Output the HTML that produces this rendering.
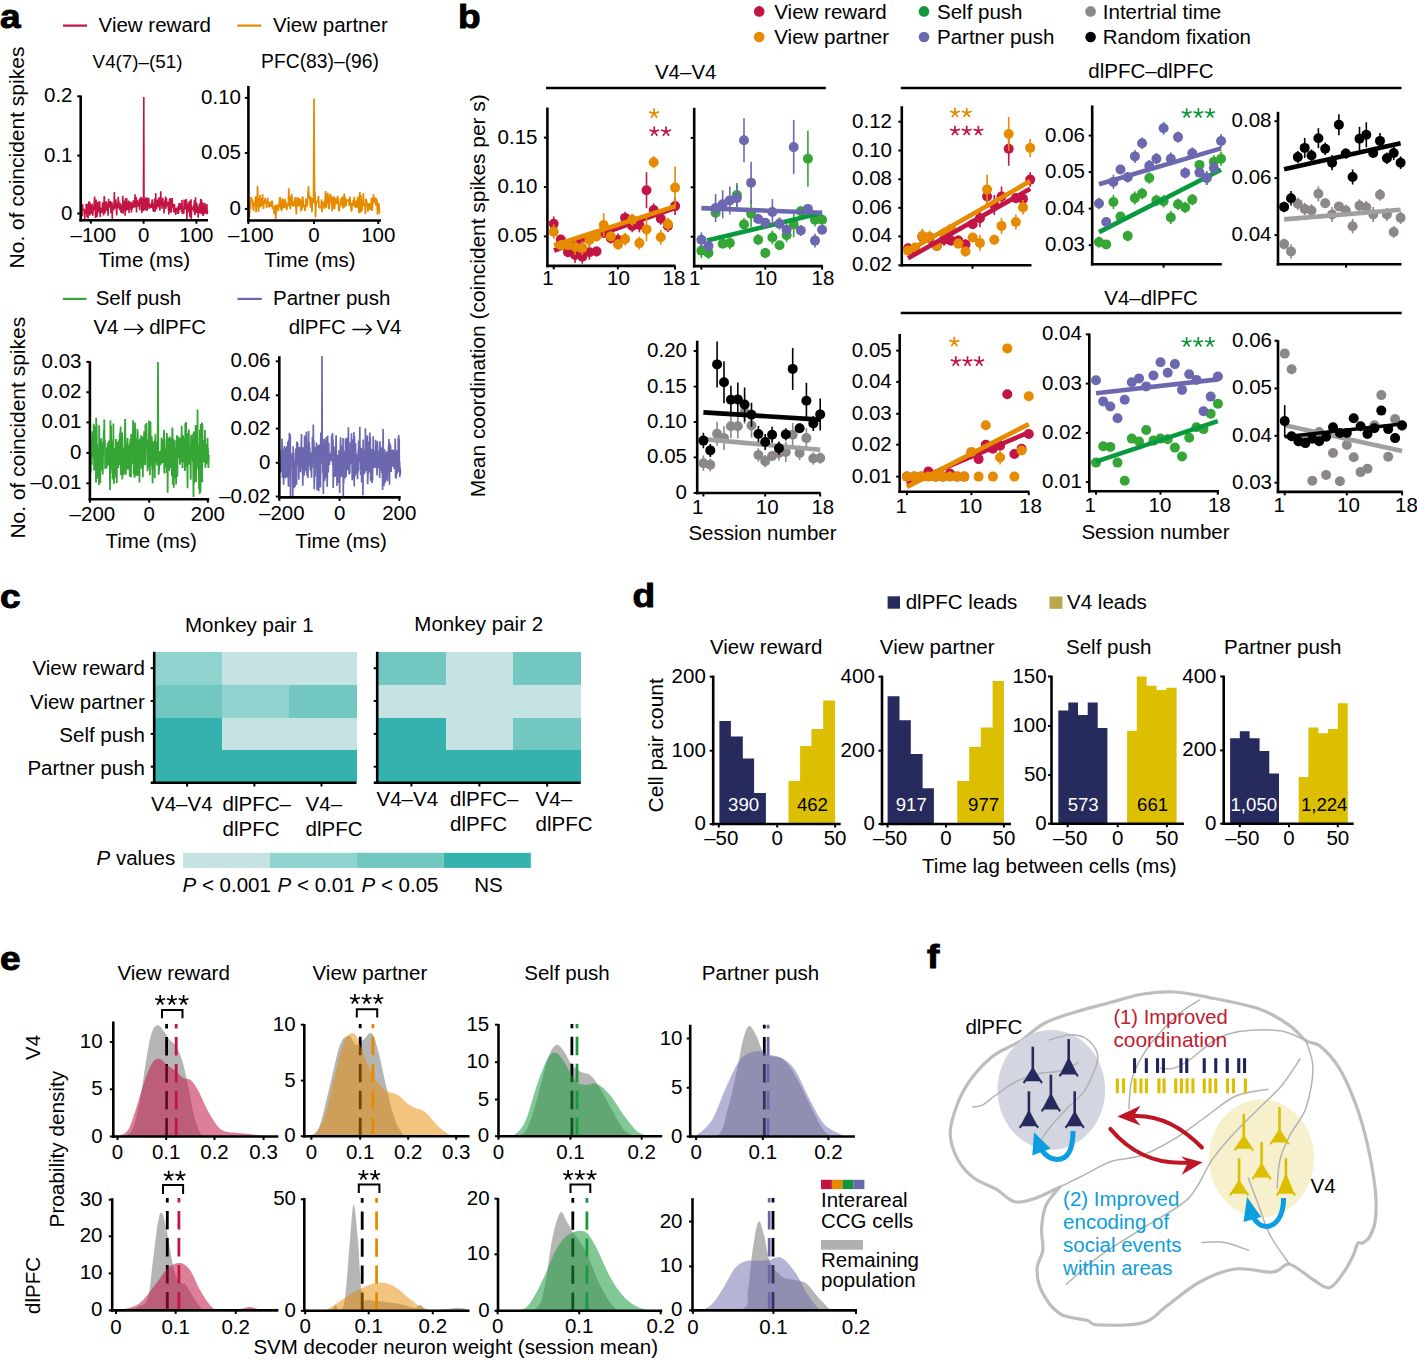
<!DOCTYPE html>
<html><head><meta charset="utf-8"><title>Figure</title>
<style>html,body{margin:0;padding:0;background:#fff;}svg{display:block;font-family:"Liberation Sans",sans-serif;}</style>
</head><body>
<svg width="1417" height="1360" viewBox="0 0 1417 1360">
<rect width="1417" height="1360" fill="#fff"/>
<text transform="translate(0.0,28.2) scale(1.14,1)" font-size="32.5" font-weight="bold" fill="#000" stroke="#000" stroke-width="0.9">a</text>
<line x1="63.0" y1="25.6" x2="87.0" y2="25.6" stroke="#c31545" stroke-width="2.2" />
<text x="98.6" y="32.3" font-size="20.5" text-anchor="start" fill="#000" font-weight="normal" >View reward</text>
<line x1="237.3" y1="25.6" x2="261.3" y2="25.6" stroke="#e68a00" stroke-width="2.2" />
<text x="273.0" y="32.3" font-size="20.5" text-anchor="start" fill="#000" font-weight="normal" >View partner</text>
<text x="137.5" y="68.3" font-size="18.8" text-anchor="middle" fill="#000" font-weight="normal" >V4(7)–(51)</text>
<text x="320.0" y="68.3" font-size="19.3" text-anchor="middle" fill="#000" font-weight="normal" >PFC(83)–(96)</text>
<text transform="translate(24.2,157.5) rotate(-90)" font-size="21" text-anchor="middle" fill="#000">No. of coincident spikes</text>
<text transform="translate(24.6,427.7) rotate(-90)" font-size="21" text-anchor="middle" fill="#000">No. of coincident spikes</text>
<line x1="62.8" y1="298.9" x2="86.4" y2="298.9" stroke="#35a535" stroke-width="2.2" />
<text x="95.7" y="304.6" font-size="20.5" text-anchor="start" fill="#000" font-weight="normal" >Self push</text>
<line x1="237.5" y1="298.9" x2="261.8" y2="298.9" stroke="#6b68b0" stroke-width="2.2" />
<text x="273.0" y="304.5" font-size="20.5" text-anchor="start" fill="#000" font-weight="normal" >Partner push</text>
<text x="93.4" y="333.9" font-size="20.5" text-anchor="start" fill="#000" font-weight="normal" >V4</text>
<text x="206.1" y="333.9" font-size="20.5" text-anchor="end" fill="#000" font-weight="normal" >dlPFC</text>
<path d="M123.9,329.4 H142.6 M137.6,324.3 L142.9,329.4 L137.6,334.5" stroke="#000" stroke-width="1.4" fill="none"/>
<text x="288.8" y="334.1" font-size="20.5" text-anchor="start" fill="#000" font-weight="normal" >dlPFC</text>
<text x="401.5" y="334.1" font-size="20.5" text-anchor="end" fill="#000" font-weight="normal" >V4</text>
<path d="M352.4,329.5 H371.1 M366.1,324.4 L371.4,329.5 L366.1,334.6" stroke="#000" stroke-width="1.4" fill="none"/>
<path d="M82.00,215.45 L82.30,216.21 L82.60,203.99 L82.90,209.37 L83.20,210.16 L83.50,209.82 L83.80,209.19 L84.10,208.84 L84.40,210.67 L84.70,219.00 L85.00,215.01 L85.29,210.03 L85.59,210.73 L85.89,213.95 L86.19,203.82 L86.49,211.13 L86.79,210.02 L87.09,217.31 L87.39,212.14 L87.69,203.70 L87.99,218.40 L88.29,208.43 L88.59,207.50 L88.89,201.38 L89.19,212.25 L89.49,202.52 L89.79,215.63 L90.09,202.48 L90.39,212.21 L90.69,209.46 L90.99,211.48 L91.29,214.00 L91.58,204.97 L91.88,212.24 L92.18,203.81 L92.48,207.53 L92.78,215.72 L93.08,210.50 L93.38,206.16 L93.68,210.25 L93.98,209.17 L94.28,202.45 L94.58,196.54 L94.88,207.30 L95.18,207.56 L95.48,217.87 L95.78,210.10 L96.08,199.51 L96.38,210.28 L96.68,202.73 L96.98,217.21 L97.28,211.43 L97.58,202.53 L97.87,207.86 L98.17,201.48 L98.47,206.35 L98.77,211.34 L99.07,208.50 L99.37,213.38 L99.67,201.24 L99.97,207.49 L100.27,216.97 L100.57,208.55 L100.87,207.78 L101.17,212.85 L101.47,211.90 L101.77,210.75 L102.07,212.51 L102.37,206.26 L102.67,202.36 L102.97,212.15 L103.27,208.12 L103.57,215.37 L103.87,213.85 L104.16,196.16 L104.46,198.55 L104.76,211.87 L105.06,213.29 L105.36,204.54 L105.66,201.71 L105.96,208.80 L106.26,201.53 L106.56,202.05 L106.86,210.84 L107.16,210.71 L107.46,208.36 L107.76,203.57 L108.06,215.73 L108.36,206.60 L108.66,198.79 L108.96,207.68 L109.26,205.76 L109.56,203.98 L109.86,205.34 L110.16,204.93 L110.45,201.04 L110.75,208.46 L111.05,213.36 L111.35,212.04 L111.65,210.71 L111.95,201.90 L112.25,219.00 L112.55,207.55 L112.85,210.29 L113.15,204.41 L113.45,208.95 L113.75,210.11 L114.05,204.24 L114.35,192.12 L114.65,207.34 L114.95,208.47 L115.25,207.39 L115.55,206.24 L115.85,199.34 L116.15,203.66 L116.45,209.12 L116.74,215.34 L117.04,202.84 L117.34,206.72 L117.64,206.44 L117.94,207.71 L118.24,196.78 L118.54,206.43 L118.84,200.88 L119.14,208.72 L119.44,207.25 L119.74,210.09 L120.04,202.91 L120.34,205.64 L120.64,204.58 L120.94,212.70 L121.24,211.79 L121.54,210.16 L121.84,204.74 L122.14,205.51 L122.44,212.96 L122.74,195.84 L123.03,213.80 L123.33,204.84 L123.63,210.39 L123.93,205.57 L124.23,205.04 L124.53,200.52 L124.83,201.81 L125.13,215.64 L125.43,198.17 L125.73,206.16 L126.03,211.19 L126.33,201.98 L126.63,198.09 L126.93,203.34 L127.23,207.96 L127.53,209.76 L127.83,203.99 L128.13,208.96 L128.43,202.74 L128.73,200.67 L129.03,212.93 L129.32,201.37 L129.62,209.58 L129.92,204.40 L130.22,205.32 L130.52,202.58 L130.82,203.73 L131.12,202.13 L131.42,212.50 L131.72,207.46 L132.02,208.90 L132.32,207.03 L132.62,203.27 L132.92,206.02 L133.22,200.37 L133.52,207.65 L133.82,202.20 L134.12,205.16 L134.42,203.47 L134.72,207.58 L135.02,194.22 L135.32,202.97 L135.61,201.28 L135.91,202.50 L136.21,197.10 L136.51,212.54 L136.81,202.05 L137.11,207.17 L137.41,199.78 L137.71,203.97 L138.01,205.08 L138.31,202.46 L138.61,203.27 L138.91,206.63 L139.21,206.63 L139.51,198.63 L139.81,210.16 L140.11,198.43 L140.41,202.99 L140.71,200.98 L141.01,196.83 L141.31,200.61 L141.61,204.46 L141.90,212.96 L142.20,198.10 L142.50,205.79 L142.80,204.58 L143.10,208.44 L143.40,210.94 L143.80,97.00 L144.00,195.33 L144.30,203.52 L144.60,197.65 L144.90,210.14 L145.20,202.55 L145.50,205.37 L145.80,210.23 L146.10,200.96 L146.40,197.22 L146.70,208.13 L147.00,210.86 L147.30,206.60 L147.60,197.90 L147.89,206.77 L148.19,203.58 L148.49,200.26 L148.79,198.00 L149.09,208.94 L149.39,203.47 L149.69,206.52 L149.99,208.03 L150.29,206.72 L150.59,203.80 L150.89,207.39 L151.19,207.17 L151.49,207.59 L151.79,204.62 L152.09,199.97 L152.39,199.85 L152.69,203.27 L152.99,210.46 L153.29,204.59 L153.59,211.93 L153.89,210.63 L154.18,203.71 L154.48,205.48 L154.78,198.57 L155.08,211.57 L155.38,210.30 L155.68,192.93 L155.98,201.40 L156.28,208.61 L156.58,209.23 L156.88,200.47 L157.18,204.87 L157.48,200.14 L157.78,206.94 L158.08,206.61 L158.38,198.02 L158.68,201.45 L158.98,207.46 L159.28,197.15 L159.58,199.54 L159.88,210.64 L160.18,204.91 L160.47,204.90 L160.77,191.20 L161.07,201.15 L161.37,199.02 L161.67,201.65 L161.97,208.81 L162.27,198.86 L162.57,201.68 L162.87,197.74 L163.17,206.07 L163.47,202.38 L163.77,202.21 L164.07,213.56 L164.37,202.63 L164.67,208.51 L164.97,199.93 L165.27,203.43 L165.57,196.58 L165.87,208.80 L166.17,201.30 L166.47,198.21 L166.76,205.65 L167.06,205.67 L167.36,205.44 L167.66,204.50 L167.96,201.79 L168.26,207.19 L168.56,209.56 L168.86,214.50 L169.16,210.57 L169.46,198.69 L169.76,205.98 L170.06,204.58 L170.36,198.04 L170.66,207.36 L170.96,212.82 L171.26,209.62 L171.56,203.59 L171.86,204.33 L172.16,197.95 L172.46,203.89 L172.76,204.02 L173.05,207.66 L173.35,203.97 L173.65,212.17 L173.95,206.21 L174.25,204.18 L174.55,204.84 L174.85,212.11 L175.15,213.04 L175.45,207.72 L175.75,214.93 L176.05,211.13 L176.35,210.36 L176.65,208.04 L176.95,208.94 L177.25,207.75 L177.55,208.76 L177.85,214.00 L178.15,206.10 L178.45,213.05 L178.75,212.63 L179.05,203.01 L179.34,207.87 L179.64,210.04 L179.94,202.95 L180.24,206.88 L180.54,203.66 L180.84,209.36 L181.14,207.86 L181.44,205.95 L181.74,212.26 L182.04,200.02 L182.34,213.86 L182.64,208.79 L182.94,207.67 L183.24,212.53 L183.54,209.81 L183.84,213.79 L184.14,199.41 L184.44,209.02 L184.74,207.09 L185.04,209.27 L185.34,208.95 L185.63,204.78 L185.93,199.84 L186.23,199.80 L186.53,199.14 L186.83,218.91 L187.13,212.65 L187.43,203.68 L187.73,204.77 L188.03,205.59 L188.33,212.55 L188.63,202.35 L188.93,211.90 L189.23,207.23 L189.53,200.82 L189.83,214.99 L190.13,217.49 L190.43,210.76 L190.73,209.48 L191.03,199.31 L191.33,218.94 L191.63,206.51 L191.92,209.76 L192.22,209.70 L192.52,208.21 L192.82,209.58 L193.12,207.04 L193.42,208.54 L193.72,204.88 L194.02,212.34 L194.32,200.20 L194.62,209.25 L194.92,215.21 L195.22,211.63 L195.52,197.38 L195.82,206.13 L196.12,204.88 L196.42,212.97 L196.72,202.77 L197.02,211.17 L197.32,205.76 L197.62,207.09 L197.92,208.98 L198.21,217.77 L198.51,211.68 L198.81,207.97 L199.11,213.60 L199.41,203.47 L199.71,209.31 L200.01,207.41 L200.31,213.19 L200.61,198.88 L200.91,210.76 L201.21,213.81 L201.51,199.42 L201.81,213.33 L202.11,213.84 L202.41,211.06 L202.71,202.18 L203.01,215.94 L203.31,207.07 L203.61,215.39 L203.91,208.78 L204.21,207.17 L204.50,203.85 L204.80,203.00 L205.10,213.68 L205.40,205.97 L205.70,208.53 L206.00,205.65 L206.30,205.28 L206.60,213.70 L206.90,204.07 L207.20,214.20 L207.50,210.28" stroke="#c31545" stroke-width="1.6" fill="none" stroke-linejoin="bevel"/>
<line x1="80.7" y1="95.5" x2="80.7" y2="221.5" stroke="#000" stroke-width="2.6" />
<line x1="79.4" y1="220.2" x2="208.0" y2="220.2" stroke="#000" stroke-width="2.6" />
<line x1="77.2" y1="213.5" x2="80.7" y2="213.5" stroke="#000" stroke-width="2" />
<text x="72.5" y="219.5" font-size="20.5" text-anchor="end" fill="#000" font-weight="normal" >0</text>
<line x1="77.2" y1="155.6" x2="80.7" y2="155.6" stroke="#000" stroke-width="2" />
<text x="72.5" y="161.6" font-size="20.5" text-anchor="end" fill="#000" font-weight="normal" >0.1</text>
<line x1="77.2" y1="96.3" x2="80.7" y2="96.3" stroke="#000" stroke-width="2" />
<text x="72.5" y="102.3" font-size="20.5" text-anchor="end" fill="#000" font-weight="normal" >0.2</text>
<line x1="90.8" y1="220.2" x2="90.8" y2="223.7" stroke="#000" stroke-width="2" />
<text x="93.3" y="242.3" font-size="20.5" text-anchor="middle" fill="#000" font-weight="normal" >–100</text>
<line x1="143.6" y1="220.2" x2="143.6" y2="223.7" stroke="#000" stroke-width="2" />
<text x="143.6" y="242.3" font-size="20.5" text-anchor="middle" fill="#000" font-weight="normal" >0</text>
<line x1="196.4" y1="220.2" x2="196.4" y2="223.7" stroke="#000" stroke-width="2" />
<text x="196.4" y="242.3" font-size="20.5" text-anchor="middle" fill="#000" font-weight="normal" >100</text>
<text x="144.3" y="267.0" font-size="20.5" text-anchor="middle" fill="#000" font-weight="normal" >Time (ms)</text>
<path d="M249.50,217.01 L250.00,201.10 L250.51,209.03 L251.01,197.16 L251.52,198.88 L252.02,200.10 L252.52,199.75 L253.03,206.78 L253.53,210.85 L254.03,202.45 L254.54,205.73 L255.04,204.78 L255.55,196.34 L256.05,212.13 L256.55,204.57 L257.06,205.61 L257.56,186.00 L258.07,203.19 L258.57,211.84 L259.07,198.54 L259.58,205.15 L260.08,195.05 L260.58,207.41 L261.09,203.60 L261.59,198.01 L262.10,205.88 L262.60,194.30 L263.10,204.24 L263.61,209.04 L264.11,200.79 L264.62,203.24 L265.12,198.19 L265.62,203.22 L266.13,201.17 L266.63,208.06 L267.14,201.76 L267.64,197.75 L268.14,203.97 L268.65,202.75 L269.15,207.45 L269.65,202.59 L270.16,202.61 L270.66,206.95 L271.17,202.15 L271.67,201.60 L272.17,200.54 L272.68,209.05 L273.18,207.96 L273.69,206.64 L274.19,214.53 L274.69,208.85 L275.20,204.91 L275.70,219.00 L276.20,210.43 L276.71,207.89 L277.21,204.38 L277.72,207.11 L278.22,211.24 L278.72,206.82 L279.23,203.58 L279.73,197.21 L280.24,197.95 L280.74,209.39 L281.24,204.81 L281.75,210.94 L282.25,198.53 L282.75,199.91 L283.26,204.27 L283.76,208.24 L284.27,207.05 L284.77,199.02 L285.27,200.87 L285.78,207.52 L286.28,202.50 L286.79,210.24 L287.29,204.26 L287.79,206.55 L288.30,204.12 L288.80,188.29 L289.31,202.65 L289.81,204.05 L290.31,209.12 L290.82,196.63 L291.32,196.68 L291.82,194.18 L292.33,206.36 L292.83,201.17 L293.34,204.71 L293.84,206.02 L294.34,205.26 L294.85,197.40 L295.35,202.49 L295.86,205.94 L296.36,214.45 L296.86,197.42 L297.37,205.78 L297.87,197.57 L298.37,206.37 L298.88,204.82 L299.38,198.38 L299.89,199.79 L300.39,200.34 L300.89,211.13 L301.40,204.09 L301.90,209.94 L302.41,196.43 L302.91,197.92 L303.41,206.34 L303.92,206.96 L304.42,205.01 L304.92,210.95 L305.43,207.17 L305.93,198.45 L306.44,206.76 L306.94,204.99 L307.44,204.90 L307.95,194.53 L308.45,186.38 L308.96,198.06 L309.46,195.29 L309.96,199.35 L310.47,207.58 L310.97,197.05 L311.47,202.01 L311.98,212.18 L312.48,198.83 L312.99,198.90 L313.49,203.29 L314.00,98.60 L314.50,199.55 L315.00,191.56 L315.51,217.55 L316.01,205.06 L316.51,203.92 L317.02,201.35 L317.52,200.78 L318.03,199.19 L318.53,195.98 L319.03,208.06 L319.54,207.31 L320.04,208.29 L320.54,206.66 L321.05,207.69 L321.55,199.43 L322.06,212.31 L322.56,202.77 L323.06,201.86 L323.57,203.54 L324.07,205.76 L324.58,208.82 L325.08,200.03 L325.58,191.04 L326.09,207.73 L326.59,202.00 L327.09,203.89 L327.60,192.81 L328.10,196.72 L328.61,207.67 L329.11,209.08 L329.61,203.62 L330.12,194.03 L330.62,195.32 L331.13,202.29 L331.63,196.06 L332.13,211.11 L332.64,209.01 L333.14,203.02 L333.64,196.25 L334.15,208.03 L334.65,208.87 L335.16,197.89 L335.66,200.94 L336.16,203.73 L336.67,203.55 L337.17,198.55 L337.68,195.95 L338.18,201.29 L338.68,209.19 L339.19,211.23 L339.69,207.73 L340.19,204.64 L340.70,198.23 L341.20,205.39 L341.71,201.38 L342.21,196.63 L342.71,204.54 L343.22,208.53 L343.72,202.55 L344.23,193.58 L344.73,207.40 L345.23,197.09 L345.74,204.33 L346.24,205.71 L346.75,199.67 L347.25,200.69 L347.75,199.38 L348.26,200.22 L348.76,199.84 L349.26,205.99 L349.77,196.67 L350.27,200.10 L350.78,204.85 L351.28,211.32 L351.78,210.21 L352.29,203.00 L352.79,205.84 L353.30,199.81 L353.80,205.51 L354.30,196.88 L354.81,206.67 L355.31,207.16 L355.81,206.29 L356.32,200.53 L356.82,207.58 L357.33,206.75 L357.83,197.07 L358.33,198.13 L358.84,213.21 L359.34,199.36 L359.85,192.12 L360.35,212.61 L360.85,195.08 L361.36,202.27 L361.86,211.35 L362.36,201.62 L362.87,206.24 L363.37,193.15 L363.88,205.90 L364.38,205.16 L364.88,205.20 L365.39,213.85 L365.89,198.89 L366.40,200.58 L366.90,203.31 L367.40,202.73 L367.91,211.75 L368.41,206.51 L368.92,203.34 L369.42,204.38 L369.92,209.96 L370.43,204.53 L370.93,208.38 L371.43,198.15 L371.94,210.97 L372.44,207.82 L372.95,199.97 L373.45,194.38 L373.95,203.05 L374.46,200.45 L374.96,201.15 L375.47,197.29 L375.97,205.78 L376.47,198.81 L376.98,200.53 L377.48,214.74 L377.98,203.90 L378.49,203.01 L378.99,204.38 L379.50,213.28 L380.00,213.65" stroke="#e68a00" stroke-width="1.7" fill="none" stroke-linejoin="bevel"/>
<line x1="248.4" y1="85.9" x2="248.4" y2="221.8" stroke="#000" stroke-width="2.6" />
<line x1="247.1" y1="220.5" x2="381.0" y2="220.5" stroke="#000" stroke-width="2.6" />
<line x1="244.9" y1="208.9" x2="248.4" y2="208.9" stroke="#000" stroke-width="2" />
<text x="241.0" y="214.9" font-size="20.5" text-anchor="end" fill="#000" font-weight="normal" >0</text>
<line x1="244.9" y1="153.0" x2="248.4" y2="153.0" stroke="#000" stroke-width="2" />
<text x="241.0" y="159.0" font-size="20.5" text-anchor="end" fill="#000" font-weight="normal" >0.05</text>
<line x1="244.9" y1="97.9" x2="248.4" y2="97.9" stroke="#000" stroke-width="2" />
<text x="241.0" y="103.9" font-size="20.5" text-anchor="end" fill="#000" font-weight="normal" >0.10</text>
<line x1="248.4" y1="220.5" x2="248.4" y2="224.0" stroke="#000" stroke-width="2" />
<text x="250.9" y="242.3" font-size="20.5" text-anchor="middle" fill="#000" font-weight="normal" >–100</text>
<line x1="314.0" y1="220.5" x2="314.0" y2="224.0" stroke="#000" stroke-width="2" />
<text x="314.0" y="242.3" font-size="20.5" text-anchor="middle" fill="#000" font-weight="normal" >0</text>
<line x1="378.3" y1="220.5" x2="378.3" y2="224.0" stroke="#000" stroke-width="2" />
<text x="378.3" y="242.3" font-size="20.5" text-anchor="middle" fill="#000" font-weight="normal" >100</text>
<text x="309.9" y="267.0" font-size="20.5" text-anchor="middle" fill="#000" font-weight="normal" >Time (ms)</text>
<path d="M90.50,455.42 L90.71,472.75 L90.92,447.78 L91.14,450.08 L91.35,453.36 L91.56,464.94 L91.77,462.82 L91.98,439.39 L92.20,434.02 L92.41,431.37 L92.62,451.41 L92.83,449.19 L93.04,452.81 L93.26,457.57 L93.47,448.00 L93.68,423.77 L93.89,432.71 L94.10,470.52 L94.32,458.92 L94.53,449.31 L94.74,469.68 L94.95,450.54 L95.16,439.20 L95.38,453.33 L95.59,425.96 L95.80,437.59 L96.01,482.53 L96.22,417.87 L96.44,478.84 L96.65,424.22 L96.86,451.67 L97.07,443.94 L97.28,452.82 L97.50,459.30 L97.71,476.88 L97.92,468.22 L98.13,447.01 L98.34,478.70 L98.56,450.58 L98.77,451.00 L98.98,484.88 L99.19,425.34 L99.40,451.80 L99.62,459.59 L99.83,458.99 L100.04,468.53 L100.25,483.11 L100.46,461.95 L100.68,465.64 L100.89,445.17 L101.10,441.52 L101.31,438.14 L101.52,470.61 L101.74,447.50 L101.95,454.99 L102.16,466.66 L102.37,451.83 L102.58,453.32 L102.80,474.58 L103.01,456.61 L103.22,442.29 L103.43,441.94 L103.64,443.50 L103.86,430.34 L104.07,436.71 L104.28,419.53 L104.49,443.00 L104.70,446.76 L104.92,440.26 L105.13,468.79 L105.34,454.49 L105.55,450.53 L105.76,450.08 L105.97,463.90 L106.19,460.15 L106.40,468.81 L106.61,448.09 L106.82,466.16 L107.03,459.62 L107.25,446.80 L107.46,466.32 L107.67,443.13 L107.88,444.41 L108.09,452.19 L108.31,458.91 L108.52,465.08 L108.73,458.78 L108.94,441.05 L109.15,457.25 L109.37,442.52 L109.58,440.52 L109.79,461.44 L110.00,489.92 L110.21,455.05 L110.43,420.35 L110.64,468.73 L110.85,453.20 L111.06,425.45 L111.27,450.67 L111.49,467.29 L111.70,443.53 L111.91,447.48 L112.12,472.97 L112.33,440.86 L112.55,479.43 L112.76,442.40 L112.97,459.97 L113.18,465.17 L113.39,423.60 L113.61,472.30 L113.82,453.54 L114.03,483.83 L114.24,448.06 L114.45,461.98 L114.67,466.61 L114.88,477.39 L115.09,454.82 L115.30,452.35 L115.51,465.35 L115.73,457.68 L115.94,438.97 L116.15,466.64 L116.36,461.35 L116.57,456.64 L116.79,483.08 L117.00,449.34 L117.21,448.75 L117.42,465.94 L117.63,441.86 L117.85,446.65 L118.06,467.61 L118.27,467.40 L118.48,462.25 L118.69,458.53 L118.91,456.99 L119.12,439.63 L119.33,440.84 L119.54,460.03 L119.75,433.73 L119.97,465.06 L120.18,431.46 L120.39,448.84 L120.60,426.42 L120.81,467.87 L121.03,475.26 L121.24,438.11 L121.45,473.65 L121.66,473.20 L121.87,459.87 L122.09,432.53 L122.30,479.47 L122.51,466.05 L122.72,454.69 L122.93,449.54 L123.15,465.02 L123.36,447.57 L123.57,474.92 L123.78,473.96 L123.99,472.86 L124.21,448.19 L124.42,455.96 L124.63,436.16 L124.84,453.77 L125.05,418.97 L125.27,428.10 L125.48,442.99 L125.69,454.00 L125.90,474.75 L126.11,443.85 L126.33,465.15 L126.54,469.31 L126.75,462.83 L126.96,453.86 L127.17,445.12 L127.39,445.67 L127.60,437.93 L127.81,460.82 L128.02,448.87 L128.23,469.67 L128.45,444.94 L128.66,458.62 L128.87,464.89 L129.08,449.68 L129.29,464.01 L129.51,447.34 L129.72,476.48 L129.93,443.81 L130.14,444.40 L130.35,439.39 L130.57,455.89 L130.78,442.68 L130.99,477.27 L131.20,433.89 L131.41,456.59 L131.63,462.33 L131.84,436.76 L132.05,463.42 L132.26,442.11 L132.47,443.39 L132.69,456.20 L132.90,436.88 L133.11,420.22 L133.32,458.30 L133.53,464.78 L133.75,474.29 L133.96,429.03 L134.17,447.89 L134.38,468.51 L134.59,477.74 L134.81,469.63 L135.02,422.48 L135.23,443.12 L135.44,438.07 L135.65,460.75 L135.86,468.35 L136.08,449.86 L136.29,450.56 L136.50,475.93 L136.71,459.69 L136.92,450.33 L137.14,457.54 L137.35,429.01 L137.56,438.60 L137.77,431.62 L137.98,475.76 L138.20,448.60 L138.41,440.03 L138.62,454.54 L138.83,445.31 L139.04,450.15 L139.26,467.58 L139.47,482.44 L139.68,461.53 L139.89,450.56 L140.10,438.38 L140.32,443.03 L140.53,450.43 L140.74,462.63 L140.95,454.53 L141.16,435.23 L141.38,452.53 L141.59,468.68 L141.80,442.70 L142.01,453.67 L142.22,446.42 L142.44,467.22 L142.65,436.50 L142.86,477.20 L143.07,459.94 L143.28,458.30 L143.50,457.87 L143.71,462.91 L143.92,464.01 L144.13,431.17 L144.34,446.10 L144.56,459.86 L144.77,457.38 L144.98,464.87 L145.19,464.36 L145.40,424.15 L145.62,435.23 L145.83,447.56 L146.04,449.09 L146.25,442.34 L146.46,422.92 L146.68,439.63 L146.89,444.83 L147.10,439.15 L147.31,460.41 L147.52,471.27 L147.74,444.11 L147.95,441.09 L148.16,460.31 L148.37,448.92 L148.58,467.46 L148.80,458.43 L149.01,420.45 L149.22,445.64 L149.43,451.25 L149.64,446.42 L149.86,475.34 L150.07,443.46 L150.28,466.12 L150.49,421.42 L150.70,454.74 L150.92,436.74 L151.13,462.85 L151.34,458.72 L151.55,448.16 L151.76,436.31 L151.98,448.36 L152.19,469.78 L152.40,467.58 L152.61,483.14 L152.82,441.31 L153.04,467.35 L153.25,464.27 L153.46,454.17 L153.67,444.42 L153.88,456.46 L154.10,442.01 L154.31,459.18 L154.52,462.56 L154.73,478.27 L154.94,439.46 L155.16,458.93 L155.37,434.19 L155.58,462.61 L155.79,455.30 L156.00,460.55 L156.22,444.06 L156.43,444.38 L156.64,452.32 L156.85,442.09 L157.06,465.57 L157.28,448.81 L157.49,462.35 L157.70,434.59 L158.00,361.90 L158.12,400.00 L158.34,460.42 L158.55,455.24 L158.76,474.62 L158.97,461.27 L159.18,470.85 L159.40,451.21 L159.61,457.68 L159.82,452.55 L160.03,460.07 L160.24,451.88 L160.46,465.20 L160.67,463.84 L160.88,462.37 L161.09,449.97 L161.30,463.76 L161.52,437.65 L161.73,444.69 L161.94,459.53 L162.15,452.88 L162.36,463.08 L162.58,450.37 L162.79,439.62 L163.00,453.21 L163.21,450.87 L163.42,451.01 L163.64,447.92 L163.85,434.72 L164.06,429.98 L164.27,473.43 L164.48,439.29 L164.69,467.62 L164.91,460.62 L165.12,447.42 L165.33,450.96 L165.54,454.28 L165.75,458.74 L165.97,452.03 L166.18,452.82 L166.39,457.60 L166.60,472.95 L166.81,433.04 L167.03,437.88 L167.24,456.68 L167.45,459.47 L167.66,492.64 L167.87,459.87 L168.09,468.40 L168.30,462.61 L168.51,437.91 L168.72,439.74 L168.93,442.43 L169.15,470.79 L169.36,464.30 L169.57,436.68 L169.78,437.75 L169.99,449.92 L170.21,444.19 L170.42,468.21 L170.63,452.55 L170.84,438.34 L171.05,457.11 L171.27,467.58 L171.48,448.29 L171.69,456.65 L171.90,475.91 L172.11,443.85 L172.33,427.55 L172.54,431.51 L172.75,484.70 L172.96,443.61 L173.17,456.25 L173.39,438.83 L173.60,444.86 L173.81,487.78 L174.02,451.84 L174.23,441.66 L174.45,478.00 L174.66,460.25 L174.87,440.15 L175.08,474.44 L175.29,464.08 L175.51,461.65 L175.72,468.54 L175.93,474.88 L176.14,484.41 L176.35,450.09 L176.57,447.65 L176.78,469.48 L176.99,435.33 L177.20,476.65 L177.41,474.62 L177.63,436.24 L177.84,454.74 L178.05,452.00 L178.26,445.20 L178.47,451.98 L178.69,456.10 L178.90,437.34 L179.11,457.98 L179.32,453.17 L179.53,441.58 L179.75,459.62 L179.96,464.78 L180.17,461.21 L180.38,443.85 L180.59,459.73 L180.81,438.34 L181.02,437.85 L181.23,454.13 L181.44,462.10 L181.65,425.76 L181.87,452.43 L182.08,455.36 L182.29,456.43 L182.50,468.00 L182.71,444.64 L182.93,461.98 L183.14,435.25 L183.35,458.55 L183.56,462.38 L183.77,439.30 L183.99,449.52 L184.20,459.38 L184.41,438.44 L184.62,446.77 L184.83,470.73 L185.05,470.26 L185.26,423.33 L185.47,437.09 L185.68,445.45 L185.89,445.66 L186.11,422.03 L186.32,441.54 L186.53,467.05 L186.74,447.87 L186.95,446.25 L187.17,433.08 L187.38,472.84 L187.59,488.23 L187.80,442.86 L188.01,452.41 L188.23,461.81 L188.44,463.52 L188.65,459.18 L188.86,429.61 L189.07,449.94 L189.29,454.64 L189.50,452.58 L189.71,464.73 L189.92,459.00 L190.13,449.53 L190.35,452.67 L190.56,474.10 L190.77,479.65 L190.98,444.12 L191.19,434.74 L191.41,454.56 L191.62,444.68 L191.83,457.35 L192.04,450.64 L192.25,448.72 L192.47,458.81 L192.68,452.47 L192.89,461.81 L193.10,434.02 L193.31,480.64 L193.53,497.00 L193.74,435.03 L193.95,431.55 L194.16,483.18 L194.37,452.79 L194.58,456.87 L194.80,457.88 L195.01,434.93 L195.22,436.66 L195.43,460.58 L195.64,425.09 L195.86,434.53 L196.07,481.97 L196.28,447.46 L196.49,455.46 L196.70,458.73 L196.92,462.25 L197.13,448.69 L197.34,466.65 L197.55,409.41 L197.76,454.66 L197.98,447.42 L198.19,466.32 L198.40,470.16 L198.61,444.81 L198.82,463.37 L199.04,488.92 L199.25,449.70 L199.46,444.57 L199.67,494.04 L199.88,429.65 L200.10,453.88 L200.31,446.08 L200.52,492.36 L200.73,424.01 L200.94,448.00 L201.16,434.58 L201.37,461.47 L201.58,468.95 L201.79,432.72 L202.00,422.44 L202.22,482.17 L202.43,424.32 L202.64,444.62 L202.85,450.58 L203.06,440.21 L203.28,442.34 L203.49,462.58 L203.70,446.73 L203.91,449.73 L204.12,447.82 L204.34,448.57 L204.55,453.24 L204.76,457.59 L204.97,430.04 L205.18,448.75 L205.40,467.83 L205.61,445.59 L205.82,464.66 L206.03,443.99 L206.24,451.77 L206.46,463.48 L206.67,457.08 L206.88,456.91 L207.09,458.73 L207.30,445.70 L207.52,438.08 L207.73,452.83 L207.94,447.76 L208.15,456.64 L208.36,468.01 L208.58,462.12 L208.79,455.90 L209.00,454.83" stroke="#35a535" stroke-width="1.8" fill="none" stroke-linejoin="bevel"/>
<line x1="89.9" y1="361.3" x2="89.9" y2="500.5" stroke="#000" stroke-width="2.6" />
<line x1="88.6" y1="499.2" x2="209.3" y2="499.2" stroke="#000" stroke-width="2.6" />
<line x1="86.4" y1="361.9" x2="89.9" y2="361.9" stroke="#000" stroke-width="2" />
<text x="81.5" y="367.9" font-size="20.5" text-anchor="end" fill="#000" font-weight="normal" >0.03</text>
<line x1="86.4" y1="392.2" x2="89.9" y2="392.2" stroke="#000" stroke-width="2" />
<text x="81.5" y="398.2" font-size="20.5" text-anchor="end" fill="#000" font-weight="normal" >0.02</text>
<line x1="86.4" y1="422.4" x2="89.9" y2="422.4" stroke="#000" stroke-width="2" />
<text x="81.5" y="428.4" font-size="20.5" text-anchor="end" fill="#000" font-weight="normal" >0.01</text>
<line x1="86.4" y1="452.9" x2="89.9" y2="452.9" stroke="#000" stroke-width="2" />
<text x="81.5" y="458.9" font-size="20.5" text-anchor="end" fill="#000" font-weight="normal" >0</text>
<line x1="86.4" y1="483.3" x2="89.9" y2="483.3" stroke="#000" stroke-width="2" />
<text x="81.5" y="489.3" font-size="20.5" text-anchor="end" fill="#000" font-weight="normal" >–0.01</text>
<line x1="89.9" y1="499.2" x2="89.9" y2="502.7" stroke="#000" stroke-width="2" />
<text x="92.4" y="520.8" font-size="20.5" text-anchor="middle" fill="#000" font-weight="normal" >–200</text>
<line x1="149.2" y1="499.2" x2="149.2" y2="502.7" stroke="#000" stroke-width="2" />
<text x="149.2" y="520.8" font-size="20.5" text-anchor="middle" fill="#000" font-weight="normal" >0</text>
<line x1="207.9" y1="499.2" x2="207.9" y2="502.7" stroke="#000" stroke-width="2" />
<text x="207.9" y="520.8" font-size="20.5" text-anchor="middle" fill="#000" font-weight="normal" >200</text>
<text x="151.2" y="547.5" font-size="20.5" text-anchor="middle" fill="#000" font-weight="normal" >Time (ms)</text>
<path d="M280.00,460.55 L280.22,466.28 L280.45,472.50 L280.67,465.55 L280.89,460.91 L281.12,450.48 L281.34,462.99 L281.56,465.66 L281.79,471.64 L282.01,438.47 L282.24,453.04 L282.46,477.63 L282.68,464.19 L282.91,456.07 L283.13,451.56 L283.35,459.68 L283.58,484.79 L283.80,449.20 L284.02,474.79 L284.25,450.47 L284.47,446.06 L284.69,459.27 L284.92,466.09 L285.14,469.78 L285.37,478.15 L285.59,465.44 L285.81,447.83 L286.04,462.22 L286.26,452.24 L286.48,464.73 L286.71,446.19 L286.93,477.61 L287.15,465.14 L287.38,456.48 L287.60,461.78 L287.82,441.42 L288.05,466.58 L288.27,473.44 L288.50,486.66 L288.72,439.57 L288.94,471.08 L289.17,461.27 L289.39,432.64 L289.61,477.26 L289.84,457.63 L290.06,468.47 L290.28,434.61 L290.51,496.00 L290.73,467.91 L290.95,462.29 L291.18,458.47 L291.40,465.91 L291.63,461.23 L291.85,464.56 L292.07,456.59 L292.30,453.11 L292.52,460.28 L292.74,496.00 L292.97,462.06 L293.19,446.30 L293.41,460.71 L293.64,473.86 L293.86,460.25 L294.08,488.32 L294.31,470.14 L294.53,462.04 L294.76,463.17 L294.98,487.07 L295.20,475.68 L295.43,452.39 L295.65,475.98 L295.87,448.53 L296.10,454.04 L296.32,460.21 L296.54,484.80 L296.77,441.92 L296.99,465.93 L297.21,441.57 L297.44,448.42 L297.66,443.03 L297.88,465.11 L298.11,458.56 L298.33,458.00 L298.56,456.45 L298.78,479.64 L299.00,456.07 L299.23,448.43 L299.45,446.84 L299.67,460.21 L299.90,461.71 L300.12,464.78 L300.34,455.30 L300.57,472.29 L300.79,448.15 L301.01,454.27 L301.24,449.35 L301.46,434.01 L301.69,462.94 L301.91,447.04 L302.13,451.25 L302.36,468.24 L302.58,469.81 L302.80,485.69 L303.03,461.71 L303.25,447.26 L303.47,456.44 L303.70,461.59 L303.92,475.51 L304.14,474.15 L304.37,472.39 L304.59,435.60 L304.82,470.75 L305.04,466.55 L305.26,453.95 L305.49,438.65 L305.71,471.31 L305.93,463.43 L306.16,466.87 L306.38,431.77 L306.60,447.84 L306.83,453.58 L307.05,475.68 L307.27,454.67 L307.50,460.53 L307.72,445.68 L307.95,478.04 L308.17,451.77 L308.39,443.41 L308.62,430.91 L308.84,466.11 L309.06,464.27 L309.29,441.89 L309.51,461.69 L309.73,447.31 L309.96,466.54 L310.18,463.73 L310.40,470.63 L310.63,452.47 L310.85,455.66 L311.08,455.88 L311.30,468.41 L311.52,477.79 L311.75,462.69 L311.97,460.39 L312.19,467.73 L312.42,436.76 L312.64,446.37 L312.86,452.04 L313.09,462.28 L313.31,424.58 L313.53,449.91 L313.76,440.08 L313.98,449.91 L314.21,489.26 L314.43,476.79 L314.65,447.29 L314.88,451.22 L315.10,476.80 L315.32,448.94 L315.55,468.01 L315.77,458.13 L315.99,461.16 L316.22,453.50 L316.44,442.52 L316.66,454.38 L316.89,454.50 L317.11,490.25 L317.33,457.68 L317.56,468.76 L317.78,465.66 L318.01,478.28 L318.23,445.36 L318.45,450.01 L318.68,491.26 L318.90,452.83 L319.12,444.59 L319.35,452.19 L319.57,458.79 L319.79,457.21 L320.02,466.29 L320.24,453.11 L320.46,487.53 L320.69,441.29 L320.91,432.40 L321.14,440.69 L321.36,452.36 L321.58,452.19 L321.81,459.87 L322.00,356.00 L322.25,463.38 L322.48,444.14 L322.70,472.90 L322.92,442.84 L323.15,469.24 L323.37,494.02 L323.59,464.08 L323.82,474.60 L324.04,439.53 L324.27,438.73 L324.49,463.14 L324.71,481.13 L324.94,459.53 L325.16,440.98 L325.38,477.99 L325.61,474.67 L325.83,471.70 L326.05,442.62 L326.28,437.04 L326.50,452.99 L326.72,452.35 L326.95,449.87 L327.17,486.86 L327.40,474.36 L327.62,435.43 L327.84,448.61 L328.07,442.46 L328.29,472.56 L328.51,459.01 L328.74,443.04 L328.96,460.20 L329.18,461.58 L329.41,464.95 L329.63,457.79 L329.85,453.65 L330.08,459.43 L330.30,459.97 L330.53,458.14 L330.75,458.20 L330.97,452.52 L331.20,461.04 L331.42,459.75 L331.64,435.16 L331.87,457.19 L332.09,457.83 L332.31,460.68 L332.54,433.10 L332.76,465.09 L332.98,439.54 L333.21,488.01 L333.43,463.17 L333.65,460.50 L333.88,446.21 L334.10,451.87 L334.33,476.93 L334.55,470.37 L334.77,461.98 L335.00,475.32 L335.22,476.82 L335.44,462.99 L335.67,465.13 L335.89,446.13 L336.11,435.22 L336.34,451.98 L336.56,472.55 L336.78,460.95 L337.01,485.97 L337.23,454.96 L337.46,476.73 L337.68,483.25 L337.90,471.98 L338.13,482.70 L338.35,463.92 L338.57,471.67 L338.80,462.60 L339.02,449.94 L339.24,452.01 L339.47,467.37 L339.69,492.94 L339.91,464.60 L340.14,459.38 L340.36,447.21 L340.59,437.38 L340.81,469.99 L341.03,471.74 L341.26,445.57 L341.48,476.97 L341.70,467.56 L341.93,461.83 L342.15,452.06 L342.37,456.03 L342.60,446.12 L342.82,476.01 L343.04,437.92 L343.27,496.00 L343.49,469.12 L343.72,483.52 L343.94,456.08 L344.16,460.07 L344.39,454.21 L344.61,464.62 L344.83,450.93 L345.06,478.48 L345.28,464.61 L345.50,438.57 L345.73,455.13 L345.95,476.56 L346.17,476.29 L346.40,457.29 L346.62,445.24 L346.85,442.82 L347.07,437.64 L347.29,469.35 L347.52,464.53 L347.74,470.10 L347.96,454.53 L348.19,453.84 L348.41,427.23 L348.63,450.63 L348.86,451.46 L349.08,474.43 L349.30,465.81 L349.53,453.21 L349.75,473.48 L349.97,447.82 L350.20,455.60 L350.42,442.34 L350.65,463.89 L350.87,456.07 L351.09,446.61 L351.32,449.67 L351.54,433.26 L351.76,464.16 L351.99,455.80 L352.21,480.26 L352.43,454.71 L352.66,473.63 L352.88,475.78 L353.10,439.27 L353.33,472.43 L353.55,466.84 L353.78,479.04 L354.00,432.25 L354.22,486.61 L354.45,435.97 L354.67,471.20 L354.89,460.25 L355.12,476.14 L355.34,470.60 L355.56,442.99 L355.79,458.86 L356.01,453.29 L356.23,462.84 L356.46,454.47 L356.68,470.98 L356.91,474.24 L357.13,473.07 L357.35,472.72 L357.58,479.24 L357.80,455.74 L358.02,472.01 L358.25,450.08 L358.47,457.69 L358.69,440.52 L358.92,462.16 L359.14,451.98 L359.36,456.22 L359.59,454.87 L359.81,426.77 L360.04,456.08 L360.26,471.10 L360.48,463.95 L360.71,475.02 L360.93,453.93 L361.15,449.94 L361.38,447.88 L361.60,482.55 L361.82,465.59 L362.05,459.89 L362.27,479.70 L362.49,460.32 L362.72,461.00 L362.94,495.28 L363.17,439.55 L363.39,467.88 L363.61,461.54 L363.84,450.60 L364.06,474.40 L364.28,459.41 L364.51,472.22 L364.73,458.05 L364.95,472.83 L365.18,460.05 L365.40,428.33 L365.62,462.01 L365.85,455.52 L366.07,463.59 L366.29,470.92 L366.52,461.89 L366.74,458.25 L366.97,437.33 L367.19,446.28 L367.41,435.23 L367.64,484.27 L367.86,478.32 L368.08,470.34 L368.31,441.42 L368.53,472.78 L368.75,447.78 L368.98,457.36 L369.20,471.91 L369.42,446.14 L369.65,445.34 L369.87,432.61 L370.10,463.69 L370.32,437.35 L370.54,472.85 L370.77,480.87 L370.99,461.54 L371.21,459.44 L371.44,449.06 L371.66,457.97 L371.88,481.35 L372.11,482.99 L372.33,456.47 L372.55,480.02 L372.78,450.39 L373.00,460.85 L373.23,436.28 L373.45,454.95 L373.67,450.97 L373.90,451.89 L374.12,453.30 L374.34,467.87 L374.57,451.60 L374.79,461.05 L375.01,452.24 L375.24,450.36 L375.46,455.14 L375.68,439.88 L375.91,467.82 L376.13,461.45 L376.36,455.35 L376.58,468.85 L376.80,460.30 L377.03,475.44 L377.25,461.37 L377.47,441.27 L377.70,450.12 L377.92,455.51 L378.14,454.91 L378.37,467.94 L378.59,450.66 L378.81,453.12 L379.04,466.09 L379.26,456.09 L379.49,463.35 L379.71,478.10 L379.93,441.22 L380.16,455.92 L380.38,446.33 L380.60,465.88 L380.83,464.71 L381.05,470.87 L381.27,447.57 L381.50,450.68 L381.72,455.93 L381.94,473.59 L382.17,460.63 L382.39,453.01 L382.62,490.06 L382.84,465.66 L383.06,428.91 L383.29,446.94 L383.51,470.75 L383.73,470.48 L383.96,486.03 L384.18,458.08 L384.40,465.19 L384.63,449.28 L384.85,457.98 L385.07,469.42 L385.30,482.79 L385.52,461.29 L385.74,459.19 L385.97,468.19 L386.19,473.39 L386.42,457.75 L386.64,451.52 L386.86,471.70 L387.09,479.76 L387.31,465.30 L387.53,481.16 L387.76,465.75 L387.98,465.96 L388.20,466.31 L388.43,446.68 L388.65,451.70 L388.87,438.90 L389.10,459.58 L389.32,466.57 L389.55,484.75 L389.77,442.54 L389.99,465.58 L390.22,458.75 L390.44,445.10 L390.66,448.94 L390.89,465.96 L391.11,471.87 L391.33,450.49 L391.56,450.25 L391.78,454.49 L392.00,449.99 L392.23,458.77 L392.45,456.54 L392.68,466.77 L392.90,454.39 L393.12,449.61 L393.35,460.44 L393.57,463.07 L393.79,463.14 L394.02,451.29 L394.24,468.96 L394.46,454.59 L394.69,464.58 L394.91,462.25 L395.13,438.63 L395.36,444.47 L395.58,478.24 L395.81,471.27 L396.03,475.13 L396.25,478.59 L396.48,467.75 L396.70,455.57 L396.92,450.00 L397.15,473.79 L397.37,460.24 L397.59,462.90 L397.82,458.50 L398.04,467.94 L398.26,437.52 L398.49,471.83 L398.71,434.97 L398.94,457.91 L399.16,438.67 L399.38,472.21 L399.61,461.71 L399.83,477.25 L400.05,466.79 L400.28,474.17 L400.50,470.50" stroke="#6b68b0" stroke-width="1.7" fill="none" stroke-linejoin="bevel"/>
<line x1="279.3" y1="356.2" x2="279.3" y2="498.7" stroke="#000" stroke-width="2.6" />
<line x1="278.0" y1="497.4" x2="400.7" y2="497.4" stroke="#000" stroke-width="2.6" />
<line x1="275.8" y1="361.3" x2="279.3" y2="361.3" stroke="#000" stroke-width="2" />
<text x="270.5" y="367.3" font-size="20.5" text-anchor="end" fill="#000" font-weight="normal" >0.06</text>
<line x1="275.8" y1="395.3" x2="279.3" y2="395.3" stroke="#000" stroke-width="2" />
<text x="270.5" y="401.3" font-size="20.5" text-anchor="end" fill="#000" font-weight="normal" >0.04</text>
<line x1="275.8" y1="428.6" x2="279.3" y2="428.6" stroke="#000" stroke-width="2" />
<text x="270.5" y="434.6" font-size="20.5" text-anchor="end" fill="#000" font-weight="normal" >0.02</text>
<line x1="275.8" y1="462.8" x2="279.3" y2="462.8" stroke="#000" stroke-width="2" />
<text x="270.5" y="468.8" font-size="20.5" text-anchor="end" fill="#000" font-weight="normal" >0</text>
<line x1="275.8" y1="496.5" x2="279.3" y2="496.5" stroke="#000" stroke-width="2" />
<text x="270.5" y="502.5" font-size="20.5" text-anchor="end" fill="#000" font-weight="normal" >–0.02</text>
<line x1="279.3" y1="497.4" x2="279.3" y2="500.9" stroke="#000" stroke-width="2" />
<text x="281.8" y="519.8" font-size="20.5" text-anchor="middle" fill="#000" font-weight="normal" >–200</text>
<line x1="339.6" y1="497.4" x2="339.6" y2="500.9" stroke="#000" stroke-width="2" />
<text x="339.6" y="519.8" font-size="20.5" text-anchor="middle" fill="#000" font-weight="normal" >0</text>
<line x1="399.3" y1="497.4" x2="399.3" y2="500.9" stroke="#000" stroke-width="2" />
<text x="399.3" y="519.8" font-size="20.5" text-anchor="middle" fill="#000" font-weight="normal" >200</text>
<text x="341.0" y="547.6" font-size="20.5" text-anchor="middle" fill="#000" font-weight="normal" >Time (ms)</text>
<text transform="translate(457.9,28.2) scale(1.14,1)" font-size="32.5" font-weight="bold" fill="#000" stroke="#000" stroke-width="0.9">b</text>
<circle cx="759.2" cy="11.4" r="5.3" fill="#c31545"/>
<text x="774.3" y="18.5" font-size="20.5" text-anchor="start" fill="#000" font-weight="normal" >View reward</text>
<circle cx="759.2" cy="37.0" r="5.3" fill="#e68a00"/>
<text x="774.3" y="44.0" font-size="20.5" text-anchor="start" fill="#000" font-weight="normal" >View partner</text>
<circle cx="924.0" cy="11.4" r="5.3" fill="#12963d"/>
<text x="937.0" y="18.5" font-size="20.5" text-anchor="start" fill="#000" font-weight="normal" >Self push</text>
<circle cx="924.0" cy="37.0" r="5.3" fill="#6b68b0"/>
<text x="937.0" y="44.0" font-size="20.5" text-anchor="start" fill="#000" font-weight="normal" >Partner push</text>
<circle cx="1090.6" cy="11.4" r="5.3" fill="#8c8887"/>
<text x="1102.8" y="18.5" font-size="20.5" text-anchor="start" fill="#000" font-weight="normal" >Intertrial time</text>
<circle cx="1090.6" cy="37.0" r="5.3" fill="#000"/>
<text x="1102.8" y="44.0" font-size="20.5" text-anchor="start" fill="#000" font-weight="normal" >Random fixation</text>
<text x="685.7" y="79.4" font-size="20.5" text-anchor="middle" fill="#000" font-weight="normal" >V4–V4</text>
<line x1="546.0" y1="88.0" x2="825.9" y2="88.0" stroke="#000" stroke-width="2.6" />
<text x="1151.0" y="78.2" font-size="20.5" text-anchor="middle" fill="#000" font-weight="normal" >dlPFC–dlPFC</text>
<line x1="900.8" y1="88.0" x2="1401.5" y2="88.0" stroke="#000" stroke-width="2.6" />
<text x="1151.0" y="304.5" font-size="20.5" text-anchor="middle" fill="#000" font-weight="normal" >V4–dlPFC</text>
<line x1="900.7" y1="313.0" x2="1401.7" y2="313.0" stroke="#000" stroke-width="2.6" />
<text transform="translate(484.8,295.7) rotate(-90)" font-size="20.9" text-anchor="middle" fill="#000">Mean coordination (coincident spikes per s)</text>
<text x="762.5" y="539.8" font-size="20.5" text-anchor="middle" fill="#000" font-weight="normal" >Session number</text>
<text x="1155.5" y="539.2" font-size="20.5" text-anchor="middle" fill="#000" font-weight="normal" >Session number</text>
<line x1="547.4" y1="107.6" x2="547.4" y2="267.2" stroke="#000" stroke-width="2.6" />
<line x1="546.1" y1="265.9" x2="675.5" y2="265.9" stroke="#000" stroke-width="2.6" />
<line x1="543.9" y1="137.6" x2="547.4" y2="137.6" stroke="#000" stroke-width="2" />
<text x="537.5" y="143.6" font-size="20.5" text-anchor="end" fill="#000" font-weight="normal" >0.15</text>
<line x1="543.9" y1="187.0" x2="547.4" y2="187.0" stroke="#000" stroke-width="2" />
<text x="537.5" y="193.0" font-size="20.5" text-anchor="end" fill="#000" font-weight="normal" >0.10</text>
<line x1="543.9" y1="236.4" x2="547.4" y2="236.4" stroke="#000" stroke-width="2" />
<text x="537.5" y="242.4" font-size="20.5" text-anchor="end" fill="#000" font-weight="normal" >0.05</text>
<line x1="553.7" y1="265.9" x2="553.7" y2="269.4" stroke="#000" stroke-width="2" />
<line x1="617.9" y1="265.9" x2="617.9" y2="269.4" stroke="#000" stroke-width="2" />
<line x1="675.0" y1="265.9" x2="675.0" y2="269.4" stroke="#000" stroke-width="2" />
<text x="547.9" y="285.0" font-size="20.5" text-anchor="middle" fill="#000" font-weight="normal" >1</text>
<text x="618.5" y="285.0" font-size="20.5" text-anchor="middle" fill="#000" font-weight="normal" >10</text>
<text x="674.0" y="285.0" font-size="20.5" text-anchor="middle" fill="#000" font-weight="normal" >18</text>
<line x1="553.7" y1="216.4" x2="553.7" y2="231.1" stroke="#c31545" stroke-width="1.6" />
<line x1="560.8" y1="235.2" x2="560.8" y2="244.1" stroke="#c31545" stroke-width="1.6" />
<line x1="568.0" y1="247.3" x2="568.0" y2="257.3" stroke="#c31545" stroke-width="1.6" />
<line x1="575.1" y1="247.0" x2="575.1" y2="262.9" stroke="#c31545" stroke-width="1.6" />
<line x1="582.3" y1="249.7" x2="582.3" y2="263.7" stroke="#c31545" stroke-width="1.6" />
<line x1="589.4" y1="244.8" x2="589.4" y2="259.8" stroke="#c31545" stroke-width="1.6" />
<line x1="596.5" y1="246.5" x2="596.5" y2="256.4" stroke="#c31545" stroke-width="1.6" />
<line x1="603.7" y1="228.1" x2="603.7" y2="237.7" stroke="#c31545" stroke-width="1.6" />
<line x1="610.8" y1="232.8" x2="610.8" y2="243.6" stroke="#c31545" stroke-width="1.6" />
<line x1="618.0" y1="233.5" x2="618.0" y2="246.4" stroke="#c31545" stroke-width="1.6" />
<line x1="625.1" y1="211.7" x2="625.1" y2="224.2" stroke="#c31545" stroke-width="1.6" />
<line x1="632.2" y1="219.4" x2="632.2" y2="232.3" stroke="#c31545" stroke-width="1.6" />
<line x1="639.4" y1="217.6" x2="639.4" y2="232.4" stroke="#c31545" stroke-width="1.6" />
<line x1="646.5" y1="172.2" x2="646.5" y2="208.2" stroke="#c31545" stroke-width="1.6" />
<line x1="653.7" y1="203.3" x2="653.7" y2="216.6" stroke="#c31545" stroke-width="1.6" />
<line x1="660.8" y1="212.9" x2="660.8" y2="224.7" stroke="#c31545" stroke-width="1.6" />
<line x1="667.9" y1="219.6" x2="667.9" y2="232.1" stroke="#c31545" stroke-width="1.6" />
<line x1="675.1" y1="197.1" x2="675.1" y2="215.1" stroke="#c31545" stroke-width="1.6" />
<circle cx="553.7" cy="223.7" r="5.0" fill="#c31545"/>
<circle cx="560.8" cy="239.6" r="5.0" fill="#c31545"/>
<circle cx="568.0" cy="252.3" r="5.0" fill="#c31545"/>
<circle cx="575.1" cy="255.0" r="5.0" fill="#c31545"/>
<circle cx="582.3" cy="256.7" r="5.0" fill="#c31545"/>
<circle cx="589.4" cy="252.3" r="5.0" fill="#c31545"/>
<circle cx="596.5" cy="251.4" r="5.0" fill="#c31545"/>
<circle cx="603.7" cy="232.9" r="5.0" fill="#c31545"/>
<circle cx="610.8" cy="238.2" r="5.0" fill="#c31545"/>
<circle cx="618.0" cy="240.0" r="5.0" fill="#c31545"/>
<circle cx="625.1" cy="217.9" r="5.0" fill="#c31545"/>
<circle cx="632.2" cy="225.9" r="5.0" fill="#c31545"/>
<circle cx="639.4" cy="225.0" r="5.0" fill="#c31545"/>
<circle cx="646.5" cy="190.2" r="5.0" fill="#c31545"/>
<circle cx="653.7" cy="210.0" r="5.0" fill="#c31545"/>
<circle cx="660.8" cy="218.8" r="5.0" fill="#c31545"/>
<circle cx="667.9" cy="225.9" r="5.0" fill="#c31545"/>
<circle cx="675.1" cy="206.1" r="5.0" fill="#c31545"/>
<line x1="554.1" y1="250.5" x2="675.0" y2="208.2" stroke="#c31545" stroke-width="4.6" />
<line x1="553.7" y1="224.3" x2="553.7" y2="239.0" stroke="#e68a00" stroke-width="1.6" />
<line x1="560.8" y1="240.8" x2="560.8" y2="249.7" stroke="#e68a00" stroke-width="1.6" />
<line x1="568.0" y1="240.3" x2="568.0" y2="250.2" stroke="#e68a00" stroke-width="1.6" />
<line x1="575.1" y1="239.1" x2="575.1" y2="255.0" stroke="#e68a00" stroke-width="1.6" />
<line x1="582.3" y1="240.9" x2="582.3" y2="254.9" stroke="#e68a00" stroke-width="1.6" />
<line x1="589.4" y1="232.4" x2="589.4" y2="247.5" stroke="#e68a00" stroke-width="1.6" />
<line x1="596.5" y1="231.5" x2="596.5" y2="241.4" stroke="#e68a00" stroke-width="1.6" />
<line x1="603.7" y1="213.0" x2="603.7" y2="237.0" stroke="#e68a00" stroke-width="1.6" />
<line x1="610.8" y1="231.7" x2="610.8" y2="241.2" stroke="#e68a00" stroke-width="1.6" />
<line x1="618.0" y1="239.0" x2="618.0" y2="249.8" stroke="#e68a00" stroke-width="1.6" />
<line x1="625.1" y1="232.7" x2="625.1" y2="245.5" stroke="#e68a00" stroke-width="1.6" />
<line x1="632.2" y1="213.4" x2="632.2" y2="225.9" stroke="#e68a00" stroke-width="1.6" />
<line x1="639.4" y1="236.7" x2="639.4" y2="249.6" stroke="#e68a00" stroke-width="1.6" />
<line x1="646.5" y1="217.4" x2="646.5" y2="241.4" stroke="#e68a00" stroke-width="1.6" />
<line x1="653.7" y1="156.3" x2="653.7" y2="168.3" stroke="#e68a00" stroke-width="1.6" />
<line x1="660.8" y1="229.9" x2="660.8" y2="244.7" stroke="#e68a00" stroke-width="1.6" />
<line x1="667.9" y1="217.4" x2="667.9" y2="230.7" stroke="#e68a00" stroke-width="1.6" />
<line x1="675.1" y1="166.6" x2="675.1" y2="208.6" stroke="#e68a00" stroke-width="1.6" />
<circle cx="553.7" cy="231.7" r="5.0" fill="#e68a00"/>
<circle cx="560.8" cy="245.3" r="5.0" fill="#e68a00"/>
<circle cx="568.0" cy="245.3" r="5.0" fill="#e68a00"/>
<circle cx="575.1" cy="247.0" r="5.0" fill="#e68a00"/>
<circle cx="582.3" cy="247.9" r="5.0" fill="#e68a00"/>
<circle cx="589.4" cy="240.0" r="5.0" fill="#e68a00"/>
<circle cx="596.5" cy="236.4" r="5.0" fill="#e68a00"/>
<circle cx="603.7" cy="225.0" r="5.0" fill="#e68a00"/>
<circle cx="610.8" cy="236.4" r="5.0" fill="#e68a00"/>
<circle cx="618.0" cy="244.4" r="5.0" fill="#e68a00"/>
<circle cx="625.1" cy="239.1" r="5.0" fill="#e68a00"/>
<circle cx="632.2" cy="219.7" r="5.0" fill="#e68a00"/>
<circle cx="639.4" cy="243.1" r="5.0" fill="#e68a00"/>
<circle cx="646.5" cy="229.4" r="5.0" fill="#e68a00"/>
<circle cx="653.7" cy="162.3" r="5.0" fill="#e68a00"/>
<circle cx="660.8" cy="237.3" r="5.0" fill="#e68a00"/>
<circle cx="667.9" cy="224.1" r="5.0" fill="#e68a00"/>
<circle cx="675.1" cy="187.6" r="5.0" fill="#e68a00"/>
<line x1="554.1" y1="245.3" x2="675.0" y2="206.4" stroke="#e68a00" stroke-width="4.6" />
<path d="M654.10,113.50L654.10,108.30M654.10,113.50L659.05,111.89M654.10,113.50L657.16,117.71M654.10,113.50L651.04,117.71M654.10,113.50L649.15,111.89" stroke="#e68a00" stroke-width="1.7" fill="none"/>
<path d="M654.30,131.60L654.30,126.40M654.30,131.60L659.25,129.99M654.30,131.60L657.36,135.81M654.30,131.60L651.24,135.81M654.30,131.60L649.35,129.99" stroke="#c31545" stroke-width="1.7" fill="none"/>
<path d="M666.00,131.60L666.00,126.40M666.00,131.60L670.95,129.99M666.00,131.60L669.06,135.81M666.00,131.60L662.94,135.81M666.00,131.60L661.05,129.99" stroke="#c31545" stroke-width="1.7" fill="none"/>
<line x1="694.2" y1="107.8" x2="694.2" y2="267.4" stroke="#000" stroke-width="2.6" />
<line x1="692.9" y1="266.1" x2="822.9" y2="266.1" stroke="#000" stroke-width="2.6" />
<line x1="690.7" y1="137.9" x2="694.2" y2="137.9" stroke="#000" stroke-width="2" />
<line x1="690.7" y1="187.3" x2="694.2" y2="187.3" stroke="#000" stroke-width="2" />
<line x1="690.7" y1="236.7" x2="694.2" y2="236.7" stroke="#000" stroke-width="2" />
<line x1="701.4" y1="266.1" x2="701.4" y2="269.6" stroke="#000" stroke-width="2" />
<line x1="765.3" y1="266.1" x2="765.3" y2="269.6" stroke="#000" stroke-width="2" />
<line x1="822.1" y1="266.1" x2="822.1" y2="269.6" stroke="#000" stroke-width="2" />
<text x="694.7" y="285.4" font-size="20.5" text-anchor="middle" fill="#000" font-weight="normal" >1</text>
<text x="765.8" y="285.4" font-size="20.5" text-anchor="middle" fill="#000" font-weight="normal" >10</text>
<text x="822.9" y="285.4" font-size="20.5" text-anchor="middle" fill="#000" font-weight="normal" >18</text>
<line x1="701.4" y1="243.1" x2="701.4" y2="258.2" stroke="#35a535" stroke-width="1.6" />
<line x1="708.5" y1="246.7" x2="708.5" y2="259.1" stroke="#35a535" stroke-width="1.6" />
<line x1="715.6" y1="207.5" x2="715.6" y2="218.1" stroke="#35a535" stroke-width="1.6" />
<line x1="722.7" y1="239.3" x2="722.7" y2="248.0" stroke="#35a535" stroke-width="1.6" />
<line x1="729.8" y1="236.6" x2="729.8" y2="249.2" stroke="#35a535" stroke-width="1.6" />
<line x1="736.9" y1="183.0" x2="736.9" y2="207.0" stroke="#35a535" stroke-width="1.6" />
<line x1="744.0" y1="218.1" x2="744.0" y2="230.6" stroke="#35a535" stroke-width="1.6" />
<line x1="751.1" y1="199.6" x2="751.1" y2="227.6" stroke="#35a535" stroke-width="1.6" />
<line x1="758.2" y1="234.3" x2="758.2" y2="245.3" stroke="#35a535" stroke-width="1.6" />
<line x1="765.3" y1="247.9" x2="765.3" y2="257.9" stroke="#35a535" stroke-width="1.6" />
<line x1="772.4" y1="230.6" x2="772.4" y2="244.4" stroke="#35a535" stroke-width="1.6" />
<line x1="779.5" y1="241.0" x2="779.5" y2="249.5" stroke="#35a535" stroke-width="1.6" />
<line x1="786.6" y1="228.1" x2="786.6" y2="242.2" stroke="#35a535" stroke-width="1.6" />
<line x1="793.7" y1="211.4" x2="793.7" y2="237.4" stroke="#35a535" stroke-width="1.6" />
<line x1="800.8" y1="206.4" x2="800.8" y2="216.0" stroke="#35a535" stroke-width="1.6" />
<line x1="807.9" y1="130.7" x2="807.9" y2="186.7" stroke="#35a535" stroke-width="1.6" />
<line x1="815.0" y1="212.9" x2="815.0" y2="226.6" stroke="#35a535" stroke-width="1.6" />
<line x1="822.1" y1="215.3" x2="822.1" y2="224.2" stroke="#35a535" stroke-width="1.6" />
<circle cx="701.4" cy="250.6" r="5.0" fill="#35a535"/>
<circle cx="708.5" cy="252.9" r="5.0" fill="#35a535"/>
<circle cx="715.6" cy="212.8" r="5.0" fill="#35a535"/>
<circle cx="722.7" cy="243.7" r="5.0" fill="#35a535"/>
<circle cx="729.8" cy="242.9" r="5.0" fill="#35a535"/>
<circle cx="736.9" cy="195.0" r="5.0" fill="#35a535"/>
<circle cx="744.0" cy="224.4" r="5.0" fill="#35a535"/>
<circle cx="751.1" cy="213.6" r="5.0" fill="#35a535"/>
<circle cx="758.2" cy="239.8" r="5.0" fill="#35a535"/>
<circle cx="765.3" cy="252.9" r="5.0" fill="#35a535"/>
<circle cx="772.4" cy="237.5" r="5.0" fill="#35a535"/>
<circle cx="779.5" cy="245.2" r="5.0" fill="#35a535"/>
<circle cx="786.6" cy="235.2" r="5.0" fill="#35a535"/>
<circle cx="793.7" cy="224.4" r="5.0" fill="#35a535"/>
<circle cx="800.8" cy="211.2" r="5.0" fill="#35a535"/>
<circle cx="807.9" cy="158.7" r="5.0" fill="#35a535"/>
<circle cx="815.0" cy="219.7" r="5.0" fill="#35a535"/>
<circle cx="822.1" cy="219.7" r="5.0" fill="#35a535"/>
<line x1="707.0" y1="240.6" x2="822.1" y2="212.8" stroke="#089a3e" stroke-width="4.6" />
<line x1="701.4" y1="232.3" x2="701.4" y2="247.4" stroke="#6b68b0" stroke-width="1.6" />
<line x1="708.5" y1="239.8" x2="708.5" y2="252.2" stroke="#6b68b0" stroke-width="1.6" />
<line x1="715.6" y1="194.1" x2="715.6" y2="222.1" stroke="#6b68b0" stroke-width="1.6" />
<line x1="722.7" y1="190.3" x2="722.7" y2="218.3" stroke="#6b68b0" stroke-width="1.6" />
<line x1="729.8" y1="186.4" x2="729.8" y2="214.4" stroke="#6b68b0" stroke-width="1.6" />
<line x1="736.9" y1="185.1" x2="736.9" y2="211.1" stroke="#6b68b0" stroke-width="1.6" />
<line x1="744.0" y1="118.2" x2="744.0" y2="162.2" stroke="#6b68b0" stroke-width="1.6" />
<line x1="751.1" y1="161.7" x2="751.1" y2="203.7" stroke="#6b68b0" stroke-width="1.6" />
<line x1="758.2" y1="213.6" x2="758.2" y2="224.3" stroke="#6b68b0" stroke-width="1.6" />
<line x1="765.3" y1="218.5" x2="765.3" y2="227.1" stroke="#6b68b0" stroke-width="1.6" />
<line x1="772.4" y1="199.0" x2="772.4" y2="225.0" stroke="#6b68b0" stroke-width="1.6" />
<line x1="779.5" y1="217.3" x2="779.5" y2="229.8" stroke="#6b68b0" stroke-width="1.6" />
<line x1="786.6" y1="223.5" x2="786.6" y2="236.0" stroke="#6b68b0" stroke-width="1.6" />
<line x1="793.7" y1="120.1" x2="793.7" y2="174.1" stroke="#6b68b0" stroke-width="1.6" />
<line x1="800.8" y1="225.0" x2="800.8" y2="236.1" stroke="#6b68b0" stroke-width="1.6" />
<line x1="807.9" y1="203.9" x2="807.9" y2="213.9" stroke="#6b68b0" stroke-width="1.6" />
<line x1="815.0" y1="233.7" x2="815.0" y2="247.5" stroke="#6b68b0" stroke-width="1.6" />
<line x1="822.1" y1="225.5" x2="822.1" y2="234.0" stroke="#6b68b0" stroke-width="1.6" />
<circle cx="701.4" cy="239.8" r="5.0" fill="#6b68b0"/>
<circle cx="708.5" cy="246.0" r="5.0" fill="#6b68b0"/>
<circle cx="715.6" cy="208.1" r="5.0" fill="#6b68b0"/>
<circle cx="722.7" cy="204.3" r="5.0" fill="#6b68b0"/>
<circle cx="729.8" cy="200.4" r="5.0" fill="#6b68b0"/>
<circle cx="736.9" cy="198.1" r="5.0" fill="#6b68b0"/>
<circle cx="744.0" cy="140.2" r="5.0" fill="#6b68b0"/>
<circle cx="751.1" cy="182.7" r="5.0" fill="#6b68b0"/>
<circle cx="758.2" cy="219.0" r="5.0" fill="#6b68b0"/>
<circle cx="765.3" cy="222.8" r="5.0" fill="#6b68b0"/>
<circle cx="772.4" cy="212.0" r="5.0" fill="#6b68b0"/>
<circle cx="779.5" cy="223.6" r="5.0" fill="#6b68b0"/>
<circle cx="786.6" cy="229.8" r="5.0" fill="#6b68b0"/>
<circle cx="793.7" cy="147.1" r="5.0" fill="#6b68b0"/>
<circle cx="800.8" cy="230.5" r="5.0" fill="#6b68b0"/>
<circle cx="807.9" cy="208.9" r="5.0" fill="#6b68b0"/>
<circle cx="815.0" cy="240.6" r="5.0" fill="#6b68b0"/>
<circle cx="822.1" cy="229.8" r="5.0" fill="#6b68b0"/>
<line x1="701.4" y1="208.1" x2="822.1" y2="212.8" stroke="#6b68b0" stroke-width="4.6" />
<line x1="901.8" y1="106.2" x2="901.8" y2="266.6" stroke="#000" stroke-width="2.6" />
<line x1="900.5" y1="265.3" x2="1031.5" y2="265.3" stroke="#000" stroke-width="2.6" />
<line x1="898.3" y1="121.7" x2="901.8" y2="121.7" stroke="#000" stroke-width="2" />
<text x="892.0" y="127.7" font-size="20.5" text-anchor="end" fill="#000" font-weight="normal" >0.12</text>
<line x1="898.3" y1="150.5" x2="901.8" y2="150.5" stroke="#000" stroke-width="2" />
<text x="892.0" y="156.5" font-size="20.5" text-anchor="end" fill="#000" font-weight="normal" >0.10</text>
<line x1="898.3" y1="179.3" x2="901.8" y2="179.3" stroke="#000" stroke-width="2" />
<text x="892.0" y="185.3" font-size="20.5" text-anchor="end" fill="#000" font-weight="normal" >0.08</text>
<line x1="898.3" y1="207.8" x2="901.8" y2="207.8" stroke="#000" stroke-width="2" />
<text x="892.0" y="213.8" font-size="20.5" text-anchor="end" fill="#000" font-weight="normal" >0.06</text>
<line x1="898.3" y1="236.4" x2="901.8" y2="236.4" stroke="#000" stroke-width="2" />
<text x="892.0" y="242.4" font-size="20.5" text-anchor="end" fill="#000" font-weight="normal" >0.04</text>
<line x1="898.3" y1="265.3" x2="901.8" y2="265.3" stroke="#000" stroke-width="2" />
<text x="892.0" y="271.3" font-size="20.5" text-anchor="end" fill="#000" font-weight="normal" >0.02</text>
<line x1="972.5" y1="265.3" x2="972.5" y2="268.8" stroke="#000" stroke-width="2" />
<line x1="908.0" y1="243.6" x2="908.0" y2="253.0" stroke="#c31545" stroke-width="1.6" />
<line x1="915.2" y1="245.7" x2="915.2" y2="254.0" stroke="#c31545" stroke-width="1.6" />
<line x1="922.4" y1="229.6" x2="922.4" y2="243.8" stroke="#c31545" stroke-width="1.6" />
<line x1="929.6" y1="232.3" x2="929.6" y2="244.2" stroke="#c31545" stroke-width="1.6" />
<line x1="936.8" y1="240.9" x2="936.8" y2="251.1" stroke="#c31545" stroke-width="1.6" />
<line x1="944.0" y1="233.9" x2="944.0" y2="245.7" stroke="#c31545" stroke-width="1.6" />
<line x1="951.1" y1="235.6" x2="951.1" y2="245.5" stroke="#c31545" stroke-width="1.6" />
<line x1="958.3" y1="235.6" x2="958.3" y2="245.5" stroke="#c31545" stroke-width="1.6" />
<line x1="965.5" y1="239.2" x2="965.5" y2="249.6" stroke="#c31545" stroke-width="1.6" />
<line x1="972.7" y1="220.3" x2="972.7" y2="228.4" stroke="#c31545" stroke-width="1.6" />
<line x1="979.9" y1="209.2" x2="979.9" y2="227.2" stroke="#c31545" stroke-width="1.6" />
<line x1="987.1" y1="188.6" x2="987.1" y2="204.5" stroke="#c31545" stroke-width="1.6" />
<line x1="994.3" y1="195.0" x2="994.3" y2="215.0" stroke="#c31545" stroke-width="1.6" />
<line x1="1001.5" y1="186.5" x2="1001.5" y2="206.5" stroke="#c31545" stroke-width="1.6" />
<line x1="1008.7" y1="131.7" x2="1008.7" y2="165.7" stroke="#c31545" stroke-width="1.6" />
<line x1="1015.9" y1="193.0" x2="1015.9" y2="203.2" stroke="#c31545" stroke-width="1.6" />
<line x1="1023.0" y1="191.3" x2="1023.0" y2="206.5" stroke="#c31545" stroke-width="1.6" />
<line x1="1030.2" y1="172.3" x2="1030.2" y2="186.8" stroke="#c31545" stroke-width="1.6" />
<circle cx="908.0" cy="248.3" r="5.0" fill="#c31545"/>
<circle cx="915.2" cy="249.8" r="5.0" fill="#c31545"/>
<circle cx="922.4" cy="236.7" r="5.0" fill="#c31545"/>
<circle cx="929.6" cy="238.2" r="5.0" fill="#c31545"/>
<circle cx="936.8" cy="246.0" r="5.0" fill="#c31545"/>
<circle cx="944.0" cy="239.8" r="5.0" fill="#c31545"/>
<circle cx="951.1" cy="240.6" r="5.0" fill="#c31545"/>
<circle cx="958.3" cy="240.6" r="5.0" fill="#c31545"/>
<circle cx="965.5" cy="244.4" r="5.0" fill="#c31545"/>
<circle cx="972.7" cy="224.3" r="5.0" fill="#c31545"/>
<circle cx="979.9" cy="218.2" r="5.0" fill="#c31545"/>
<circle cx="987.1" cy="196.5" r="5.0" fill="#c31545"/>
<circle cx="994.3" cy="205.0" r="5.0" fill="#c31545"/>
<circle cx="1001.5" cy="196.5" r="5.0" fill="#c31545"/>
<circle cx="1008.7" cy="148.7" r="5.0" fill="#c31545"/>
<circle cx="1015.9" cy="198.1" r="5.0" fill="#c31545"/>
<circle cx="1023.0" cy="198.9" r="5.0" fill="#c31545"/>
<circle cx="1030.2" cy="179.6" r="5.0" fill="#c31545"/>
<line x1="908.0" y1="245.9" x2="908.0" y2="255.3" stroke="#e68a00" stroke-width="1.6" />
<line x1="915.2" y1="243.3" x2="915.2" y2="251.7" stroke="#e68a00" stroke-width="1.6" />
<line x1="922.4" y1="228.8" x2="922.4" y2="243.0" stroke="#e68a00" stroke-width="1.6" />
<line x1="929.6" y1="230.7" x2="929.6" y2="242.7" stroke="#e68a00" stroke-width="1.6" />
<line x1="936.8" y1="240.9" x2="936.8" y2="251.1" stroke="#e68a00" stroke-width="1.6" />
<line x1="944.0" y1="227.7" x2="944.0" y2="239.5" stroke="#e68a00" stroke-width="1.6" />
<line x1="951.1" y1="224.0" x2="951.1" y2="234.0" stroke="#e68a00" stroke-width="1.6" />
<line x1="958.3" y1="238.7" x2="958.3" y2="248.6" stroke="#e68a00" stroke-width="1.6" />
<line x1="965.5" y1="246.2" x2="965.5" y2="256.6" stroke="#e68a00" stroke-width="1.6" />
<line x1="972.7" y1="233.4" x2="972.7" y2="241.5" stroke="#e68a00" stroke-width="1.6" />
<line x1="979.9" y1="235.0" x2="979.9" y2="250.8" stroke="#e68a00" stroke-width="1.6" />
<line x1="987.1" y1="174.6" x2="987.1" y2="204.6" stroke="#e68a00" stroke-width="1.6" />
<line x1="994.3" y1="234.7" x2="994.3" y2="244.9" stroke="#e68a00" stroke-width="1.6" />
<line x1="1001.5" y1="217.9" x2="1001.5" y2="233.9" stroke="#e68a00" stroke-width="1.6" />
<line x1="1008.7" y1="117.0" x2="1008.7" y2="151.0" stroke="#e68a00" stroke-width="1.6" />
<line x1="1015.9" y1="214.4" x2="1015.9" y2="229.6" stroke="#e68a00" stroke-width="1.6" />
<line x1="1023.0" y1="200.1" x2="1023.0" y2="214.6" stroke="#e68a00" stroke-width="1.6" />
<line x1="1030.2" y1="138.9" x2="1030.2" y2="156.9" stroke="#e68a00" stroke-width="1.6" />
<circle cx="908.0" cy="250.6" r="5.0" fill="#e68a00"/>
<circle cx="915.2" cy="247.5" r="5.0" fill="#e68a00"/>
<circle cx="922.4" cy="235.9" r="5.0" fill="#e68a00"/>
<circle cx="929.6" cy="236.7" r="5.0" fill="#e68a00"/>
<circle cx="936.8" cy="246.0" r="5.0" fill="#e68a00"/>
<circle cx="944.0" cy="233.6" r="5.0" fill="#e68a00"/>
<circle cx="951.1" cy="229.0" r="5.0" fill="#e68a00"/>
<circle cx="958.3" cy="243.6" r="5.0" fill="#e68a00"/>
<circle cx="965.5" cy="251.4" r="5.0" fill="#e68a00"/>
<circle cx="972.7" cy="237.5" r="5.0" fill="#e68a00"/>
<circle cx="979.9" cy="242.9" r="5.0" fill="#e68a00"/>
<circle cx="987.1" cy="189.6" r="5.0" fill="#e68a00"/>
<circle cx="994.3" cy="239.8" r="5.0" fill="#e68a00"/>
<circle cx="1001.5" cy="225.9" r="5.0" fill="#e68a00"/>
<circle cx="1008.7" cy="134.0" r="5.0" fill="#e68a00"/>
<circle cx="1015.9" cy="222.0" r="5.0" fill="#e68a00"/>
<circle cx="1023.0" cy="207.4" r="5.0" fill="#e68a00"/>
<circle cx="1030.2" cy="147.9" r="5.0" fill="#e68a00"/>
<line x1="906.4" y1="252.1" x2="1030.2" y2="181.1" stroke="#e68a00" stroke-width="4.6" />
<line x1="908.0" y1="258.3" x2="1030.2" y2="188.8" stroke="#c31545" stroke-width="4.6" />
<path d="M955.00,112.90L955.00,107.70M955.00,112.90L959.95,111.29M955.00,112.90L958.06,117.11M955.00,112.90L951.94,117.11M955.00,112.90L950.05,111.29" stroke="#e68a00" stroke-width="1.7" fill="none"/>
<path d="M966.70,112.90L966.70,107.70M966.70,112.90L971.65,111.29M966.70,112.90L969.76,117.11M966.70,112.90L963.64,117.11M966.70,112.90L961.75,111.29" stroke="#e68a00" stroke-width="1.7" fill="none"/>
<path d="M955.00,130.90L955.00,125.70M955.00,130.90L959.95,129.29M955.00,130.90L958.06,135.11M955.00,130.90L951.94,135.11M955.00,130.90L950.05,129.29" stroke="#c31545" stroke-width="1.7" fill="none"/>
<path d="M966.70,130.90L966.70,125.70M966.70,130.90L971.65,129.29M966.70,130.90L969.76,135.11M966.70,130.90L963.64,135.11M966.70,130.90L961.75,129.29" stroke="#c31545" stroke-width="1.7" fill="none"/>
<path d="M978.40,130.90L978.40,125.70M978.40,130.90L983.35,129.29M978.40,130.90L981.46,135.11M978.40,130.90L975.34,135.11M978.40,130.90L973.45,129.29" stroke="#c31545" stroke-width="1.7" fill="none"/>
<line x1="1092.2" y1="105.4" x2="1092.2" y2="265.5" stroke="#000" stroke-width="2.6" />
<line x1="1090.9" y1="264.2" x2="1221.8" y2="264.2" stroke="#000" stroke-width="2.6" />
<line x1="1088.7" y1="135.6" x2="1092.2" y2="135.6" stroke="#000" stroke-width="2" />
<text x="1085.0" y="141.6" font-size="20.5" text-anchor="end" fill="#000" font-weight="normal" >0.06</text>
<line x1="1088.7" y1="172.1" x2="1092.2" y2="172.1" stroke="#000" stroke-width="2" />
<text x="1085.0" y="178.1" font-size="20.5" text-anchor="end" fill="#000" font-weight="normal" >0.05</text>
<line x1="1088.7" y1="208.6" x2="1092.2" y2="208.6" stroke="#000" stroke-width="2" />
<text x="1085.0" y="214.6" font-size="20.5" text-anchor="end" fill="#000" font-weight="normal" >0.04</text>
<line x1="1088.7" y1="245.2" x2="1092.2" y2="245.2" stroke="#000" stroke-width="2" />
<text x="1085.0" y="251.2" font-size="20.5" text-anchor="end" fill="#000" font-weight="normal" >0.03</text>
<line x1="1163.6" y1="264.2" x2="1163.6" y2="267.7" stroke="#000" stroke-width="2" />
<line x1="1099.0" y1="236.4" x2="1099.0" y2="247.8" stroke="#35a535" stroke-width="1.6" />
<line x1="1106.2" y1="240.0" x2="1106.2" y2="248.8" stroke="#35a535" stroke-width="1.6" />
<line x1="1113.4" y1="194.8" x2="1113.4" y2="209.1" stroke="#35a535" stroke-width="1.6" />
<line x1="1120.5" y1="212.6" x2="1120.5" y2="220.6" stroke="#35a535" stroke-width="1.6" />
<line x1="1127.7" y1="230.6" x2="1127.7" y2="241.3" stroke="#35a535" stroke-width="1.6" />
<line x1="1134.9" y1="191.6" x2="1134.9" y2="204.6" stroke="#35a535" stroke-width="1.6" />
<line x1="1142.1" y1="187.7" x2="1142.1" y2="199.2" stroke="#35a535" stroke-width="1.6" />
<line x1="1149.3" y1="172.4" x2="1149.3" y2="183.7" stroke="#35a535" stroke-width="1.6" />
<line x1="1156.4" y1="194.6" x2="1156.4" y2="206.2" stroke="#35a535" stroke-width="1.6" />
<line x1="1163.6" y1="194.8" x2="1163.6" y2="207.6" stroke="#35a535" stroke-width="1.6" />
<line x1="1170.8" y1="210.8" x2="1170.8" y2="223.9" stroke="#35a535" stroke-width="1.6" />
<line x1="1178.0" y1="198.5" x2="1178.0" y2="210.0" stroke="#35a535" stroke-width="1.6" />
<line x1="1185.2" y1="201.7" x2="1185.2" y2="213.0" stroke="#35a535" stroke-width="1.6" />
<line x1="1192.3" y1="193.9" x2="1192.3" y2="205.4" stroke="#35a535" stroke-width="1.6" />
<line x1="1199.5" y1="160.8" x2="1199.5" y2="168.9" stroke="#35a535" stroke-width="1.6" />
<line x1="1206.7" y1="171.0" x2="1206.7" y2="185.0" stroke="#35a535" stroke-width="1.6" />
<line x1="1213.9" y1="155.2" x2="1213.9" y2="168.4" stroke="#35a535" stroke-width="1.6" />
<line x1="1221.1" y1="151.6" x2="1221.1" y2="165.8" stroke="#35a535" stroke-width="1.6" />
<circle cx="1099.0" cy="242.1" r="5.0" fill="#35a535"/>
<circle cx="1106.2" cy="244.4" r="5.0" fill="#35a535"/>
<circle cx="1113.4" cy="202.0" r="5.0" fill="#35a535"/>
<circle cx="1120.5" cy="216.6" r="5.0" fill="#35a535"/>
<circle cx="1127.7" cy="235.9" r="5.0" fill="#35a535"/>
<circle cx="1134.9" cy="198.1" r="5.0" fill="#35a535"/>
<circle cx="1142.1" cy="193.5" r="5.0" fill="#35a535"/>
<circle cx="1149.3" cy="178.0" r="5.0" fill="#35a535"/>
<circle cx="1156.4" cy="200.4" r="5.0" fill="#35a535"/>
<circle cx="1163.6" cy="201.2" r="5.0" fill="#35a535"/>
<circle cx="1170.8" cy="217.4" r="5.0" fill="#35a535"/>
<circle cx="1178.0" cy="204.3" r="5.0" fill="#35a535"/>
<circle cx="1185.2" cy="207.4" r="5.0" fill="#35a535"/>
<circle cx="1192.3" cy="199.6" r="5.0" fill="#35a535"/>
<circle cx="1199.5" cy="164.9" r="5.0" fill="#35a535"/>
<circle cx="1206.7" cy="178.0" r="5.0" fill="#35a535"/>
<circle cx="1213.9" cy="161.8" r="5.0" fill="#35a535"/>
<circle cx="1221.1" cy="158.7" r="5.0" fill="#35a535"/>
<line x1="1099.0" y1="232.1" x2="1221.0" y2="169.8" stroke="#089a3e" stroke-width="4.6" />
<line x1="1099.0" y1="197.8" x2="1099.0" y2="209.2" stroke="#6b68b0" stroke-width="1.6" />
<line x1="1106.2" y1="217.6" x2="1106.2" y2="226.4" stroke="#6b68b0" stroke-width="1.6" />
<line x1="1113.4" y1="174.7" x2="1113.4" y2="189.0" stroke="#6b68b0" stroke-width="1.6" />
<line x1="1120.5" y1="165.5" x2="1120.5" y2="173.6" stroke="#6b68b0" stroke-width="1.6" />
<line x1="1127.7" y1="171.9" x2="1127.7" y2="182.6" stroke="#6b68b0" stroke-width="1.6" />
<line x1="1134.9" y1="149.9" x2="1134.9" y2="162.9" stroke="#6b68b0" stroke-width="1.6" />
<line x1="1142.1" y1="137.5" x2="1142.1" y2="149.0" stroke="#6b68b0" stroke-width="1.6" />
<line x1="1149.3" y1="160.0" x2="1149.3" y2="171.3" stroke="#6b68b0" stroke-width="1.6" />
<line x1="1156.4" y1="152.9" x2="1156.4" y2="164.5" stroke="#6b68b0" stroke-width="1.6" />
<line x1="1163.6" y1="121.9" x2="1163.6" y2="134.7" stroke="#6b68b0" stroke-width="1.6" />
<line x1="1170.8" y1="152.2" x2="1170.8" y2="165.3" stroke="#6b68b0" stroke-width="1.6" />
<line x1="1178.0" y1="131.4" x2="1178.0" y2="142.8" stroke="#6b68b0" stroke-width="1.6" />
<line x1="1185.2" y1="167.3" x2="1185.2" y2="178.6" stroke="#6b68b0" stroke-width="1.6" />
<line x1="1192.3" y1="147.5" x2="1192.3" y2="159.1" stroke="#6b68b0" stroke-width="1.6" />
<line x1="1199.5" y1="168.6" x2="1199.5" y2="176.7" stroke="#6b68b0" stroke-width="1.6" />
<line x1="1206.7" y1="171.0" x2="1206.7" y2="185.0" stroke="#6b68b0" stroke-width="1.6" />
<line x1="1213.9" y1="161.4" x2="1213.9" y2="174.6" stroke="#6b68b0" stroke-width="1.6" />
<line x1="1221.1" y1="133.9" x2="1221.1" y2="148.1" stroke="#6b68b0" stroke-width="1.6" />
<circle cx="1099.0" cy="203.5" r="5.0" fill="#6b68b0"/>
<circle cx="1106.2" cy="222.0" r="5.0" fill="#6b68b0"/>
<circle cx="1113.4" cy="181.9" r="5.0" fill="#6b68b0"/>
<circle cx="1120.5" cy="169.5" r="5.0" fill="#6b68b0"/>
<circle cx="1127.7" cy="177.2" r="5.0" fill="#6b68b0"/>
<circle cx="1134.9" cy="156.4" r="5.0" fill="#6b68b0"/>
<circle cx="1142.1" cy="143.3" r="5.0" fill="#6b68b0"/>
<circle cx="1149.3" cy="165.7" r="5.0" fill="#6b68b0"/>
<circle cx="1156.4" cy="158.7" r="5.0" fill="#6b68b0"/>
<circle cx="1163.6" cy="128.3" r="5.0" fill="#6b68b0"/>
<circle cx="1170.8" cy="158.7" r="5.0" fill="#6b68b0"/>
<circle cx="1178.0" cy="137.1" r="5.0" fill="#6b68b0"/>
<circle cx="1185.2" cy="172.9" r="5.0" fill="#6b68b0"/>
<circle cx="1192.3" cy="153.3" r="5.0" fill="#6b68b0"/>
<circle cx="1199.5" cy="172.6" r="5.0" fill="#6b68b0"/>
<circle cx="1206.7" cy="178.0" r="5.0" fill="#6b68b0"/>
<circle cx="1213.9" cy="168.0" r="5.0" fill="#6b68b0"/>
<circle cx="1221.1" cy="141.0" r="5.0" fill="#6b68b0"/>
<line x1="1099.0" y1="184.2" x2="1221.0" y2="148.4" stroke="#6b68b0" stroke-width="4.6" />
<path d="M1186.70,113.40L1186.70,108.20M1186.70,113.40L1191.65,111.79M1186.70,113.40L1189.76,117.61M1186.70,113.40L1183.64,117.61M1186.70,113.40L1181.75,111.79" stroke="#12963d" stroke-width="1.7" fill="none"/>
<path d="M1198.40,113.40L1198.40,108.20M1198.40,113.40L1203.35,111.79M1198.40,113.40L1201.46,117.61M1198.40,113.40L1195.34,117.61M1198.40,113.40L1193.45,111.79" stroke="#12963d" stroke-width="1.7" fill="none"/>
<path d="M1210.10,113.40L1210.10,108.20M1210.10,113.40L1215.05,111.79M1210.10,113.40L1213.16,117.61M1210.10,113.40L1207.04,117.61M1210.10,113.40L1205.15,111.79" stroke="#12963d" stroke-width="1.7" fill="none"/>
<line x1="1278.0" y1="111.8" x2="1278.0" y2="265.5" stroke="#000" stroke-width="2.6" />
<line x1="1276.7" y1="264.2" x2="1401.5" y2="264.2" stroke="#000" stroke-width="2.6" />
<line x1="1274.5" y1="121.2" x2="1278.0" y2="121.2" stroke="#000" stroke-width="2" />
<text x="1271.5" y="127.2" font-size="20.5" text-anchor="end" fill="#000" font-weight="normal" >0.08</text>
<line x1="1274.5" y1="178.1" x2="1278.0" y2="178.1" stroke="#000" stroke-width="2" />
<text x="1271.5" y="184.1" font-size="20.5" text-anchor="end" fill="#000" font-weight="normal" >0.06</text>
<line x1="1274.5" y1="235.1" x2="1278.0" y2="235.1" stroke="#000" stroke-width="2" />
<text x="1271.5" y="241.1" font-size="20.5" text-anchor="end" fill="#000" font-weight="normal" >0.04</text>
<line x1="1346.1" y1="264.2" x2="1346.1" y2="267.7" stroke="#000" stroke-width="2" />
<line x1="1284.1" y1="238.7" x2="1284.1" y2="249.5" stroke="#8c8887" stroke-width="1.6" />
<line x1="1291.0" y1="244.2" x2="1291.0" y2="258.6" stroke="#8c8887" stroke-width="1.6" />
<line x1="1297.8" y1="197.5" x2="1297.8" y2="209.9" stroke="#8c8887" stroke-width="1.6" />
<line x1="1304.7" y1="202.8" x2="1304.7" y2="215.0" stroke="#8c8887" stroke-width="1.6" />
<line x1="1311.5" y1="204.2" x2="1311.5" y2="216.8" stroke="#8c8887" stroke-width="1.6" />
<line x1="1318.4" y1="186.2" x2="1318.4" y2="201.4" stroke="#8c8887" stroke-width="1.6" />
<line x1="1325.2" y1="198.3" x2="1325.2" y2="208.1" stroke="#8c8887" stroke-width="1.6" />
<line x1="1332.1" y1="207.0" x2="1332.1" y2="222.0" stroke="#8c8887" stroke-width="1.6" />
<line x1="1338.9" y1="202.1" x2="1338.9" y2="210.7" stroke="#8c8887" stroke-width="1.6" />
<line x1="1345.8" y1="204.7" x2="1345.8" y2="216.3" stroke="#8c8887" stroke-width="1.6" />
<line x1="1352.6" y1="219.0" x2="1352.6" y2="233.4" stroke="#8c8887" stroke-width="1.6" />
<line x1="1359.5" y1="199.3" x2="1359.5" y2="211.9" stroke="#8c8887" stroke-width="1.6" />
<line x1="1366.3" y1="200.8" x2="1366.3" y2="213.6" stroke="#8c8887" stroke-width="1.6" />
<line x1="1373.2" y1="207.1" x2="1373.2" y2="221.9" stroke="#8c8887" stroke-width="1.6" />
<line x1="1380.0" y1="188.9" x2="1380.0" y2="200.7" stroke="#8c8887" stroke-width="1.6" />
<line x1="1386.9" y1="208.0" x2="1386.9" y2="221.0" stroke="#8c8887" stroke-width="1.6" />
<line x1="1393.7" y1="226.2" x2="1393.7" y2="237.8" stroke="#8c8887" stroke-width="1.6" />
<line x1="1400.6" y1="211.5" x2="1400.6" y2="224.1" stroke="#8c8887" stroke-width="1.6" />
<circle cx="1284.1" cy="244.1" r="5.0" fill="#8c8887"/>
<circle cx="1291.0" cy="251.4" r="5.0" fill="#8c8887"/>
<circle cx="1297.8" cy="203.7" r="5.0" fill="#8c8887"/>
<circle cx="1304.7" cy="208.9" r="5.0" fill="#8c8887"/>
<circle cx="1311.5" cy="210.5" r="5.0" fill="#8c8887"/>
<circle cx="1318.4" cy="193.8" r="5.0" fill="#8c8887"/>
<circle cx="1325.2" cy="203.2" r="5.0" fill="#8c8887"/>
<circle cx="1332.1" cy="214.5" r="5.0" fill="#8c8887"/>
<circle cx="1338.9" cy="206.4" r="5.0" fill="#8c8887"/>
<circle cx="1345.8" cy="210.5" r="5.0" fill="#8c8887"/>
<circle cx="1352.6" cy="226.2" r="5.0" fill="#8c8887"/>
<circle cx="1359.5" cy="205.6" r="5.0" fill="#8c8887"/>
<circle cx="1366.3" cy="207.2" r="5.0" fill="#8c8887"/>
<circle cx="1373.2" cy="214.5" r="5.0" fill="#8c8887"/>
<circle cx="1380.0" cy="194.8" r="5.0" fill="#8c8887"/>
<circle cx="1386.9" cy="214.5" r="5.0" fill="#8c8887"/>
<circle cx="1393.7" cy="232.0" r="5.0" fill="#8c8887"/>
<circle cx="1400.6" cy="217.8" r="5.0" fill="#8c8887"/>
<line x1="1284.1" y1="219.4" x2="1400.6" y2="209.7" stroke="#a0a0a0" stroke-width="4.6" />
<line x1="1284.1" y1="201.5" x2="1284.1" y2="212.3" stroke="#000" stroke-width="1.6" />
<line x1="1291.0" y1="191.1" x2="1291.0" y2="205.5" stroke="#000" stroke-width="1.6" />
<line x1="1297.8" y1="150.9" x2="1297.8" y2="163.3" stroke="#000" stroke-width="1.6" />
<line x1="1304.7" y1="137.9" x2="1304.7" y2="157.9" stroke="#000" stroke-width="1.6" />
<line x1="1311.5" y1="149.4" x2="1311.5" y2="161.6" stroke="#000" stroke-width="1.6" />
<line x1="1318.4" y1="128.2" x2="1318.4" y2="148.2" stroke="#000" stroke-width="1.6" />
<line x1="1325.2" y1="142.4" x2="1325.2" y2="155.0" stroke="#000" stroke-width="1.6" />
<line x1="1332.1" y1="155.1" x2="1332.1" y2="170.3" stroke="#000" stroke-width="1.6" />
<line x1="1338.9" y1="114.2" x2="1338.9" y2="135.2" stroke="#000" stroke-width="1.6" />
<line x1="1345.8" y1="148.6" x2="1345.8" y2="158.4" stroke="#000" stroke-width="1.6" />
<line x1="1352.6" y1="169.5" x2="1352.6" y2="184.5" stroke="#000" stroke-width="1.6" />
<line x1="1359.5" y1="126.8" x2="1359.5" y2="150.8" stroke="#000" stroke-width="1.6" />
<line x1="1366.3" y1="122.3" x2="1366.3" y2="147.3" stroke="#000" stroke-width="1.6" />
<line x1="1373.2" y1="148.7" x2="1373.2" y2="157.3" stroke="#000" stroke-width="1.6" />
<line x1="1380.0" y1="132.9" x2="1380.0" y2="148.9" stroke="#000" stroke-width="1.6" />
<line x1="1386.9" y1="152.4" x2="1386.9" y2="164.0" stroke="#000" stroke-width="1.6" />
<line x1="1393.7" y1="145.8" x2="1393.7" y2="160.2" stroke="#000" stroke-width="1.6" />
<line x1="1400.6" y1="156.4" x2="1400.6" y2="169.0" stroke="#000" stroke-width="1.6" />
<circle cx="1284.1" cy="206.9" r="5.0" fill="#000"/>
<circle cx="1291.0" cy="198.3" r="5.0" fill="#000"/>
<circle cx="1297.8" cy="157.1" r="5.0" fill="#000"/>
<circle cx="1304.7" cy="147.9" r="5.0" fill="#000"/>
<circle cx="1311.5" cy="155.5" r="5.0" fill="#000"/>
<circle cx="1318.4" cy="138.2" r="5.0" fill="#000"/>
<circle cx="1325.2" cy="148.7" r="5.0" fill="#000"/>
<circle cx="1332.1" cy="162.7" r="5.0" fill="#000"/>
<circle cx="1338.9" cy="124.7" r="5.0" fill="#000"/>
<circle cx="1345.8" cy="153.5" r="5.0" fill="#000"/>
<circle cx="1352.6" cy="177.0" r="5.0" fill="#000"/>
<circle cx="1359.5" cy="138.8" r="5.0" fill="#000"/>
<circle cx="1366.3" cy="134.8" r="5.0" fill="#000"/>
<circle cx="1373.2" cy="153.0" r="5.0" fill="#000"/>
<circle cx="1380.0" cy="140.9" r="5.0" fill="#000"/>
<circle cx="1386.9" cy="158.2" r="5.0" fill="#000"/>
<circle cx="1393.7" cy="153.0" r="5.0" fill="#000"/>
<circle cx="1400.6" cy="162.7" r="5.0" fill="#000"/>
<line x1="1284.1" y1="169.2" x2="1400.6" y2="143.3" stroke="#000" stroke-width="4.6" />
<line x1="697.2" y1="340.7" x2="697.2" y2="494.3" stroke="#000" stroke-width="2.6" />
<line x1="695.9" y1="493.0" x2="820.7" y2="493.0" stroke="#000" stroke-width="2.6" />
<line x1="693.7" y1="351.0" x2="697.2" y2="351.0" stroke="#000" stroke-width="2" />
<text x="687.0" y="357.0" font-size="20.5" text-anchor="end" fill="#000" font-weight="normal" >0.20</text>
<line x1="693.7" y1="386.6" x2="697.2" y2="386.6" stroke="#000" stroke-width="2" />
<text x="687.0" y="392.6" font-size="20.5" text-anchor="end" fill="#000" font-weight="normal" >0.15</text>
<line x1="693.7" y1="422.0" x2="697.2" y2="422.0" stroke="#000" stroke-width="2" />
<text x="687.0" y="428.0" font-size="20.5" text-anchor="end" fill="#000" font-weight="normal" >0.10</text>
<line x1="693.7" y1="457.4" x2="697.2" y2="457.4" stroke="#000" stroke-width="2" />
<text x="687.0" y="463.4" font-size="20.5" text-anchor="end" fill="#000" font-weight="normal" >0.05</text>
<line x1="693.7" y1="493.0" x2="697.2" y2="493.0" stroke="#000" stroke-width="2" />
<text x="687.0" y="499.0" font-size="20.5" text-anchor="end" fill="#000" font-weight="normal" >0</text>
<line x1="703.4" y1="493.0" x2="703.4" y2="496.5" stroke="#000" stroke-width="2" />
<line x1="765.2" y1="493.0" x2="765.2" y2="496.5" stroke="#000" stroke-width="2" />
<line x1="820.1" y1="493.0" x2="820.1" y2="496.5" stroke="#000" stroke-width="2" />
<text x="697.8" y="513.6" font-size="20.5" text-anchor="middle" fill="#000" font-weight="normal" >1</text>
<text x="767.2" y="513.6" font-size="20.5" text-anchor="middle" fill="#000" font-weight="normal" >10</text>
<text x="822.8" y="513.6" font-size="20.5" text-anchor="middle" fill="#000" font-weight="normal" >18</text>
<line x1="703.4" y1="455.5" x2="703.4" y2="470.9" stroke="#8c8887" stroke-width="1.6" />
<line x1="710.3" y1="458.3" x2="710.3" y2="471.4" stroke="#8c8887" stroke-width="1.6" />
<line x1="717.1" y1="421.8" x2="717.1" y2="445.8" stroke="#8c8887" stroke-width="1.6" />
<line x1="724.0" y1="426.1" x2="724.0" y2="450.1" stroke="#8c8887" stroke-width="1.6" />
<line x1="730.9" y1="414.2" x2="730.9" y2="438.2" stroke="#8c8887" stroke-width="1.6" />
<line x1="737.8" y1="414.2" x2="737.8" y2="438.2" stroke="#8c8887" stroke-width="1.6" />
<line x1="744.6" y1="399.7" x2="744.6" y2="423.7" stroke="#8c8887" stroke-width="1.6" />
<line x1="751.5" y1="413.5" x2="751.5" y2="437.5" stroke="#8c8887" stroke-width="1.6" />
<line x1="758.4" y1="448.2" x2="758.4" y2="461.7" stroke="#8c8887" stroke-width="1.6" />
<line x1="765.2" y1="455.0" x2="765.2" y2="467.3" stroke="#8c8887" stroke-width="1.6" />
<line x1="772.1" y1="451.3" x2="772.1" y2="460.7" stroke="#8c8887" stroke-width="1.6" />
<line x1="779.0" y1="445.4" x2="779.0" y2="460.4" stroke="#8c8887" stroke-width="1.6" />
<line x1="785.8" y1="441.9" x2="785.8" y2="461.9" stroke="#8c8887" stroke-width="1.6" />
<line x1="792.7" y1="422.8" x2="792.7" y2="446.8" stroke="#8c8887" stroke-width="1.6" />
<line x1="799.6" y1="445.7" x2="799.6" y2="460.1" stroke="#8c8887" stroke-width="1.6" />
<line x1="806.4" y1="428.1" x2="806.4" y2="448.1" stroke="#8c8887" stroke-width="1.6" />
<line x1="813.3" y1="452.4" x2="813.3" y2="464.6" stroke="#8c8887" stroke-width="1.6" />
<line x1="820.2" y1="452.3" x2="820.2" y2="463.8" stroke="#8c8887" stroke-width="1.6" />
<circle cx="703.4" cy="463.2" r="5.0" fill="#8c8887"/>
<circle cx="710.3" cy="464.8" r="5.0" fill="#8c8887"/>
<circle cx="717.1" cy="433.8" r="5.0" fill="#8c8887"/>
<circle cx="724.0" cy="438.1" r="5.0" fill="#8c8887"/>
<circle cx="730.9" cy="426.2" r="5.0" fill="#8c8887"/>
<circle cx="737.8" cy="426.2" r="5.0" fill="#8c8887"/>
<circle cx="744.6" cy="411.7" r="5.0" fill="#8c8887"/>
<circle cx="751.5" cy="425.5" r="5.0" fill="#8c8887"/>
<circle cx="758.4" cy="455.0" r="5.0" fill="#8c8887"/>
<circle cx="765.2" cy="461.1" r="5.0" fill="#8c8887"/>
<circle cx="772.1" cy="456.0" r="5.0" fill="#8c8887"/>
<circle cx="779.0" cy="452.9" r="5.0" fill="#8c8887"/>
<circle cx="785.8" cy="451.9" r="5.0" fill="#8c8887"/>
<circle cx="792.7" cy="434.8" r="5.0" fill="#8c8887"/>
<circle cx="799.6" cy="452.9" r="5.0" fill="#8c8887"/>
<circle cx="806.4" cy="438.1" r="5.0" fill="#8c8887"/>
<circle cx="813.3" cy="458.5" r="5.0" fill="#8c8887"/>
<circle cx="820.2" cy="458.1" r="5.0" fill="#8c8887"/>
<line x1="703.4" y1="439.1" x2="820.1" y2="449.8" stroke="#a0a0a0" stroke-width="4.6" />
<line x1="703.4" y1="432.8" x2="703.4" y2="448.3" stroke="#000" stroke-width="1.6" />
<line x1="710.3" y1="443.9" x2="710.3" y2="457.0" stroke="#000" stroke-width="1.6" />
<line x1="717.1" y1="341.4" x2="717.1" y2="387.4" stroke="#000" stroke-width="1.6" />
<line x1="724.0" y1="361.3" x2="724.0" y2="403.3" stroke="#000" stroke-width="1.6" />
<line x1="730.9" y1="385.8" x2="730.9" y2="413.8" stroke="#000" stroke-width="1.6" />
<line x1="737.8" y1="382.4" x2="737.8" y2="416.4" stroke="#000" stroke-width="1.6" />
<line x1="744.6" y1="387.5" x2="744.6" y2="421.5" stroke="#000" stroke-width="1.6" />
<line x1="751.5" y1="402.8" x2="751.5" y2="426.8" stroke="#000" stroke-width="1.6" />
<line x1="758.4" y1="426.0" x2="758.4" y2="442.0" stroke="#000" stroke-width="1.6" />
<line x1="765.2" y1="434.0" x2="765.2" y2="450.0" stroke="#000" stroke-width="1.6" />
<line x1="772.1" y1="426.8" x2="772.1" y2="442.8" stroke="#000" stroke-width="1.6" />
<line x1="779.0" y1="441.4" x2="779.0" y2="454.9" stroke="#000" stroke-width="1.6" />
<line x1="785.8" y1="428.2" x2="785.8" y2="440.6" stroke="#000" stroke-width="1.6" />
<line x1="792.7" y1="347.9" x2="792.7" y2="389.9" stroke="#000" stroke-width="1.6" />
<line x1="799.6" y1="423.5" x2="799.6" y2="432.9" stroke="#000" stroke-width="1.6" />
<line x1="806.4" y1="382.8" x2="806.4" y2="418.8" stroke="#000" stroke-width="1.6" />
<line x1="813.3" y1="415.9" x2="813.3" y2="431.0" stroke="#000" stroke-width="1.6" />
<line x1="820.2" y1="398.4" x2="820.2" y2="430.4" stroke="#000" stroke-width="1.6" />
<circle cx="703.4" cy="440.6" r="5.0" fill="#000"/>
<circle cx="710.3" cy="450.4" r="5.0" fill="#000"/>
<circle cx="717.1" cy="364.4" r="5.0" fill="#000"/>
<circle cx="724.0" cy="382.3" r="5.0" fill="#000"/>
<circle cx="730.9" cy="399.8" r="5.0" fill="#000"/>
<circle cx="737.8" cy="399.4" r="5.0" fill="#000"/>
<circle cx="744.6" cy="404.5" r="5.0" fill="#000"/>
<circle cx="751.5" cy="414.8" r="5.0" fill="#000"/>
<circle cx="758.4" cy="434.0" r="5.0" fill="#000"/>
<circle cx="765.2" cy="442.0" r="5.0" fill="#000"/>
<circle cx="772.1" cy="434.8" r="5.0" fill="#000"/>
<circle cx="779.0" cy="448.2" r="5.0" fill="#000"/>
<circle cx="785.8" cy="434.4" r="5.0" fill="#000"/>
<circle cx="792.7" cy="368.9" r="5.0" fill="#000"/>
<circle cx="799.6" cy="428.2" r="5.0" fill="#000"/>
<circle cx="806.4" cy="400.8" r="5.0" fill="#000"/>
<circle cx="813.3" cy="423.5" r="5.0" fill="#000"/>
<circle cx="820.2" cy="414.4" r="5.0" fill="#000"/>
<line x1="703.4" y1="412.4" x2="820.1" y2="419.6" stroke="#000" stroke-width="4.6" />
<line x1="899.7" y1="333.9" x2="899.7" y2="493.0" stroke="#000" stroke-width="2.6" />
<line x1="898.4" y1="491.7" x2="1029.4" y2="491.7" stroke="#000" stroke-width="2.6" />
<line x1="896.2" y1="350.6" x2="899.7" y2="350.6" stroke="#000" stroke-width="2" />
<text x="891.7" y="356.6" font-size="20.5" text-anchor="end" fill="#000" font-weight="normal" >0.05</text>
<line x1="896.2" y1="381.9" x2="899.7" y2="381.9" stroke="#000" stroke-width="2" />
<text x="891.7" y="387.9" font-size="20.5" text-anchor="end" fill="#000" font-weight="normal" >0.04</text>
<line x1="896.2" y1="413.8" x2="899.7" y2="413.8" stroke="#000" stroke-width="2" />
<text x="891.7" y="419.8" font-size="20.5" text-anchor="end" fill="#000" font-weight="normal" >0.03</text>
<line x1="896.2" y1="444.7" x2="899.7" y2="444.7" stroke="#000" stroke-width="2" />
<text x="891.7" y="450.7" font-size="20.5" text-anchor="end" fill="#000" font-weight="normal" >0.02</text>
<line x1="896.2" y1="476.6" x2="899.7" y2="476.6" stroke="#000" stroke-width="2" />
<text x="891.7" y="482.6" font-size="20.5" text-anchor="end" fill="#000" font-weight="normal" >0.01</text>
<line x1="906.9" y1="491.7" x2="906.9" y2="495.2" stroke="#000" stroke-width="2" />
<line x1="971.4" y1="491.7" x2="971.4" y2="495.2" stroke="#000" stroke-width="2" />
<line x1="1028.8" y1="491.7" x2="1028.8" y2="495.2" stroke="#000" stroke-width="2" />
<text x="901.1" y="512.7" font-size="20.5" text-anchor="middle" fill="#000" font-weight="normal" >1</text>
<text x="970.7" y="512.7" font-size="20.5" text-anchor="middle" fill="#000" font-weight="normal" >10</text>
<text x="1030.4" y="512.7" font-size="20.5" text-anchor="middle" fill="#000" font-weight="normal" >18</text>
<circle cx="906.9" cy="476.6" r="5.0" fill="#c31545"/>
<circle cx="914.1" cy="476.6" r="5.0" fill="#c31545"/>
<circle cx="921.2" cy="476.6" r="5.0" fill="#c31545"/>
<circle cx="928.4" cy="471.5" r="5.0" fill="#c31545"/>
<circle cx="935.6" cy="476.6" r="5.0" fill="#c31545"/>
<circle cx="942.8" cy="476.6" r="5.0" fill="#c31545"/>
<circle cx="949.9" cy="473.5" r="5.0" fill="#c31545"/>
<circle cx="957.1" cy="476.6" r="5.0" fill="#c31545"/>
<circle cx="964.3" cy="476.6" r="5.0" fill="#c31545"/>
<circle cx="971.4" cy="452.9" r="5.0" fill="#c31545"/>
<circle cx="978.6" cy="459.1" r="5.0" fill="#c31545"/>
<circle cx="985.8" cy="444.7" r="5.0" fill="#c31545"/>
<circle cx="992.9" cy="448.8" r="5.0" fill="#c31545"/>
<circle cx="1000.1" cy="445.7" r="5.0" fill="#c31545"/>
<circle cx="1007.3" cy="394.3" r="5.0" fill="#c31545"/>
<circle cx="1014.4" cy="454.0" r="5.0" fill="#c31545"/>
<circle cx="1021.6" cy="448.8" r="5.0" fill="#c31545"/>
<circle cx="1028.8" cy="434.0" r="5.0" fill="#c31545"/>
<line x1="906.9" y1="483.8" x2="1028.8" y2="432.4" stroke="#c31545" stroke-width="4.6" />
<line x1="1000.1" y1="450.5" x2="1000.1" y2="464.5" stroke="#e68a00" stroke-width="1.6" />
<circle cx="906.9" cy="476.6" r="5.0" fill="#e68a00"/>
<circle cx="914.1" cy="476.6" r="5.0" fill="#e68a00"/>
<circle cx="921.2" cy="476.6" r="5.0" fill="#e68a00"/>
<circle cx="928.4" cy="476.6" r="5.0" fill="#e68a00"/>
<circle cx="935.6" cy="476.6" r="5.0" fill="#e68a00"/>
<circle cx="942.8" cy="476.6" r="5.0" fill="#e68a00"/>
<circle cx="949.9" cy="476.6" r="5.0" fill="#e68a00"/>
<circle cx="957.1" cy="476.6" r="5.0" fill="#e68a00"/>
<circle cx="964.3" cy="476.6" r="5.0" fill="#e68a00"/>
<circle cx="971.4" cy="451.9" r="5.0" fill="#e68a00"/>
<circle cx="978.6" cy="476.6" r="5.0" fill="#e68a00"/>
<circle cx="985.8" cy="425.2" r="5.0" fill="#e68a00"/>
<circle cx="992.9" cy="476.6" r="5.0" fill="#e68a00"/>
<circle cx="1000.1" cy="457.5" r="5.0" fill="#e68a00"/>
<circle cx="1007.3" cy="348.4" r="5.0" fill="#e68a00"/>
<circle cx="1014.4" cy="476.6" r="5.0" fill="#e68a00"/>
<circle cx="1021.6" cy="450.5" r="5.0" fill="#e68a00"/>
<circle cx="1028.8" cy="396.3" r="5.0" fill="#e68a00"/>
<line x1="906.9" y1="486.9" x2="1028.8" y2="424.1" stroke="#e68a00" stroke-width="4.6" />
<path d="M954.30,342.00L954.30,336.80M954.30,342.00L959.25,340.39M954.30,342.00L957.36,346.21M954.30,342.00L951.24,346.21M954.30,342.00L949.35,340.39" stroke="#e68a00" stroke-width="1.7" fill="none"/>
<path d="M955.80,361.50L955.80,356.30M955.80,361.50L960.75,359.89M955.80,361.50L958.86,365.71M955.80,361.50L952.74,365.71M955.80,361.50L950.85,359.89" stroke="#c31545" stroke-width="1.7" fill="none"/>
<path d="M967.50,361.50L967.50,356.30M967.50,361.50L972.45,359.89M967.50,361.50L970.56,365.71M967.50,361.50L964.44,365.71M967.50,361.50L962.55,359.89" stroke="#c31545" stroke-width="1.7" fill="none"/>
<path d="M979.20,361.50L979.20,356.30M979.20,361.50L984.15,359.89M979.20,361.50L982.26,365.71M979.20,361.50L976.14,365.71M979.20,361.50L974.25,359.89" stroke="#c31545" stroke-width="1.7" fill="none"/>
<line x1="1089.3" y1="333.5" x2="1089.3" y2="492.5" stroke="#000" stroke-width="2.6" />
<line x1="1088.0" y1="491.2" x2="1219.0" y2="491.2" stroke="#000" stroke-width="2.6" />
<line x1="1085.8" y1="334.4" x2="1089.3" y2="334.4" stroke="#000" stroke-width="2" />
<text x="1081.8" y="340.4" font-size="20.5" text-anchor="end" fill="#000" font-weight="normal" >0.04</text>
<line x1="1085.8" y1="383.6" x2="1089.3" y2="383.6" stroke="#000" stroke-width="2" />
<text x="1081.8" y="389.6" font-size="20.5" text-anchor="end" fill="#000" font-weight="normal" >0.03</text>
<line x1="1085.8" y1="432.9" x2="1089.3" y2="432.9" stroke="#000" stroke-width="2" />
<text x="1081.8" y="438.9" font-size="20.5" text-anchor="end" fill="#000" font-weight="normal" >0.02</text>
<line x1="1085.8" y1="482.1" x2="1089.3" y2="482.1" stroke="#000" stroke-width="2" />
<text x="1081.8" y="488.1" font-size="20.5" text-anchor="end" fill="#000" font-weight="normal" >0.01</text>
<line x1="1096.0" y1="491.2" x2="1096.0" y2="494.7" stroke="#000" stroke-width="2" />
<line x1="1160.5" y1="491.2" x2="1160.5" y2="494.7" stroke="#000" stroke-width="2" />
<line x1="1217.8" y1="491.2" x2="1217.8" y2="494.7" stroke="#000" stroke-width="2" />
<text x="1090.2" y="512.3" font-size="20.5" text-anchor="middle" fill="#000" font-weight="normal" >1</text>
<text x="1160.0" y="512.3" font-size="20.5" text-anchor="middle" fill="#000" font-weight="normal" >10</text>
<text x="1219.3" y="512.3" font-size="20.5" text-anchor="middle" fill="#000" font-weight="normal" >18</text>
<circle cx="1096.0" cy="462.6" r="5.0" fill="#35a535"/>
<circle cx="1103.2" cy="446.3" r="5.0" fill="#35a535"/>
<circle cx="1110.3" cy="446.9" r="5.0" fill="#35a535"/>
<circle cx="1117.5" cy="462.6" r="5.0" fill="#35a535"/>
<circle cx="1124.7" cy="480.7" r="5.0" fill="#35a535"/>
<circle cx="1131.8" cy="438.6" r="5.0" fill="#35a535"/>
<circle cx="1139.0" cy="441.5" r="5.0" fill="#35a535"/>
<circle cx="1146.2" cy="430.0" r="5.0" fill="#35a535"/>
<circle cx="1153.4" cy="440.6" r="5.0" fill="#35a535"/>
<circle cx="1160.5" cy="438.6" r="5.0" fill="#35a535"/>
<circle cx="1167.7" cy="439.2" r="5.0" fill="#35a535"/>
<circle cx="1174.9" cy="447.6" r="5.0" fill="#35a535"/>
<circle cx="1182.0" cy="456.4" r="5.0" fill="#35a535"/>
<circle cx="1189.2" cy="437.7" r="5.0" fill="#35a535"/>
<circle cx="1196.4" cy="427.2" r="5.0" fill="#35a535"/>
<circle cx="1203.5" cy="429.1" r="5.0" fill="#35a535"/>
<circle cx="1210.7" cy="413.8" r="5.0" fill="#35a535"/>
<circle cx="1217.9" cy="403.7" r="5.0" fill="#35a535"/>
<line x1="1096.0" y1="461.6" x2="1217.8" y2="421.1" stroke="#089a3e" stroke-width="4.6" />
<circle cx="1096.0" cy="380.3" r="5.0" fill="#6b68b0"/>
<circle cx="1103.2" cy="401.4" r="5.0" fill="#6b68b0"/>
<circle cx="1110.3" cy="406.5" r="5.0" fill="#6b68b0"/>
<circle cx="1117.5" cy="418.2" r="5.0" fill="#6b68b0"/>
<circle cx="1124.7" cy="399.8" r="5.0" fill="#6b68b0"/>
<circle cx="1131.8" cy="382.2" r="5.0" fill="#6b68b0"/>
<circle cx="1139.0" cy="378.4" r="5.0" fill="#6b68b0"/>
<circle cx="1146.2" cy="386.4" r="5.0" fill="#6b68b0"/>
<circle cx="1153.4" cy="375.5" r="5.0" fill="#6b68b0"/>
<circle cx="1160.5" cy="362.2" r="5.0" fill="#6b68b0"/>
<circle cx="1167.7" cy="372.7" r="5.0" fill="#6b68b0"/>
<circle cx="1174.9" cy="364.1" r="5.0" fill="#6b68b0"/>
<circle cx="1182.0" cy="389.9" r="5.0" fill="#6b68b0"/>
<circle cx="1189.2" cy="374.2" r="5.0" fill="#6b68b0"/>
<circle cx="1196.4" cy="379.9" r="5.0" fill="#6b68b0"/>
<circle cx="1203.5" cy="411.3" r="5.0" fill="#6b68b0"/>
<circle cx="1210.7" cy="396.6" r="5.0" fill="#6b68b0"/>
<circle cx="1217.9" cy="376.5" r="5.0" fill="#6b68b0"/>
<line x1="1096.0" y1="393.3" x2="1217.8" y2="379.4" stroke="#6b68b0" stroke-width="4.6" />
<path d="M1186.60,342.30L1186.60,337.10M1186.60,342.30L1191.55,340.69M1186.60,342.30L1189.66,346.51M1186.60,342.30L1183.54,346.51M1186.60,342.30L1181.65,340.69" stroke="#12963d" stroke-width="1.7" fill="none"/>
<path d="M1198.30,342.30L1198.30,337.10M1198.30,342.30L1203.25,340.69M1198.30,342.30L1201.36,346.51M1198.30,342.30L1195.24,346.51M1198.30,342.30L1193.35,340.69" stroke="#12963d" stroke-width="1.7" fill="none"/>
<path d="M1210.00,342.30L1210.00,337.10M1210.00,342.30L1214.95,340.69M1210.00,342.30L1213.06,346.51M1210.00,342.30L1206.94,346.51M1210.00,342.30L1205.05,340.69" stroke="#12963d" stroke-width="1.7" fill="none"/>
<line x1="1278.0" y1="340.2" x2="1278.0" y2="493.2" stroke="#000" stroke-width="2.6" />
<line x1="1276.7" y1="491.9" x2="1402.7" y2="491.9" stroke="#000" stroke-width="2.6" />
<line x1="1274.5" y1="340.7" x2="1278.0" y2="340.7" stroke="#000" stroke-width="2" />
<text x="1272.0" y="346.7" font-size="20.5" text-anchor="end" fill="#000" font-weight="normal" >0.06</text>
<line x1="1274.5" y1="388.4" x2="1278.0" y2="388.4" stroke="#000" stroke-width="2" />
<text x="1272.0" y="394.4" font-size="20.5" text-anchor="end" fill="#000" font-weight="normal" >0.05</text>
<line x1="1274.5" y1="435.8" x2="1278.0" y2="435.8" stroke="#000" stroke-width="2" />
<text x="1272.0" y="441.8" font-size="20.5" text-anchor="end" fill="#000" font-weight="normal" >0.04</text>
<line x1="1274.5" y1="482.7" x2="1278.0" y2="482.7" stroke="#000" stroke-width="2" />
<text x="1272.0" y="488.7" font-size="20.5" text-anchor="end" fill="#000" font-weight="normal" >0.03</text>
<line x1="1284.7" y1="491.9" x2="1284.7" y2="495.4" stroke="#000" stroke-width="2" />
<line x1="1346.8" y1="491.9" x2="1346.8" y2="495.4" stroke="#000" stroke-width="2" />
<line x1="1402.1" y1="491.9" x2="1402.1" y2="495.4" stroke="#000" stroke-width="2" />
<text x="1279.3" y="512.3" font-size="20.5" text-anchor="middle" fill="#000" font-weight="normal" >1</text>
<text x="1348.5" y="512.3" font-size="20.5" text-anchor="middle" fill="#000" font-weight="normal" >10</text>
<text x="1406.5" y="512.3" font-size="20.5" text-anchor="middle" fill="#000" font-weight="normal" >18</text>
<circle cx="1284.7" cy="353.6" r="5.0" fill="#8c8887"/>
<circle cx="1291.6" cy="369.2" r="5.0" fill="#8c8887"/>
<circle cx="1298.5" cy="441.5" r="5.0" fill="#8c8887"/>
<circle cx="1305.4" cy="439.3" r="5.0" fill="#8c8887"/>
<circle cx="1312.3" cy="480.8" r="5.0" fill="#8c8887"/>
<circle cx="1319.2" cy="432.0" r="5.0" fill="#8c8887"/>
<circle cx="1326.1" cy="475.0" r="5.0" fill="#8c8887"/>
<circle cx="1333.0" cy="453.0" r="5.0" fill="#8c8887"/>
<circle cx="1339.9" cy="481.3" r="5.0" fill="#8c8887"/>
<circle cx="1346.8" cy="445.0" r="5.0" fill="#8c8887"/>
<circle cx="1353.7" cy="457.2" r="5.0" fill="#8c8887"/>
<circle cx="1360.6" cy="472.1" r="5.0" fill="#8c8887"/>
<circle cx="1367.5" cy="468.7" r="5.0" fill="#8c8887"/>
<circle cx="1374.4" cy="425.3" r="5.0" fill="#8c8887"/>
<circle cx="1381.3" cy="395.1" r="5.0" fill="#8c8887"/>
<circle cx="1388.2" cy="456.8" r="5.0" fill="#8c8887"/>
<circle cx="1395.1" cy="419.0" r="5.0" fill="#8c8887"/>
<circle cx="1402.0" cy="425.9" r="5.0" fill="#8c8887"/>
<line x1="1284.7" y1="425.3" x2="1402.1" y2="451.1" stroke="#a0a0a0" stroke-width="4.6" />
<line x1="1284.7" y1="405.1" x2="1284.7" y2="437.1" stroke="#000" stroke-width="1.6" />
<circle cx="1284.7" cy="421.1" r="5.0" fill="#000"/>
<circle cx="1291.6" cy="436.2" r="5.0" fill="#000"/>
<circle cx="1298.5" cy="441.2" r="5.0" fill="#000"/>
<circle cx="1305.4" cy="443.1" r="5.0" fill="#000"/>
<circle cx="1312.3" cy="438.7" r="5.0" fill="#000"/>
<circle cx="1319.2" cy="441.2" r="5.0" fill="#000"/>
<circle cx="1326.1" cy="436.8" r="5.0" fill="#000"/>
<circle cx="1333.0" cy="427.2" r="5.0" fill="#000"/>
<circle cx="1339.9" cy="432.9" r="5.0" fill="#000"/>
<circle cx="1346.8" cy="432.9" r="5.0" fill="#000"/>
<circle cx="1353.7" cy="418.2" r="5.0" fill="#000"/>
<circle cx="1360.6" cy="426.2" r="5.0" fill="#000"/>
<circle cx="1367.5" cy="433.9" r="5.0" fill="#000"/>
<circle cx="1374.4" cy="428.2" r="5.0" fill="#000"/>
<circle cx="1381.3" cy="410.6" r="5.0" fill="#000"/>
<circle cx="1388.2" cy="429.1" r="5.0" fill="#000"/>
<circle cx="1395.1" cy="438.1" r="5.0" fill="#000"/>
<circle cx="1402.0" cy="425.3" r="5.0" fill="#000"/>
<line x1="1284.7" y1="436.8" x2="1402.1" y2="424.0" stroke="#000" stroke-width="3.5" />
<text transform="translate(0.0,607.5) scale(1.14,1)" font-size="32.5" font-weight="bold" fill="#000" stroke="#000" stroke-width="0.9">c</text>
<text x="249.4" y="631.7" font-size="20.5" text-anchor="middle" fill="#000" font-weight="normal" >Monkey pair 1</text>
<text x="478.7" y="631.4" font-size="20.5" text-anchor="middle" fill="#000" font-weight="normal" >Monkey pair 2</text>
<rect x="154.2" y="651.8" width="68.3" height="33.3" fill="#8ed3ce" shape-rendering="crispEdges"/>
<rect x="222.0" y="651.8" width="67.6" height="33.3" fill="#c5e3e3" shape-rendering="crispEdges"/>
<rect x="289.1" y="651.8" width="67.5" height="33.3" fill="#c5e3e3" shape-rendering="crispEdges"/>
<rect x="154.2" y="684.6" width="68.3" height="33.3" fill="#72c8c1" shape-rendering="crispEdges"/>
<rect x="222.0" y="684.6" width="67.6" height="33.3" fill="#8ed3ce" shape-rendering="crispEdges"/>
<rect x="289.1" y="684.6" width="67.5" height="33.3" fill="#72c8c1" shape-rendering="crispEdges"/>
<rect x="154.2" y="717.5" width="68.3" height="33.3" fill="#35b2ad" shape-rendering="crispEdges"/>
<rect x="222.0" y="717.5" width="67.6" height="33.3" fill="#c5e3e3" shape-rendering="crispEdges"/>
<rect x="289.1" y="717.5" width="67.5" height="33.3" fill="#c5e3e3" shape-rendering="crispEdges"/>
<rect x="154.2" y="750.3" width="68.3" height="33.3" fill="#35b2ad" shape-rendering="crispEdges"/>
<rect x="222.0" y="750.3" width="67.6" height="33.3" fill="#35b2ad" shape-rendering="crispEdges"/>
<rect x="289.1" y="750.3" width="67.5" height="33.3" fill="#35b2ad" shape-rendering="crispEdges"/>
<rect x="377.2" y="651.8" width="69.3" height="33.3" fill="#72c8c1" shape-rendering="crispEdges"/>
<rect x="446.0" y="651.8" width="67.8" height="33.3" fill="#c5e3e3" shape-rendering="crispEdges"/>
<rect x="513.3" y="651.8" width="67.7" height="33.3" fill="#72c8c1" shape-rendering="crispEdges"/>
<rect x="377.2" y="684.6" width="69.3" height="33.3" fill="#c5e3e3" shape-rendering="crispEdges"/>
<rect x="446.0" y="684.6" width="67.8" height="33.3" fill="#c5e3e3" shape-rendering="crispEdges"/>
<rect x="513.3" y="684.6" width="67.7" height="33.3" fill="#c5e3e3" shape-rendering="crispEdges"/>
<rect x="377.2" y="717.5" width="69.3" height="33.3" fill="#35b2ad" shape-rendering="crispEdges"/>
<rect x="446.0" y="717.5" width="67.8" height="33.3" fill="#c5e3e3" shape-rendering="crispEdges"/>
<rect x="513.3" y="717.5" width="67.7" height="33.3" fill="#72c8c1" shape-rendering="crispEdges"/>
<rect x="377.2" y="750.3" width="69.3" height="33.3" fill="#35b2ad" shape-rendering="crispEdges"/>
<rect x="446.0" y="750.3" width="67.8" height="33.3" fill="#35b2ad" shape-rendering="crispEdges"/>
<rect x="513.3" y="750.3" width="67.7" height="33.3" fill="#35b2ad" shape-rendering="crispEdges"/>
<line x1="154.2" y1="651.8" x2="154.2" y2="783.2" stroke="#000" stroke-width="2.6" />
<line x1="150.7" y1="782.7" x2="356.1" y2="782.7" stroke="#000" stroke-width="2.6" />
<line x1="150.7" y1="668.2" x2="154.2" y2="668.2" stroke="#000" stroke-width="2" />
<line x1="150.7" y1="701.0" x2="154.2" y2="701.0" stroke="#000" stroke-width="2" />
<line x1="150.7" y1="733.9" x2="154.2" y2="733.9" stroke="#000" stroke-width="2" />
<line x1="150.7" y1="766.7" x2="154.2" y2="766.7" stroke="#000" stroke-width="2" />
<line x1="187.1" y1="782.7" x2="187.1" y2="786.5" stroke="#000" stroke-width="2" />
<line x1="254.4" y1="782.7" x2="254.4" y2="786.5" stroke="#000" stroke-width="2" />
<line x1="321.5" y1="782.7" x2="321.5" y2="786.5" stroke="#000" stroke-width="2" />
<line x1="377.2" y1="651.8" x2="377.2" y2="783.2" stroke="#000" stroke-width="2.6" />
<line x1="373.7" y1="782.7" x2="580.5" y2="782.7" stroke="#000" stroke-width="2.6" />
<line x1="373.7" y1="668.2" x2="377.2" y2="668.2" stroke="#000" stroke-width="2" />
<line x1="373.7" y1="701.0" x2="377.2" y2="701.0" stroke="#000" stroke-width="2" />
<line x1="373.7" y1="733.9" x2="377.2" y2="733.9" stroke="#000" stroke-width="2" />
<line x1="373.7" y1="766.7" x2="377.2" y2="766.7" stroke="#000" stroke-width="2" />
<line x1="411.4" y1="782.7" x2="411.4" y2="786.5" stroke="#000" stroke-width="2" />
<line x1="479.4" y1="782.7" x2="479.4" y2="786.5" stroke="#000" stroke-width="2" />
<line x1="547.2" y1="782.7" x2="547.2" y2="786.5" stroke="#000" stroke-width="2" />
<text x="144.8" y="675.1" font-size="20.5" text-anchor="end" fill="#000" font-weight="normal" >View reward</text>
<text x="144.8" y="708.9" font-size="20.5" text-anchor="end" fill="#000" font-weight="normal" >View partner</text>
<text x="144.8" y="741.6" font-size="20.5" text-anchor="end" fill="#000" font-weight="normal" >Self push</text>
<text x="144.8" y="775.2" font-size="20.5" text-anchor="end" fill="#000" font-weight="normal" >Partner push</text>
<text x="151.0" y="810.6" font-size="20.5" text-anchor="start" fill="#000" font-weight="normal" >V4–V4</text>
<text x="222.5" y="810.6" font-size="20.5" text-anchor="start" fill="#000" font-weight="normal" >dlPFC–</text>
<text x="222.5" y="835.7" font-size="20.5" text-anchor="start" fill="#000" font-weight="normal" >dlPFC</text>
<text x="305.6" y="810.6" font-size="20.5" text-anchor="start" fill="#000" font-weight="normal" >V4–</text>
<text x="305.6" y="835.7" font-size="20.5" text-anchor="start" fill="#000" font-weight="normal" >dlPFC</text>
<text x="376.5" y="805.5" font-size="20.5" text-anchor="start" fill="#000" font-weight="normal" >V4–V4</text>
<text x="450.1" y="805.5" font-size="20.5" text-anchor="start" fill="#000" font-weight="normal" >dlPFC–</text>
<text x="450.1" y="830.6" font-size="20.5" text-anchor="start" fill="#000" font-weight="normal" >dlPFC</text>
<text x="535.6" y="805.5" font-size="20.5" text-anchor="start" fill="#000" font-weight="normal" >V4–</text>
<text x="535.6" y="830.6" font-size="20.5" text-anchor="start" fill="#000" font-weight="normal" >dlPFC</text>
<text x="96.5" y="865" font-size="20.5"><tspan font-style="italic">P</tspan> values</text>
<rect x="183.0" y="852.8" width="86.8" height="15.1" fill="#c5e3e3"/>
<rect x="269.8" y="852.8" width="87.2" height="15.1" fill="#8ed3ce"/>
<rect x="357.0" y="852.8" width="86.7" height="15.1" fill="#72c8c1"/>
<rect x="443.7" y="852.8" width="87.1" height="15.1" fill="#35b2ad"/>
<text x="182.5" y="891.7" font-size="20.5"><tspan font-style="italic">P</tspan> &lt; 0.001</text>
<text x="277.6" y="891.7" font-size="20.5"><tspan font-style="italic">P</tspan> &lt; 0.01</text>
<text x="438.5" y="891.7" font-size="20.5" text-anchor="end"><tspan font-style="italic">P</tspan> &lt; 0.05</text>
<text x="488.5" y="891.7" font-size="20.5" text-anchor="middle" fill="#000" font-weight="normal" >NS</text>
<text transform="translate(632.6,607.3) scale(1.14,1)" font-size="32.5" font-weight="bold" fill="#000" stroke="#000" stroke-width="0.9">d</text>
<rect x="887.6" y="596.3" width="12.4" height="12.4" fill="#262a5c"/>
<text x="905.7" y="608.7" font-size="20.5" text-anchor="start" fill="#000" font-weight="normal" >dlPFC leads</text>
<rect x="1049.4" y="596.5" width="13.0" height="12.3" fill="#b9a94c"/>
<text x="1067.1" y="608.6" font-size="20.5" text-anchor="start" fill="#000" font-weight="normal" >V4 leads</text>
<text x="766.2" y="653.5" font-size="20.5" text-anchor="middle" fill="#000" font-weight="normal" >View reward</text>
<text x="937.2" y="653.5" font-size="20.5" text-anchor="middle" fill="#000" font-weight="normal" >View partner</text>
<text x="1108.8" y="653.5" font-size="20.5" text-anchor="middle" fill="#000" font-weight="normal" >Self push</text>
<text x="1282.8" y="653.5" font-size="20.5" text-anchor="middle" fill="#000" font-weight="normal" >Partner push</text>
<text transform="translate(662.9,745.3) rotate(-90)" font-size="21" text-anchor="middle" fill="#000">Cell pair count</text>
<text x="1049.3" y="873.1" font-size="20.5" text-anchor="middle" fill="#000" font-weight="normal" >Time lag between cells (ms)</text>
<path d="M719.4,824.0 L719.4,721.0 L730.9,721.0 L730.9,736.5 L742.8,736.5 L742.8,758.6 L754.1,758.6 L754.1,793.0 L765.9,793.0 L765.9,824.0 Z" fill="#262a5c"/>
<path d="M788.5,824.0 L788.5,780.9 L800.1,780.9 L800.1,745.9 L811.4,745.9 L811.4,728.9 L823.2,728.9 L823.2,700.4 L835.1,700.4 L835.1,824.0 Z" fill="#dbbf00"/>
<line x1="713.2" y1="675.6" x2="713.2" y2="825.3" stroke="#000" stroke-width="2.6" />
<line x1="711.9" y1="824.0" x2="840.7" y2="824.0" stroke="#000" stroke-width="2.6" />
<line x1="709.7" y1="676.7" x2="713.2" y2="676.7" stroke="#000" stroke-width="2" />
<text x="705.8" y="682.7" font-size="20.5" text-anchor="end" fill="#000" font-weight="normal" >200</text>
<line x1="709.7" y1="750.7" x2="713.2" y2="750.7" stroke="#000" stroke-width="2" />
<text x="705.8" y="756.7" font-size="20.5" text-anchor="end" fill="#000" font-weight="normal" >100</text>
<line x1="709.7" y1="824.1" x2="713.2" y2="824.1" stroke="#000" stroke-width="2" />
<text x="705.8" y="830.1" font-size="20.5" text-anchor="end" fill="#000" font-weight="normal" >0</text>
<line x1="718.8" y1="824.0" x2="718.8" y2="827.5" stroke="#000" stroke-width="2" />
<text x="721.3" y="845.2" font-size="20.5" text-anchor="middle" fill="#000" font-weight="normal" >–50</text>
<line x1="777.2" y1="824.0" x2="777.2" y2="827.5" stroke="#000" stroke-width="2" />
<text x="777.2" y="845.2" font-size="20.5" text-anchor="middle" fill="#000" font-weight="normal" >0</text>
<line x1="835.1" y1="824.0" x2="835.1" y2="827.5" stroke="#000" stroke-width="2" />
<text x="835.1" y="845.2" font-size="20.5" text-anchor="middle" fill="#000" font-weight="normal" >50</text>
<text x="743.6" y="811.0" font-size="18.6" text-anchor="middle" fill="#fff" font-weight="normal" >390</text>
<text x="812.4" y="811.0" font-size="18.6" text-anchor="middle" fill="#000" font-weight="normal" >462</text>
<path d="M887.6,824.0 L887.6,696.2 L899.5,696.2 L899.5,720.2 L910.8,720.2 L910.8,754.0 L922.6,754.0 L922.6,788.2 L933.9,788.2 L933.9,824.0 Z" fill="#262a5c"/>
<path d="M957.3,824.0 L957.3,781.1 L969.2,781.1 L969.2,747.0 L980.8,747.0 L980.8,727.5 L992.6,727.5 L992.6,680.9 L1003.9,680.9 L1003.9,824.0 Z" fill="#dbbf00"/>
<line x1="882.0" y1="675.6" x2="882.0" y2="825.3" stroke="#000" stroke-width="2.6" />
<line x1="880.7" y1="824.0" x2="1011.0" y2="824.0" stroke="#000" stroke-width="2.6" />
<line x1="878.5" y1="676.7" x2="882.0" y2="676.7" stroke="#000" stroke-width="2" />
<text x="874.8" y="682.7" font-size="20.5" text-anchor="end" fill="#000" font-weight="normal" >400</text>
<line x1="878.5" y1="750.7" x2="882.0" y2="750.7" stroke="#000" stroke-width="2" />
<text x="874.8" y="756.7" font-size="20.5" text-anchor="end" fill="#000" font-weight="normal" >200</text>
<line x1="878.5" y1="824.0" x2="882.0" y2="824.0" stroke="#000" stroke-width="2" />
<text x="874.8" y="830.0" font-size="20.5" text-anchor="end" fill="#000" font-weight="normal" >0</text>
<line x1="887.6" y1="824.0" x2="887.6" y2="827.5" stroke="#000" stroke-width="2" />
<text x="890.1" y="845.2" font-size="20.5" text-anchor="middle" fill="#000" font-weight="normal" >–50</text>
<line x1="946.0" y1="824.0" x2="946.0" y2="827.5" stroke="#000" stroke-width="2" />
<text x="946.0" y="845.2" font-size="20.5" text-anchor="middle" fill="#000" font-weight="normal" >0</text>
<line x1="1003.9" y1="824.0" x2="1003.9" y2="827.5" stroke="#000" stroke-width="2" />
<text x="1003.9" y="845.2" font-size="20.5" text-anchor="middle" fill="#000" font-weight="normal" >50</text>
<text x="911.3" y="811.0" font-size="18.6" text-anchor="middle" fill="#fff" font-weight="normal" >917</text>
<text x="983.6" y="811.0" font-size="18.6" text-anchor="middle" fill="#000" font-weight="normal" >977</text>
<path d="M1058.3,823.7 L1058.3,710.4 L1068.3,710.4 L1068.3,702.4 L1078.0,702.4 L1078.0,715.1 L1087.7,715.1 L1087.7,702.4 L1097.7,702.4 L1097.7,728.0 L1107.4,728.0 L1107.4,823.7 Z" fill="#262a5c"/>
<path d="M1127.1,823.7 L1127.1,731.0 L1136.8,731.0 L1136.8,676.5 L1146.6,676.5 L1146.6,685.7 L1156.6,685.7 L1156.6,690.1 L1166.3,690.1 L1166.3,687.7 L1176.6,687.7 L1176.6,823.7 Z" fill="#dbbf00"/>
<line x1="1051.5" y1="675.6" x2="1051.5" y2="825.0" stroke="#000" stroke-width="2.6" />
<line x1="1050.2" y1="823.7" x2="1183.9" y2="823.7" stroke="#000" stroke-width="2.6" />
<line x1="1048.0" y1="676.5" x2="1051.5" y2="676.5" stroke="#000" stroke-width="2" />
<text x="1046.7" y="682.5" font-size="20.5" text-anchor="end" fill="#000" font-weight="normal" >150</text>
<line x1="1048.0" y1="726.0" x2="1051.5" y2="726.0" stroke="#000" stroke-width="2" />
<text x="1046.7" y="732.0" font-size="20.5" text-anchor="end" fill="#000" font-weight="normal" >100</text>
<line x1="1048.0" y1="775.1" x2="1051.5" y2="775.1" stroke="#000" stroke-width="2" />
<text x="1046.7" y="781.1" font-size="20.5" text-anchor="end" fill="#000" font-weight="normal" >50</text>
<line x1="1048.0" y1="823.7" x2="1051.5" y2="823.7" stroke="#000" stroke-width="2" />
<text x="1046.7" y="829.7" font-size="20.5" text-anchor="end" fill="#000" font-weight="normal" >0</text>
<line x1="1067.7" y1="823.7" x2="1067.7" y2="827.2" stroke="#000" stroke-width="2" />
<text x="1070.2" y="845.2" font-size="20.5" text-anchor="middle" fill="#000" font-weight="normal" >–50</text>
<line x1="1117.7" y1="823.7" x2="1117.7" y2="827.2" stroke="#000" stroke-width="2" />
<text x="1117.7" y="845.2" font-size="20.5" text-anchor="middle" fill="#000" font-weight="normal" >0</text>
<line x1="1166.9" y1="823.7" x2="1166.9" y2="827.2" stroke="#000" stroke-width="2" />
<text x="1166.9" y="845.2" font-size="20.5" text-anchor="middle" fill="#000" font-weight="normal" >50</text>
<text x="1083.2" y="811.0" font-size="18.6" text-anchor="middle" fill="#fff" font-weight="normal" >573</text>
<text x="1152.6" y="811.0" font-size="18.6" text-anchor="middle" fill="#000" font-weight="normal" >661</text>
<path d="M1230.1,823.7 L1230.1,738.3 L1239.8,738.3 L1239.8,731.3 L1249.6,731.3 L1249.6,738.3 L1259.6,738.3 L1259.6,751.0 L1269.3,751.0 L1269.3,773.6 L1279.0,773.6 L1279.0,823.7 Z" fill="#262a5c"/>
<path d="M1298.7,823.7 L1298.7,776.9 L1308.4,776.9 L1308.4,727.4 L1318.4,727.4 L1318.4,733.3 L1328.1,733.3 L1328.1,728.9 L1337.8,728.9 L1337.8,703.3 L1347.8,703.3 L1347.8,823.7 Z" fill="#dbbf00"/>
<line x1="1223.7" y1="675.6" x2="1223.7" y2="825.0" stroke="#000" stroke-width="2.6" />
<line x1="1222.4" y1="823.7" x2="1353.7" y2="823.7" stroke="#000" stroke-width="2.6" />
<line x1="1220.2" y1="676.5" x2="1223.7" y2="676.5" stroke="#000" stroke-width="2" />
<text x="1216.5" y="682.5" font-size="20.5" text-anchor="end" fill="#000" font-weight="normal" >400</text>
<line x1="1220.2" y1="750.4" x2="1223.7" y2="750.4" stroke="#000" stroke-width="2" />
<text x="1216.5" y="756.4" font-size="20.5" text-anchor="end" fill="#000" font-weight="normal" >200</text>
<line x1="1220.2" y1="823.7" x2="1223.7" y2="823.7" stroke="#000" stroke-width="2" />
<text x="1216.5" y="829.7" font-size="20.5" text-anchor="end" fill="#000" font-weight="normal" >0</text>
<line x1="1239.8" y1="823.7" x2="1239.8" y2="827.2" stroke="#000" stroke-width="2" />
<text x="1242.3" y="845.2" font-size="20.5" text-anchor="middle" fill="#000" font-weight="normal" >–50</text>
<line x1="1289.0" y1="823.7" x2="1289.0" y2="827.2" stroke="#000" stroke-width="2" />
<text x="1289.0" y="845.2" font-size="20.5" text-anchor="middle" fill="#000" font-weight="normal" >0</text>
<line x1="1337.8" y1="823.7" x2="1337.8" y2="827.2" stroke="#000" stroke-width="2" />
<text x="1337.8" y="845.2" font-size="20.5" text-anchor="middle" fill="#000" font-weight="normal" >50</text>
<text x="1253.8" y="811.0" font-size="18.6" text-anchor="middle" fill="#fff" font-weight="normal" >1,050</text>
<text x="1324.2" y="811.0" font-size="18.6" text-anchor="middle" fill="#000" font-weight="normal" >1,224</text>
<text transform="translate(0.0,969.6) scale(1.14,1)" font-size="32.5" font-weight="bold" fill="#000" stroke="#000" stroke-width="0.9">e</text>
<text x="173.6" y="980.2" font-size="20.5" text-anchor="middle" fill="#000" font-weight="normal" >View reward</text>
<text x="369.9" y="980.2" font-size="20.5" text-anchor="middle" fill="#000" font-weight="normal" >View partner</text>
<text x="567.0" y="980.2" font-size="20.5" text-anchor="middle" fill="#000" font-weight="normal" >Self push</text>
<text x="760.5" y="980.2" font-size="20.5" text-anchor="middle" fill="#000" font-weight="normal" >Partner push</text>
<text transform="translate(40.2,1047.5) rotate(-90)" font-size="20.5" text-anchor="middle" fill="#000">V4</text>
<text transform="translate(40.2,1285.5) rotate(-90)" font-size="20.5" text-anchor="middle" fill="#000">dlPFC</text>
<text transform="translate(63.6,1149.2) rotate(-90)" font-size="20.7" text-anchor="middle" fill="#000">Proability density</text>
<text x="455.7" y="1353.5" font-size="20.5" text-anchor="middle" fill="#000" font-weight="normal" >SVM decoder neuron weight (session mean)</text>
<path d="M113.00,1136.50 C115.00,1136.42 121.67,1137.42 125.00,1136.00 C128.33,1134.58 130.50,1134.00 133.00,1128.00 C135.50,1122.00 137.67,1112.17 140.00,1100.00 C142.33,1087.83 145.00,1066.33 147.00,1055.00 C149.00,1043.67 150.22,1036.95 152.00,1032.00 C153.78,1027.05 155.87,1025.63 157.70,1025.30 C159.53,1024.97 160.95,1027.55 163.00,1030.00 C165.05,1032.45 167.83,1037.33 170.00,1040.00 C172.17,1042.67 174.00,1042.67 176.00,1046.00 C178.00,1049.33 180.00,1053.50 182.00,1060.00 C184.00,1066.50 186.00,1075.83 188.00,1085.00 C190.00,1094.17 191.83,1106.83 194.00,1115.00 C196.17,1123.17 198.33,1130.42 201.00,1134.00 C203.67,1137.58 208.50,1136.08 210.00,1136.50 Z" fill="#b5b5b5" fill-opacity="1.0"/>
<line x1="166.6" y1="1136.5" x2="166.6" y2="1024" stroke="#000" stroke-width="2.8" stroke-dasharray="18.4,8.6"/>
<line x1="176.2" y1="1136.5" x2="176.2" y2="1024" stroke="#c31545" stroke-width="2.8" stroke-dasharray="18.4,8.6"/>
<path d="M113.00,1136.50 C114.17,1136.33 117.50,1136.58 120.00,1135.50 C122.50,1134.42 125.50,1133.92 128.00,1130.00 C130.50,1126.08 132.17,1120.33 135.00,1112.00 C137.83,1103.67 142.00,1088.33 145.00,1080.00 C148.00,1071.67 150.50,1065.50 153.00,1062.00 C155.50,1058.50 157.67,1058.50 160.00,1059.00 C162.33,1059.50 164.38,1063.00 167.00,1065.00 C169.62,1067.00 173.03,1068.83 175.70,1071.00 C178.37,1073.17 180.52,1076.50 183.00,1078.00 C185.48,1079.50 188.10,1078.00 190.60,1080.00 C193.10,1082.00 195.60,1085.83 198.00,1090.00 C200.40,1094.17 202.67,1100.33 205.00,1105.00 C207.33,1109.67 209.17,1113.83 212.00,1118.00 C214.83,1122.17 217.83,1127.50 222.00,1130.00 C226.17,1132.50 232.33,1132.33 237.00,1133.00 C241.67,1133.67 245.33,1133.42 250.00,1134.00 C254.67,1134.58 262.50,1136.08 265.00,1136.50 Z" fill="#c31545" fill-opacity="0.55"/>
<line x1="113.3" y1="1021.5" x2="113.3" y2="1137.8" stroke="#000" stroke-width="2.6" />
<line x1="112.0" y1="1136.5" x2="278.4" y2="1136.5" stroke="#000" stroke-width="2.6" />
<line x1="109.8" y1="1042.0" x2="113.3" y2="1042.0" stroke="#000" stroke-width="2" />
<text x="102.6" y="1048.0" font-size="20.5" text-anchor="end" fill="#000" font-weight="normal" >10</text>
<line x1="109.8" y1="1089.3" x2="113.3" y2="1089.3" stroke="#000" stroke-width="2" />
<text x="102.6" y="1095.3" font-size="20.5" text-anchor="end" fill="#000" font-weight="normal" >5</text>
<line x1="109.8" y1="1136.5" x2="113.3" y2="1136.5" stroke="#000" stroke-width="2" />
<text x="102.6" y="1142.5" font-size="20.5" text-anchor="end" fill="#000" font-weight="normal" >0</text>
<line x1="117.5" y1="1136.5" x2="117.5" y2="1140.0" stroke="#000" stroke-width="2" />
<text x="117.5" y="1159.2" font-size="20.5" text-anchor="middle" fill="#000" font-weight="normal" >0</text>
<line x1="166.2" y1="1136.5" x2="166.2" y2="1140.0" stroke="#000" stroke-width="2" />
<text x="166.2" y="1159.2" font-size="20.5" text-anchor="middle" fill="#000" font-weight="normal" >0.1</text>
<line x1="214.5" y1="1136.5" x2="214.5" y2="1140.0" stroke="#000" stroke-width="2" />
<text x="214.5" y="1159.2" font-size="20.5" text-anchor="middle" fill="#000" font-weight="normal" >0.2</text>
<line x1="263.6" y1="1136.5" x2="263.6" y2="1140.0" stroke="#000" stroke-width="2" />
<text x="263.6" y="1159.2" font-size="20.5" text-anchor="middle" fill="#000" font-weight="normal" >0.3</text>
<path d="M160.20,1000.30L160.20,995.10M160.20,1000.30L165.15,998.69M160.20,1000.30L163.26,1004.51M160.20,1000.30L157.14,1004.51M160.20,1000.30L155.25,998.69" stroke="#000" stroke-width="1.7" fill="none"/>
<path d="M171.90,1000.30L171.90,995.10M171.90,1000.30L176.85,998.69M171.90,1000.30L174.96,1004.51M171.90,1000.30L168.84,1004.51M171.90,1000.30L166.95,998.69" stroke="#000" stroke-width="1.7" fill="none"/>
<path d="M183.60,1000.30L183.60,995.10M183.60,1000.30L188.55,998.69M183.60,1000.30L186.66,1004.51M183.60,1000.30L180.54,1004.51M183.60,1000.30L178.65,998.69" stroke="#000" stroke-width="1.7" fill="none"/>
<path d="M162,1018.3 L162,1009.9 L182.5,1009.9 L182.5,1018.3" stroke="#000" stroke-width="2" fill="none"/>
<path d="M304.00,1136.00 C305.33,1135.83 309.33,1136.83 312.00,1135.00 C314.67,1133.17 317.00,1133.33 320.00,1125.00 C323.00,1116.67 326.67,1098.33 330.00,1085.00 C333.33,1071.67 336.85,1053.17 340.00,1045.00 C343.15,1036.83 346.23,1036.00 348.90,1036.00 C351.57,1036.00 353.65,1044.33 356.00,1045.00 C358.35,1045.67 360.42,1041.97 363.00,1040.00 C365.58,1038.03 369.00,1031.53 371.50,1033.20 C374.00,1034.87 375.42,1040.60 378.00,1050.00 C380.58,1059.40 384.17,1077.93 387.00,1089.60 C389.83,1101.27 392.17,1112.27 395.00,1120.00 C397.83,1127.73 402.50,1133.33 404.00,1136.00 Z" fill="#b5b5b5" fill-opacity="1.0"/>
<line x1="360.2" y1="1136.2" x2="360.2" y2="1024" stroke="#000" stroke-width="2.8" stroke-dasharray="18.4,8.6"/>
<line x1="372.9" y1="1136.2" x2="372.9" y2="1024" stroke="#e68a00" stroke-width="2.8" stroke-dasharray="18.4,8.6"/>
<path d="M304.00,1136.00 C305.83,1135.67 311.50,1137.50 315.00,1134.00 C318.50,1130.50 321.67,1124.83 325.00,1115.00 C328.33,1105.17 331.67,1087.50 335.00,1075.00 C338.33,1062.50 341.73,1046.83 345.00,1040.00 C348.27,1033.17 351.77,1032.33 354.60,1034.00 C357.43,1035.67 358.93,1043.08 362.00,1050.00 C365.07,1056.92 369.17,1068.83 373.00,1075.50 C376.83,1082.17 380.83,1086.75 385.00,1090.00 C389.17,1093.25 394.17,1092.67 398.00,1095.00 C401.83,1097.33 405.12,1101.83 408.00,1104.00 C410.88,1106.17 412.47,1106.67 415.30,1108.00 C418.13,1109.33 420.88,1108.67 425.00,1112.00 C429.12,1115.33 435.50,1124.00 440.00,1128.00 C444.50,1132.00 450.00,1134.67 452.00,1136.00 Z" fill="#e68a00" fill-opacity="0.5"/>
<line x1="304.3" y1="1024.1" x2="304.3" y2="1137.5" stroke="#000" stroke-width="2.6" />
<line x1="303.0" y1="1136.2" x2="469.5" y2="1136.2" stroke="#000" stroke-width="2.6" />
<line x1="300.8" y1="1024.7" x2="304.3" y2="1024.7" stroke="#000" stroke-width="2" />
<text x="295.6" y="1030.7" font-size="20.5" text-anchor="end" fill="#000" font-weight="normal" >10</text>
<line x1="300.8" y1="1080.6" x2="304.3" y2="1080.6" stroke="#000" stroke-width="2" />
<text x="295.6" y="1086.6" font-size="20.5" text-anchor="end" fill="#000" font-weight="normal" >5</text>
<line x1="300.8" y1="1136.2" x2="304.3" y2="1136.2" stroke="#000" stroke-width="2" />
<text x="295.6" y="1142.2" font-size="20.5" text-anchor="end" fill="#000" font-weight="normal" >0</text>
<line x1="311.4" y1="1136.2" x2="311.4" y2="1139.7" stroke="#000" stroke-width="2" />
<text x="311.4" y="1159.2" font-size="20.5" text-anchor="middle" fill="#000" font-weight="normal" >0</text>
<line x1="360.2" y1="1136.2" x2="360.2" y2="1139.7" stroke="#000" stroke-width="2" />
<text x="360.2" y="1159.2" font-size="20.5" text-anchor="middle" fill="#000" font-weight="normal" >0.1</text>
<line x1="408.2" y1="1136.2" x2="408.2" y2="1139.7" stroke="#000" stroke-width="2" />
<text x="408.2" y="1159.2" font-size="20.5" text-anchor="middle" fill="#000" font-weight="normal" >0.2</text>
<line x1="456.2" y1="1136.2" x2="456.2" y2="1139.7" stroke="#000" stroke-width="2" />
<text x="456.2" y="1159.2" font-size="20.5" text-anchor="middle" fill="#000" font-weight="normal" >0.3</text>
<path d="M354.90,999.30L354.90,994.10M354.90,999.30L359.85,997.69M354.90,999.30L357.96,1003.51M354.90,999.30L351.84,1003.51M354.90,999.30L349.95,997.69" stroke="#000" stroke-width="1.7" fill="none"/>
<path d="M366.60,999.30L366.60,994.10M366.60,999.30L371.55,997.69M366.60,999.30L369.66,1003.51M366.60,999.30L363.54,1003.51M366.60,999.30L361.65,997.69" stroke="#000" stroke-width="1.7" fill="none"/>
<path d="M378.30,999.30L378.30,994.10M378.30,999.30L383.25,997.69M378.30,999.30L381.36,1003.51M378.30,999.30L375.24,1003.51M378.30,999.30L373.35,997.69" stroke="#000" stroke-width="1.7" fill="none"/>
<path d="M356.8,1017.6 L356.8,1009.2 L377.2,1009.2 L377.2,1017.6" stroke="#000" stroke-width="2" fill="none"/>
<path d="M498.50,1136.00 C502.08,1135.92 514.75,1137.83 520.00,1135.50 C525.25,1133.17 526.67,1129.92 530.00,1122.00 C533.33,1114.08 537.00,1098.67 540.00,1088.00 C543.00,1077.33 545.33,1065.17 548.00,1058.00 C550.67,1050.83 553.50,1046.33 556.00,1045.00 C558.50,1043.67 560.33,1046.67 563.00,1050.00 C565.67,1053.33 569.00,1061.33 572.00,1065.00 C575.00,1068.67 578.00,1070.33 581.00,1072.00 C584.00,1073.67 587.17,1072.83 590.00,1075.00 C592.83,1077.17 594.33,1079.17 598.00,1085.00 C601.67,1090.83 607.67,1102.50 612.00,1110.00 C616.33,1117.50 620.17,1125.67 624.00,1130.00 C627.83,1134.33 633.17,1135.00 635.00,1136.00 Z" fill="#b5b5b5" fill-opacity="1.0"/>
<line x1="571.9" y1="1136.2" x2="571.9" y2="1024" stroke="#000" stroke-width="2.8" stroke-dasharray="18.4,8.6"/>
<line x1="577" y1="1136.2" x2="577" y2="1024" stroke="#1a9a3e" stroke-width="2.8" stroke-dasharray="18.4,8.6"/>
<path d="M498.50,1136.00 C500.92,1135.92 508.58,1137.83 513.00,1135.50 C517.42,1133.17 521.00,1130.42 525.00,1122.00 C529.00,1113.58 533.17,1095.67 537.00,1085.00 C540.83,1074.33 544.88,1063.35 548.00,1058.00 C551.12,1052.65 553.20,1052.57 555.70,1052.90 C558.20,1053.23 559.78,1055.48 563.00,1060.00 C566.22,1064.52 571.33,1075.83 575.00,1080.00 C578.67,1084.17 581.33,1084.33 585.00,1085.00 C588.67,1085.67 592.83,1082.33 597.00,1084.00 C601.17,1085.67 605.33,1089.50 610.00,1095.00 C614.67,1100.50 620.33,1110.83 625.00,1117.00 C629.67,1123.17 633.83,1128.83 638.00,1132.00 C642.17,1135.17 648.00,1135.33 650.00,1136.00 Z" fill="#1a9a3e" fill-opacity="0.55"/>
<line x1="498.5" y1="1024.0" x2="498.5" y2="1137.5" stroke="#000" stroke-width="2.6" />
<line x1="497.2" y1="1136.2" x2="662.2" y2="1136.2" stroke="#000" stroke-width="2.6" />
<line x1="495.0" y1="1024.7" x2="498.5" y2="1024.7" stroke="#000" stroke-width="2" />
<text x="489.2" y="1030.7" font-size="20.5" text-anchor="end" fill="#000" font-weight="normal" >15</text>
<line x1="495.0" y1="1062.2" x2="498.5" y2="1062.2" stroke="#000" stroke-width="2" />
<text x="489.2" y="1068.2" font-size="20.5" text-anchor="end" fill="#000" font-weight="normal" >10</text>
<line x1="495.0" y1="1099.5" x2="498.5" y2="1099.5" stroke="#000" stroke-width="2" />
<text x="489.2" y="1105.5" font-size="20.5" text-anchor="end" fill="#000" font-weight="normal" >5</text>
<line x1="495.0" y1="1136.2" x2="498.5" y2="1136.2" stroke="#000" stroke-width="2" />
<text x="489.2" y="1142.2" font-size="20.5" text-anchor="end" fill="#000" font-weight="normal" >0</text>
<line x1="498.5" y1="1136.2" x2="498.5" y2="1139.7" stroke="#000" stroke-width="2" />
<text x="498.5" y="1159.2" font-size="20.5" text-anchor="middle" fill="#000" font-weight="normal" >0</text>
<line x1="570.5" y1="1136.2" x2="570.5" y2="1139.7" stroke="#000" stroke-width="2" />
<text x="570.5" y="1159.2" font-size="20.5" text-anchor="middle" fill="#000" font-weight="normal" >0.1</text>
<line x1="641.7" y1="1136.2" x2="641.7" y2="1139.7" stroke="#000" stroke-width="2" />
<text x="641.7" y="1159.2" font-size="20.5" text-anchor="middle" fill="#000" font-weight="normal" >0.2</text>
<path d="M690.00,1136.50 C694.67,1136.25 711.67,1139.75 718.00,1135.00 C724.33,1130.25 725.00,1118.00 728.00,1108.00 C731.00,1098.00 733.50,1086.33 736.00,1075.00 C738.50,1063.67 740.83,1048.17 743.00,1040.00 C745.17,1031.83 746.83,1026.83 749.00,1026.00 C751.17,1025.17 753.33,1030.33 756.00,1035.00 C758.67,1039.67 760.68,1050.07 765.00,1054.00 C769.32,1057.93 776.90,1055.10 781.90,1058.60 C786.90,1062.10 790.32,1067.27 795.00,1075.00 C799.68,1082.73 805.50,1096.17 810.00,1105.00 C814.50,1113.83 818.57,1122.75 822.00,1128.00 C825.43,1133.25 829.17,1135.08 830.60,1136.50 Z" fill="#b5b5b5" fill-opacity="1.0"/>
<line x1="764.3" y1="1136.5" x2="764.3" y2="1024.7" stroke="#000" stroke-width="2.8" stroke-dasharray="18.4,8.6"/>
<line x1="768.1" y1="1136.5" x2="768.1" y2="1024.7" stroke="#6b67ae" stroke-width="2.8" stroke-dasharray="18.4,8.6"/>
<path d="M690.00,1136.50 C691.17,1136.25 693.33,1137.75 697.00,1135.00 C700.67,1132.25 707.33,1127.50 712.00,1120.00 C716.67,1112.50 720.33,1100.00 725.00,1090.00 C729.67,1080.00 734.77,1066.47 740.00,1060.00 C745.23,1053.53 751.40,1052.03 756.40,1051.20 C761.40,1050.37 765.75,1053.87 770.00,1055.00 C774.25,1056.13 777.73,1055.50 781.90,1058.00 C786.07,1060.50 790.32,1063.00 795.00,1070.00 C799.68,1077.00 805.00,1090.83 810.00,1100.00 C815.00,1109.17 819.10,1118.92 825.00,1125.00 C830.90,1131.08 842.00,1134.58 845.40,1136.50 Z" fill="#6b67ae" fill-opacity="0.5"/>
<line x1="690.2" y1="1024.7" x2="690.2" y2="1137.8" stroke="#000" stroke-width="2.6" />
<line x1="688.9" y1="1136.5" x2="854.9" y2="1136.5" stroke="#000" stroke-width="2.6" />
<line x1="686.7" y1="1038.5" x2="690.2" y2="1038.5" stroke="#000" stroke-width="2" />
<text x="682.5" y="1044.5" font-size="20.5" text-anchor="end" fill="#000" font-weight="normal" >10</text>
<line x1="686.7" y1="1087.8" x2="690.2" y2="1087.8" stroke="#000" stroke-width="2" />
<text x="682.5" y="1093.8" font-size="20.5" text-anchor="end" fill="#000" font-weight="normal" >5</text>
<line x1="686.7" y1="1136.5" x2="690.2" y2="1136.5" stroke="#000" stroke-width="2" />
<text x="682.5" y="1142.5" font-size="20.5" text-anchor="end" fill="#000" font-weight="normal" >0</text>
<line x1="696.1" y1="1136.5" x2="696.1" y2="1140.0" stroke="#000" stroke-width="2" />
<text x="696.1" y="1159.2" font-size="20.5" text-anchor="middle" fill="#000" font-weight="normal" >0</text>
<line x1="762.8" y1="1136.5" x2="762.8" y2="1140.0" stroke="#000" stroke-width="2" />
<text x="762.8" y="1159.2" font-size="20.5" text-anchor="middle" fill="#000" font-weight="normal" >0.1</text>
<line x1="828.4" y1="1136.5" x2="828.4" y2="1140.0" stroke="#000" stroke-width="2" />
<text x="828.4" y="1159.2" font-size="20.5" text-anchor="middle" fill="#000" font-weight="normal" >0.2</text>
<path d="M112.00,1310.40 C115.00,1310.17 125.33,1309.73 130.00,1309.00 C134.67,1308.27 137.00,1307.83 140.00,1306.00 C143.00,1304.17 145.83,1305.67 148.00,1298.00 C150.17,1290.33 151.33,1272.67 153.00,1260.00 C154.67,1247.33 156.50,1229.83 158.00,1222.00 C159.50,1214.17 160.50,1211.33 162.00,1213.00 C163.50,1214.67 165.00,1222.50 167.00,1232.00 C169.00,1241.50 171.83,1261.67 174.00,1270.00 C176.17,1278.33 178.00,1279.50 180.00,1282.00 C182.00,1284.50 183.50,1282.00 186.00,1285.00 C188.50,1288.00 192.17,1295.77 195.00,1300.00 C197.83,1304.23 201.67,1308.67 203.00,1310.40 Z" fill="#b5b5b5" fill-opacity="1.0"/>
<line x1="167.3" y1="1310.4" x2="167.3" y2="1198" stroke="#000" stroke-width="2.8" stroke-dasharray="18.4,8.6"/>
<line x1="178.9" y1="1310.4" x2="178.9" y2="1198" stroke="#c31545" stroke-width="2.8" stroke-dasharray="18.4,8.6"/>
<path d="M112.00,1310.40 C114.17,1310.17 120.33,1310.23 125.00,1309.00 C129.67,1307.77 135.00,1307.00 140.00,1303.00 C145.00,1299.00 150.33,1290.83 155.00,1285.00 C159.67,1279.17 163.83,1271.67 168.00,1268.00 C172.17,1264.33 176.33,1262.67 180.00,1263.00 C183.67,1263.33 186.67,1265.50 190.00,1270.00 C193.33,1274.50 196.67,1284.17 200.00,1290.00 C203.33,1295.83 207.00,1301.67 210.00,1305.00 C213.00,1308.33 213.00,1309.33 218.00,1310.00 C223.00,1310.67 234.67,1309.50 240.00,1309.00 C245.33,1308.50 246.33,1306.77 250.00,1307.00 C253.67,1307.23 260.00,1309.83 262.00,1310.40 Z" fill="#c31545" fill-opacity="0.55"/>
<line x1="112.2" y1="1198.2" x2="112.2" y2="1311.7" stroke="#000" stroke-width="2.6" />
<line x1="110.9" y1="1310.4" x2="278.4" y2="1310.4" stroke="#000" stroke-width="2.6" />
<line x1="108.7" y1="1199.7" x2="112.2" y2="1199.7" stroke="#000" stroke-width="2" />
<text x="102.5" y="1205.7" font-size="20.5" text-anchor="end" fill="#000" font-weight="normal" >30</text>
<line x1="108.7" y1="1236.3" x2="112.2" y2="1236.3" stroke="#000" stroke-width="2" />
<text x="102.5" y="1242.3" font-size="20.5" text-anchor="end" fill="#000" font-weight="normal" >20</text>
<line x1="108.7" y1="1273.4" x2="112.2" y2="1273.4" stroke="#000" stroke-width="2" />
<text x="102.5" y="1279.4" font-size="20.5" text-anchor="end" fill="#000" font-weight="normal" >10</text>
<line x1="108.7" y1="1310.4" x2="112.2" y2="1310.4" stroke="#000" stroke-width="2" />
<text x="102.5" y="1316.4" font-size="20.5" text-anchor="end" fill="#000" font-weight="normal" >0</text>
<line x1="116.0" y1="1310.4" x2="116.0" y2="1313.9" stroke="#000" stroke-width="2" />
<text x="116.0" y="1333.5" font-size="20.5" text-anchor="middle" fill="#000" font-weight="normal" >0</text>
<line x1="175.7" y1="1310.4" x2="175.7" y2="1313.9" stroke="#000" stroke-width="2" />
<text x="175.7" y="1333.5" font-size="20.5" text-anchor="middle" fill="#000" font-weight="normal" >0.1</text>
<line x1="235.7" y1="1310.4" x2="235.7" y2="1313.9" stroke="#000" stroke-width="2" />
<text x="235.7" y="1333.5" font-size="20.5" text-anchor="middle" fill="#000" font-weight="normal" >0.2</text>
<path d="M168.70,1176.00L168.70,1170.80M168.70,1176.00L173.65,1174.39M168.70,1176.00L171.76,1180.21M168.70,1176.00L165.64,1180.21M168.70,1176.00L163.75,1174.39" stroke="#000" stroke-width="1.7" fill="none"/>
<path d="M180.40,1176.00L180.40,1170.80M180.40,1176.00L185.35,1174.39M180.40,1176.00L183.46,1180.21M180.40,1176.00L177.34,1180.21M180.40,1176.00L175.45,1174.39" stroke="#000" stroke-width="1.7" fill="none"/>
<path d="M163,1194 L163,1184.9 L183.1,1184.9 L183.1,1194" stroke="#000" stroke-width="2" fill="none"/>
<path d="M304.00,1310.80 C308.33,1310.67 324.83,1310.97 330.00,1310.00 C335.17,1309.03 333.33,1305.00 335.00,1305.00 C336.67,1305.00 338.33,1311.17 340.00,1310.00 C341.67,1308.83 343.33,1309.67 345.00,1298.00 C346.67,1286.33 348.55,1255.60 350.00,1240.00 C351.45,1224.40 352.37,1204.40 353.70,1204.40 C355.03,1204.40 356.62,1224.90 358.00,1240.00 C359.38,1255.10 360.00,1285.00 362.00,1295.00 C364.00,1305.00 366.17,1298.83 370.00,1300.00 C373.83,1301.17 380.00,1301.33 385.00,1302.00 C390.00,1302.67 395.00,1303.00 400.00,1304.00 C405.00,1305.00 411.67,1307.83 415.00,1308.00 C418.33,1308.17 417.50,1304.67 420.00,1305.00 C422.50,1305.33 423.33,1309.50 430.00,1310.00 C436.67,1310.50 453.33,1307.87 460.00,1308.00 C466.67,1308.13 468.33,1310.33 470.00,1310.80 Z" fill="#b5b5b5" fill-opacity="1.0"/>
<line x1="362.2" y1="1310.8" x2="362.2" y2="1198" stroke="#000" stroke-width="2.8" stroke-dasharray="18.4,8.6"/>
<line x1="376.6" y1="1310.8" x2="376.6" y2="1198" stroke="#e68a00" stroke-width="2.8" stroke-dasharray="18.4,8.6"/>
<path d="M304.00,1310.80 C307.50,1310.67 318.17,1312.13 325.00,1310.00 C331.83,1307.87 338.83,1301.67 345.00,1298.00 C351.17,1294.33 356.17,1290.57 362.00,1288.00 C367.83,1285.43 374.50,1282.77 380.00,1282.60 C385.50,1282.43 390.00,1284.27 395.00,1287.00 C400.00,1289.73 405.00,1295.33 410.00,1299.00 C415.00,1302.67 419.17,1307.03 425.00,1309.00 C430.83,1310.97 441.67,1310.50 445.00,1310.80 Z" fill="#e68a00" fill-opacity="0.5"/>
<line x1="304.3" y1="1197.9" x2="304.3" y2="1312.1" stroke="#000" stroke-width="2.6" />
<line x1="303.0" y1="1310.8" x2="469.5" y2="1310.8" stroke="#000" stroke-width="2.6" />
<line x1="300.8" y1="1199.3" x2="304.3" y2="1199.3" stroke="#000" stroke-width="2" />
<text x="296.0" y="1205.3" font-size="20.5" text-anchor="end" fill="#000" font-weight="normal" >50</text>
<line x1="300.8" y1="1310.8" x2="304.3" y2="1310.8" stroke="#000" stroke-width="2" />
<text x="296.0" y="1316.8" font-size="20.5" text-anchor="end" fill="#000" font-weight="normal" >0</text>
<line x1="305.2" y1="1310.8" x2="305.2" y2="1314.3" stroke="#000" stroke-width="2" />
<text x="305.2" y="1333.2" font-size="20.5" text-anchor="middle" fill="#000" font-weight="normal" >0</text>
<line x1="368.7" y1="1310.8" x2="368.7" y2="1314.3" stroke="#000" stroke-width="2" />
<text x="368.7" y="1333.2" font-size="20.5" text-anchor="middle" fill="#000" font-weight="normal" >0.1</text>
<line x1="432.8" y1="1310.8" x2="432.8" y2="1314.3" stroke="#000" stroke-width="2" />
<text x="432.8" y="1333.2" font-size="20.5" text-anchor="middle" fill="#000" font-weight="normal" >0.2</text>
<path d="M363.40,1175.30L363.40,1170.10M363.40,1175.30L368.35,1173.69M363.40,1175.30L366.46,1179.51M363.40,1175.30L360.34,1179.51M363.40,1175.30L358.45,1173.69" stroke="#000" stroke-width="1.7" fill="none"/>
<path d="M375.10,1175.30L375.10,1170.10M375.10,1175.30L380.05,1173.69M375.10,1175.30L378.16,1179.51M375.10,1175.30L372.04,1179.51M375.10,1175.30L370.15,1173.69" stroke="#000" stroke-width="1.7" fill="none"/>
<path d="M358.8,1193 L358.8,1184.6 L379.4,1184.6 L379.4,1193" stroke="#000" stroke-width="2" fill="none"/>
<path d="M498.00,1310.80 C504.17,1310.50 527.17,1313.30 535.00,1309.00 C542.83,1304.70 542.17,1296.50 545.00,1285.00 C547.83,1273.50 549.45,1252.08 552.00,1240.00 C554.55,1227.92 557.80,1215.50 560.30,1212.50 C562.80,1209.50 564.88,1218.75 567.00,1222.00 C569.12,1225.25 570.00,1227.33 573.00,1232.00 C576.00,1236.67 580.50,1241.17 585.00,1250.00 C589.50,1258.83 595.50,1275.83 600.00,1285.00 C604.50,1294.17 608.67,1300.70 612.00,1305.00 C615.33,1309.30 618.67,1309.83 620.00,1310.80 Z" fill="#b5b5b5" fill-opacity="1.0"/>
<line x1="572.8" y1="1310.8" x2="572.8" y2="1198" stroke="#000" stroke-width="2.8" stroke-dasharray="18.4,8.6"/>
<line x1="586.9" y1="1310.8" x2="586.9" y2="1198" stroke="#1a9a3e" stroke-width="2.8" stroke-dasharray="18.4,8.6"/>
<path d="M498.00,1310.80 C502.00,1310.58 516.33,1311.30 522.00,1309.50 C527.67,1307.70 528.40,1305.25 532.00,1300.00 C535.60,1294.75 539.60,1286.33 543.60,1278.00 C547.60,1269.67 551.93,1257.17 556.00,1250.00 C560.07,1242.83 563.35,1238.13 568.00,1235.00 C572.65,1231.87 579.40,1229.53 583.90,1231.20 C588.40,1232.87 590.53,1237.20 595.00,1245.00 C599.47,1252.80 605.70,1269.17 610.70,1278.00 C615.70,1286.83 620.12,1293.00 625.00,1298.00 C629.88,1303.00 635.00,1305.87 640.00,1308.00 C645.00,1310.13 652.50,1310.33 655.00,1310.80 Z" fill="#1a9a3e" fill-opacity="0.55"/>
<line x1="498.0" y1="1197.9" x2="498.0" y2="1312.1" stroke="#000" stroke-width="2.6" />
<line x1="496.7" y1="1310.8" x2="662.2" y2="1310.8" stroke="#000" stroke-width="2.6" />
<line x1="494.5" y1="1198.7" x2="498.0" y2="1198.7" stroke="#000" stroke-width="2" />
<text x="489.6" y="1204.7" font-size="20.5" text-anchor="end" fill="#000" font-weight="normal" >20</text>
<line x1="494.5" y1="1254.3" x2="498.0" y2="1254.3" stroke="#000" stroke-width="2" />
<text x="489.6" y="1260.3" font-size="20.5" text-anchor="end" fill="#000" font-weight="normal" >10</text>
<line x1="494.5" y1="1310.8" x2="498.0" y2="1310.8" stroke="#000" stroke-width="2" />
<text x="489.6" y="1316.8" font-size="20.5" text-anchor="end" fill="#000" font-weight="normal" >0</text>
<line x1="497.6" y1="1310.8" x2="497.6" y2="1314.3" stroke="#000" stroke-width="2" />
<text x="497.6" y="1333.2" font-size="20.5" text-anchor="middle" fill="#000" font-weight="normal" >0</text>
<line x1="579.2" y1="1310.8" x2="579.2" y2="1314.3" stroke="#000" stroke-width="2" />
<text x="579.2" y="1333.2" font-size="20.5" text-anchor="middle" fill="#000" font-weight="normal" >0.1</text>
<line x1="660.7" y1="1310.8" x2="660.7" y2="1314.3" stroke="#000" stroke-width="2" />
<text x="660.7" y="1333.2" font-size="20.5" text-anchor="middle" fill="#000" font-weight="normal" >0.2</text>
<path d="M568.10,1175.30L568.10,1170.10M568.10,1175.30L573.05,1173.69M568.10,1175.30L571.16,1179.51M568.10,1175.30L565.04,1179.51M568.10,1175.30L563.15,1173.69" stroke="#000" stroke-width="1.7" fill="none"/>
<path d="M579.80,1175.30L579.80,1170.10M579.80,1175.30L584.75,1173.69M579.80,1175.30L582.86,1179.51M579.80,1175.30L576.74,1179.51M579.80,1175.30L574.85,1173.69" stroke="#000" stroke-width="1.7" fill="none"/>
<path d="M591.50,1175.30L591.50,1170.10M591.50,1175.30L596.45,1173.69M591.50,1175.30L594.56,1179.51M591.50,1175.30L588.44,1179.51M591.50,1175.30L586.55,1173.69" stroke="#000" stroke-width="1.7" fill="none"/>
<path d="M570.5,1193 L570.5,1184.6 L590.3,1184.6 L590.3,1193" stroke="#000" stroke-width="2" fill="none"/>
<path d="M692.50,1310.40 C700.75,1310.17 732.75,1312.40 742.00,1309.00 C751.25,1305.60 746.33,1299.00 748.00,1290.00 C749.67,1281.00 750.30,1266.35 752.00,1255.00 C753.70,1243.65 756.20,1225.23 758.20,1221.90 C760.20,1218.57 762.03,1228.32 764.00,1235.00 C765.97,1241.68 766.95,1255.03 770.00,1262.00 C773.05,1268.97 778.13,1273.80 782.30,1276.80 C786.47,1279.80 790.98,1278.88 795.00,1280.00 C799.02,1281.12 802.57,1280.67 806.40,1283.50 C810.23,1286.33 813.97,1292.52 818.00,1297.00 C822.03,1301.48 828.50,1308.17 830.60,1310.40 Z" fill="#b5b5b5" fill-opacity="1.0"/>
<line x1="773" y1="1310.4" x2="773" y2="1198" stroke="#000" stroke-width="2.8" stroke-dasharray="18.4,8.6"/>
<line x1="769.2" y1="1310.4" x2="769.2" y2="1198" stroke="#6b67ae" stroke-width="2.8" stroke-dasharray="18.4,8.6"/>
<path d="M692.50,1310.40 C694.25,1310.30 699.42,1311.20 703.00,1309.80 C706.58,1308.40 710.33,1306.13 714.00,1302.00 C717.67,1297.87 721.50,1290.67 725.00,1285.00 C728.50,1279.33 731.50,1272.00 735.00,1268.00 C738.50,1264.00 742.33,1262.22 746.00,1261.00 C749.67,1259.78 753.17,1260.87 757.00,1260.70 C760.83,1260.53 765.00,1260.53 769.00,1260.00 C773.00,1259.47 776.67,1255.50 781.00,1257.50 C785.33,1259.50 790.50,1265.75 795.00,1272.00 C799.50,1278.25 803.83,1288.60 808.00,1295.00 C812.17,1301.40 818.00,1307.83 820.00,1310.40 Z" fill="#6b67ae" fill-opacity="0.5"/>
<line x1="692.5" y1="1198.2" x2="692.5" y2="1311.7" stroke="#000" stroke-width="2.6" />
<line x1="691.2" y1="1310.4" x2="857.0" y2="1310.4" stroke="#000" stroke-width="2.6" />
<line x1="689.0" y1="1221.5" x2="692.5" y2="1221.5" stroke="#000" stroke-width="2" />
<text x="682.5" y="1227.5" font-size="20.5" text-anchor="end" fill="#000" font-weight="normal" >20</text>
<line x1="689.0" y1="1266.4" x2="692.5" y2="1266.4" stroke="#000" stroke-width="2" />
<text x="682.5" y="1272.4" font-size="20.5" text-anchor="end" fill="#000" font-weight="normal" >10</text>
<line x1="689.0" y1="1310.4" x2="692.5" y2="1310.4" stroke="#000" stroke-width="2" />
<text x="682.5" y="1316.4" font-size="20.5" text-anchor="end" fill="#000" font-weight="normal" >0</text>
<line x1="692.9" y1="1310.4" x2="692.9" y2="1313.9" stroke="#000" stroke-width="2" />
<text x="692.9" y="1333.5" font-size="20.5" text-anchor="middle" fill="#000" font-weight="normal" >0</text>
<line x1="773.4" y1="1310.4" x2="773.4" y2="1313.9" stroke="#000" stroke-width="2" />
<text x="773.4" y="1333.5" font-size="20.5" text-anchor="middle" fill="#000" font-weight="normal" >0.1</text>
<line x1="856.0" y1="1310.4" x2="856.0" y2="1313.9" stroke="#000" stroke-width="2" />
<text x="856.0" y="1333.5" font-size="20.5" text-anchor="middle" fill="#000" font-weight="normal" >0.2</text>
<rect x="821.0" y="1179.8" width="10.9" height="9.3" fill="#c31545"/>
<rect x="831.9" y="1179.8" width="10.9" height="9.3" fill="#e68a00"/>
<rect x="842.7" y="1179.8" width="10.9" height="9.3" fill="#12963d"/>
<rect x="853.5" y="1179.8" width="10.9" height="9.3" fill="#6b67ae"/>
<text x="821.0" y="1207.3" font-size="20.5" text-anchor="start" fill="#000" font-weight="normal" >Interareal</text>
<text x="821.0" y="1227.9" font-size="20.5" text-anchor="start" fill="#000" font-weight="normal" >CCG cells</text>
<rect x="821.0" y="1240.0" width="42.0" height="9.7" fill="#b0b0b0"/>
<text x="821.0" y="1267.0" font-size="20.5" text-anchor="start" fill="#000" font-weight="normal" >Remaining</text>
<text x="821.0" y="1287.2" font-size="20.5" text-anchor="start" fill="#000" font-weight="normal" >population</text>
<text transform="translate(926.9,967.5) scale(1.14,1)" font-size="32.5" font-weight="bold" fill="#000" stroke="#000" stroke-width="0.9">f</text>
<path d="M1021.30,1040.80 C1025.25,1037.83 1035.97,1027.80 1045.00,1023.00 C1054.03,1018.20 1064.77,1015.38 1075.50,1012.00 C1086.23,1008.62 1098.12,1005.70 1109.40,1002.70 C1120.68,999.70 1132.27,995.78 1143.20,994.00 C1154.13,992.22 1164.35,991.48 1175.00,992.00 C1185.65,992.52 1193.13,994.30 1207.10,997.10 C1221.07,999.90 1245.08,1004.10 1258.80,1008.80 C1272.52,1013.50 1281.55,1020.00 1289.40,1025.30 C1297.25,1030.60 1300.80,1037.15 1305.90,1040.60 C1311.00,1044.05 1314.50,1041.48 1320.00,1046.00 C1325.50,1050.52 1333.02,1058.20 1338.90,1067.70 C1344.78,1077.20 1350.60,1090.45 1355.30,1103.00 C1360.00,1115.55 1363.77,1128.50 1367.10,1143.00 C1370.43,1157.50 1373.93,1177.07 1375.30,1190.00 C1376.67,1202.93 1376.27,1212.75 1375.30,1220.60 C1374.33,1228.45 1371.65,1233.37 1369.50,1237.10 C1367.35,1240.83 1364.37,1241.93 1362.40,1243.00 C1360.43,1244.07 1359.27,1241.33 1357.70,1243.50 C1356.13,1245.67 1355.35,1251.18 1353.00,1256.00 C1350.65,1260.82 1347.52,1267.12 1343.60,1272.40 C1339.68,1277.68 1334.60,1286.52 1329.50,1287.70 C1324.40,1288.88 1319.68,1283.42 1313.00,1279.50 C1306.32,1275.58 1296.07,1265.45 1289.40,1264.20 C1282.73,1262.95 1282.02,1271.20 1273.00,1272.00 C1263.98,1272.80 1247.52,1267.33 1235.30,1269.00 C1223.08,1270.67 1211.28,1275.70 1199.70,1282.00 C1188.12,1288.30 1175.20,1300.03 1165.80,1306.80 C1156.40,1313.57 1154.58,1319.58 1143.30,1322.60 C1132.02,1325.62 1107.52,1325.28 1098.10,1324.90 C1088.68,1324.52 1093.20,1322.18 1086.80,1320.30 C1080.40,1318.42 1067.23,1318.48 1059.70,1313.60 C1052.17,1308.72 1045.37,1298.53 1041.60,1291.00 C1037.83,1283.47 1036.90,1275.18 1037.10,1268.40 C1037.30,1261.62 1042.05,1257.07 1042.80,1250.30 C1043.55,1243.53 1041.05,1235.32 1041.60,1227.80 C1042.15,1220.28 1043.08,1211.98 1046.10,1205.20 C1049.12,1198.42 1057.43,1190.12 1059.70,1187.10" stroke="#bdbdbd" stroke-width="3.2" fill="none" stroke-linejoin="round" stroke-linecap="round"/>
<path d="M1059.70,1187.10 C1055.57,1188.98 1042.43,1195.95 1034.90,1198.40 C1027.37,1200.85 1020.90,1203.30 1014.50,1201.80 C1008.10,1200.30 1003.27,1193.35 996.50,1189.40 C989.73,1185.45 980.30,1183.00 973.90,1178.10 C967.50,1173.20 962.05,1167.35 958.10,1160.00 C954.15,1152.65 950.40,1143.13 950.20,1134.00 C950.00,1124.87 953.52,1114.23 956.90,1105.20 C960.28,1096.17 964.85,1087.72 970.50,1079.80 C976.15,1071.88 984.58,1063.07 990.80,1057.70 C997.02,1052.33 1002.72,1050.42 1007.80,1047.60 C1012.88,1044.78 1019.05,1041.93 1021.30,1040.80" stroke="#bdbdbd" stroke-width="3.2" fill="none" stroke-linejoin="round" stroke-linecap="round"/>
<ellipse cx="1051.3" cy="1089.9" rx="53.8" ry="59.9" fill="#d3d5e0"/>
<ellipse cx="1261.5" cy="1158.3" rx="52.6" ry="58.8" fill="#f6f0cc"/>
<path d="M973.00,1106.90 C974.55,1106.62 978.48,1107.18 982.30,1105.20 C986.12,1103.22 990.25,1098.95 995.90,1095.00 C1001.55,1091.05 1008.58,1085.17 1016.20,1081.50 C1023.82,1077.83 1034.53,1074.70 1041.60,1073.00 C1048.67,1071.30 1052.53,1073.00 1058.60,1071.30 C1064.67,1069.60 1074.77,1064.22 1078.00,1062.80" stroke="#b3b3b3" stroke-width="1.5" fill="none" stroke-linejoin="round" stroke-linecap="round"/>
<path d="M1049.20,1040.00 C1052.45,1039.15 1062.90,1035.33 1068.70,1034.90 C1074.50,1034.47 1079.48,1035.00 1084.00,1037.40 C1088.52,1039.80 1093.55,1045.35 1095.80,1049.30 C1098.05,1053.25 1098.07,1056.87 1097.50,1061.10 C1096.93,1065.33 1094.65,1069.62 1092.40,1074.70 C1090.15,1079.78 1088.23,1085.95 1084.00,1091.60 C1079.77,1097.25 1072.65,1102.67 1067.00,1108.60 C1061.35,1114.53 1054.33,1122.13 1050.10,1127.20 C1045.87,1132.27 1043.02,1137.03 1041.60,1139.00" stroke="#b3b3b3" stroke-width="1.5" fill="none" stroke-linejoin="round" stroke-linecap="round"/>
<path d="M1199.50,1000.00 C1196.40,1002.07 1188.40,1005.93 1180.90,1012.40 C1173.40,1018.87 1161.48,1030.52 1154.50,1038.80 C1147.52,1047.08 1142.88,1054.85 1139.00,1062.10 C1135.12,1069.35 1132.88,1074.53 1131.20,1082.30 C1129.52,1090.07 1129.28,1104.30 1128.90,1108.70" stroke="#b3b3b3" stroke-width="1.5" fill="none" stroke-linejoin="round" stroke-linecap="round"/>
<path d="M1305.90,1040.60 C1301.88,1039.02 1290.98,1032.82 1281.80,1031.10 C1272.62,1029.38 1259.85,1029.78 1250.80,1030.30 C1241.75,1030.82 1233.97,1032.27 1227.50,1034.20 C1221.03,1036.13 1218.47,1037.52 1212.00,1041.90 C1205.53,1046.28 1195.17,1056.10 1188.70,1060.50 C1182.23,1064.90 1177.87,1067.00 1173.20,1068.30 C1168.53,1069.60 1162.78,1068.30 1160.70,1068.30" stroke="#b3b3b3" stroke-width="1.5" fill="none" stroke-linejoin="round" stroke-linecap="round"/>
<path d="M1059.70,1187.10 C1064.22,1184.85 1078.23,1177.87 1086.80,1173.60 C1095.37,1169.33 1101.88,1164.55 1111.10,1161.50 C1120.32,1158.45 1131.75,1158.93 1142.10,1155.30 C1152.45,1151.67 1162.85,1145.92 1173.20,1139.70 C1183.55,1133.48 1193.85,1125.23 1204.20,1118.00 C1214.55,1110.77 1224.68,1101.08 1235.30,1096.30 C1245.92,1091.52 1262.47,1090.47 1267.90,1089.30" stroke="#b3b3b3" stroke-width="1.5" fill="none" stroke-linejoin="round" stroke-linecap="round"/>
<path d="M1300.00,1059.00 C1296.97,1063.40 1288.72,1077.12 1281.80,1085.40 C1274.88,1093.68 1266.25,1100.93 1258.50,1108.70 C1250.75,1116.47 1243.05,1123.47 1235.30,1132.00 C1227.55,1140.53 1219.82,1148.83 1212.00,1159.90 C1204.18,1170.97 1199.85,1187.08 1188.40,1198.40 C1176.95,1209.72 1158.35,1218.02 1143.30,1227.80 C1128.25,1237.58 1110.90,1247.70 1098.10,1257.10 C1085.30,1266.50 1071.77,1279.68 1066.50,1284.20" stroke="#b3b3b3" stroke-width="1.5" fill="none" stroke-linejoin="round" stroke-linecap="round"/>
<path d="M1305.90,1040.60 C1307.08,1045.17 1312.98,1056.77 1313.00,1068.00 C1313.02,1079.23 1309.93,1096.67 1306.00,1108.00 C1302.07,1119.33 1293.73,1127.33 1289.40,1136.00 C1285.07,1144.67 1282.07,1151.33 1280.00,1160.00 C1277.93,1168.67 1277.50,1183.33 1277.00,1188.00" stroke="#b3b3b3" stroke-width="1.5" fill="none" stroke-linejoin="round" stroke-linecap="round"/>
<path d="M1248.50,1178.50 C1250.17,1182.92 1254.92,1195.58 1258.50,1205.00 C1262.08,1214.42 1264.85,1225.13 1270.00,1235.00 C1275.15,1244.87 1286.17,1259.33 1289.40,1264.20" stroke="#b3b3b3" stroke-width="1.5" fill="none" stroke-linejoin="round" stroke-linecap="round"/>
<path d="M1202.00,1242.40 C1205.77,1242.40 1216.88,1241.08 1224.60,1242.40 C1232.32,1243.72 1244.35,1248.98 1248.30,1250.30" stroke="#b3b3b3" stroke-width="1.5" fill="none" stroke-linejoin="round" stroke-linecap="round"/>
<line x1="1032.8" y1="1046.7" x2="1032.8" y2="1070.8" stroke="#262a5c" stroke-width="2.6" />
<path d="M1031.5,1068.8 L1034.1,1068.8 L1040.6,1079.3 L1042.8,1082.1 L1041.4,1083.7 L1039.4,1081.3 L1026.2,1081.3 L1024.2,1083.7 L1022.8,1082.1 L1025.0,1079.3 Z" fill="#262a5c"/>
<line x1="1068.7" y1="1039.1" x2="1068.7" y2="1061.4" stroke="#262a5c" stroke-width="2.6" />
<path d="M1067.4,1059.4 L1070.0,1059.4 L1076.5,1072.5 L1078.7,1075.3 L1077.3,1076.9 L1075.3,1074.5 L1062.1,1074.5 L1060.1,1076.9 L1058.7,1075.3 L1060.9,1072.5 Z" fill="#262a5c"/>
<line x1="1050.9" y1="1074.7" x2="1050.9" y2="1097.0" stroke="#262a5c" stroke-width="2.6" />
<path d="M1049.6,1095.0 L1052.2,1095.0 L1058.7,1107.6 L1060.9,1110.4 L1059.5,1112.0 L1057.5,1109.6 L1044.3,1109.6 L1042.3,1112.0 L1040.9,1110.4 L1043.1,1107.6 Z" fill="#262a5c"/>
<line x1="1028.9" y1="1091.3" x2="1028.9" y2="1114.0" stroke="#262a5c" stroke-width="2.6" />
<path d="M1027.6,1112.0 L1030.2,1112.0 L1036.7,1124.2 L1038.9,1127.0 L1037.5,1128.6 L1035.5,1126.2 L1022.3,1126.2 L1020.3,1128.6 L1018.9,1127.0 L1021.1,1124.2 Z" fill="#262a5c"/>
<line x1="1074.7" y1="1091.3" x2="1074.7" y2="1114.8" stroke="#262a5c" stroke-width="2.6" />
<path d="M1073.4,1112.8 L1076.0,1112.8 L1082.5,1124.2 L1084.7,1127.0 L1083.3,1128.6 L1081.3,1126.2 L1068.1,1126.2 L1066.1,1128.6 L1064.7,1127.0 L1066.9,1124.2 Z" fill="#262a5c"/>
<line x1="1243.8" y1="1114.1" x2="1243.8" y2="1138.6" stroke="#dbbf00" stroke-width="2.6" />
<path d="M1242.5,1136.6 L1245.1,1136.6 L1251.6,1146.8 L1253.8,1149.6 L1252.4,1151.2 L1250.4,1148.8 L1237.2,1148.8 L1235.2,1151.2 L1233.8,1149.6 L1236.0,1146.8 Z" fill="#dbbf00"/>
<line x1="1279.5" y1="1107.1" x2="1279.5" y2="1132.4" stroke="#dbbf00" stroke-width="2.6" />
<path d="M1278.2,1130.4 L1280.8,1130.4 L1287.3,1140.6 L1289.5,1143.4 L1288.1,1145.0 L1286.1,1142.6 L1272.9,1142.6 L1270.9,1145.0 L1269.5,1143.4 L1271.7,1140.6 Z" fill="#dbbf00"/>
<line x1="1261.6" y1="1142.1" x2="1261.6" y2="1166.6" stroke="#dbbf00" stroke-width="2.6" />
<path d="M1260.3,1164.6 L1262.9,1164.6 L1269.4,1175.5 L1271.6,1178.3 L1270.2,1179.9 L1268.2,1177.5 L1255.0,1177.5 L1253.0,1179.9 L1251.6,1178.3 L1253.8,1175.5 Z" fill="#dbbf00"/>
<line x1="1239.1" y1="1158.4" x2="1239.1" y2="1183.6" stroke="#dbbf00" stroke-width="2.6" />
<path d="M1237.8,1181.6 L1240.4,1181.6 L1246.9,1191.8 L1249.1,1194.6 L1247.7,1196.2 L1245.7,1193.8 L1232.5,1193.8 L1230.5,1196.2 L1229.1,1194.6 L1231.3,1191.8 Z" fill="#dbbf00"/>
<line x1="1285.9" y1="1158.3" x2="1285.9" y2="1177.9" stroke="#dbbf00" stroke-width="2.6" />
<path d="M1284.6,1175.9 L1287.2,1175.9 L1293.7,1191.8 L1295.9,1194.6 L1294.5,1196.2 L1292.5,1193.8 L1279.3,1193.8 L1277.3,1196.2 L1275.9,1194.6 L1278.1,1191.8 Z" fill="#dbbf00"/>
<path d="M1073,1131 C1073,1152 1066,1159.5 1057,1159.5 C1050,1159.5 1045,1155 1041,1149" stroke="#0b9ee0" stroke-width="5" fill="none"/>
<path d="M1034,1132.3 L1032.3,1155.5 L1050.5,1148.5 Z" fill="#0b9ee0"/>
<path d="M1283.6,1198 C1283.6,1216 1276,1226.5 1266,1226.5 C1260,1226.5 1256,1222 1253,1217" stroke="#0b9ee0" stroke-width="5" fill="none"/>
<path d="M1247.1,1197.1 L1243.5,1222 L1261.2,1217.1 Z" fill="#0b9ee0"/>
<path d="M1201.9,1147.5 C1182,1127 1158,1113 1128,1116.4" stroke="#be1622" stroke-width="4" fill="none" stroke-linecap="round"/>
<path d="M1117.3,1116.4 L1140.5,1105.8 L1133.5,1116.4 L1140.5,1125.6 Z" fill="#be1622"/>
<path d="M1110.3,1128.9 C1130,1152 1155,1166 1192,1162.2" stroke="#be1622" stroke-width="4" fill="none" stroke-linecap="round"/>
<path d="M1202.7,1162.2 L1180.9,1156.5 L1188,1162.5 L1181.7,1174.7 Z" fill="#be1622"/>
<rect x="1133.0" y="1058.2" width="3.1" height="14.8" fill="#1f2657"/>
<rect x="1144.8" y="1058.2" width="3.1" height="14.8" fill="#1f2657"/>
<rect x="1156.0" y="1058.2" width="3.1" height="14.8" fill="#1f2657"/>
<rect x="1161.9" y="1058.2" width="3.1" height="14.8" fill="#1f2657"/>
<rect x="1179.4" y="1058.2" width="3.1" height="14.8" fill="#1f2657"/>
<rect x="1185.2" y="1058.2" width="3.1" height="14.8" fill="#1f2657"/>
<rect x="1202.7" y="1058.2" width="3.1" height="14.8" fill="#1f2657"/>
<rect x="1214.2" y="1058.2" width="3.1" height="14.8" fill="#1f2657"/>
<rect x="1225.7" y="1058.2" width="3.1" height="14.8" fill="#1f2657"/>
<rect x="1237.2" y="1058.2" width="3.1" height="14.8" fill="#1f2657"/>
<rect x="1243.0" y="1058.2" width="3.1" height="14.8" fill="#1f2657"/>
<rect x="1115.8" y="1078.4" width="3.1" height="14.8" fill="#dbbf00"/>
<rect x="1122.0" y="1078.4" width="3.1" height="14.8" fill="#dbbf00"/>
<rect x="1133.5" y="1078.4" width="3.1" height="14.8" fill="#dbbf00"/>
<rect x="1139.4" y="1078.4" width="3.1" height="14.8" fill="#dbbf00"/>
<rect x="1144.9" y="1078.4" width="3.1" height="14.8" fill="#dbbf00"/>
<rect x="1157.4" y="1078.4" width="3.1" height="14.8" fill="#dbbf00"/>
<rect x="1162.5" y="1078.4" width="3.1" height="14.8" fill="#dbbf00"/>
<rect x="1174.2" y="1078.4" width="3.1" height="14.8" fill="#dbbf00"/>
<rect x="1179.9" y="1078.4" width="3.1" height="14.8" fill="#dbbf00"/>
<rect x="1185.5" y="1078.4" width="3.1" height="14.8" fill="#dbbf00"/>
<rect x="1191.4" y="1078.4" width="3.1" height="14.8" fill="#dbbf00"/>
<rect x="1202.7" y="1078.4" width="3.1" height="14.8" fill="#dbbf00"/>
<rect x="1208.5" y="1078.4" width="3.1" height="14.8" fill="#dbbf00"/>
<rect x="1214.2" y="1078.4" width="3.1" height="14.8" fill="#dbbf00"/>
<rect x="1226.0" y="1078.4" width="3.1" height="14.8" fill="#dbbf00"/>
<rect x="1231.9" y="1078.4" width="3.1" height="14.8" fill="#dbbf00"/>
<rect x="1243.8" y="1078.4" width="3.1" height="14.8" fill="#dbbf00"/>
<text x="965.4" y="1034.4" font-size="20.5" text-anchor="start" fill="#000" font-weight="normal" >dlPFC</text>
<text x="1310.6" y="1192.9" font-size="20.5" text-anchor="start" fill="#000" font-weight="normal" >V4</text>
<text x="1113.4" y="1023.6" font-size="20.2" text-anchor="start" fill="#c11a2e" font-weight="normal" >(1) Improved</text>
<text x="1113.4" y="1046.6" font-size="20.9" text-anchor="start" fill="#c11a2e" font-weight="normal" >coordination</text>
<text x="1063.1" y="1206.3" font-size="20.5" text-anchor="start" fill="#0d9ddb" font-weight="normal" >(2) Improved</text>
<text x="1063.1" y="1228.9" font-size="20.5" text-anchor="start" fill="#0d9ddb" font-weight="normal" >encoding of</text>
<text x="1063.1" y="1251.5" font-size="20.5" text-anchor="start" fill="#0d9ddb" font-weight="normal" >social events</text>
<text x="1063.1" y="1275.2" font-size="20.5" text-anchor="start" fill="#0d9ddb" font-weight="normal" >within areas</text>
</svg>
</body></html>
